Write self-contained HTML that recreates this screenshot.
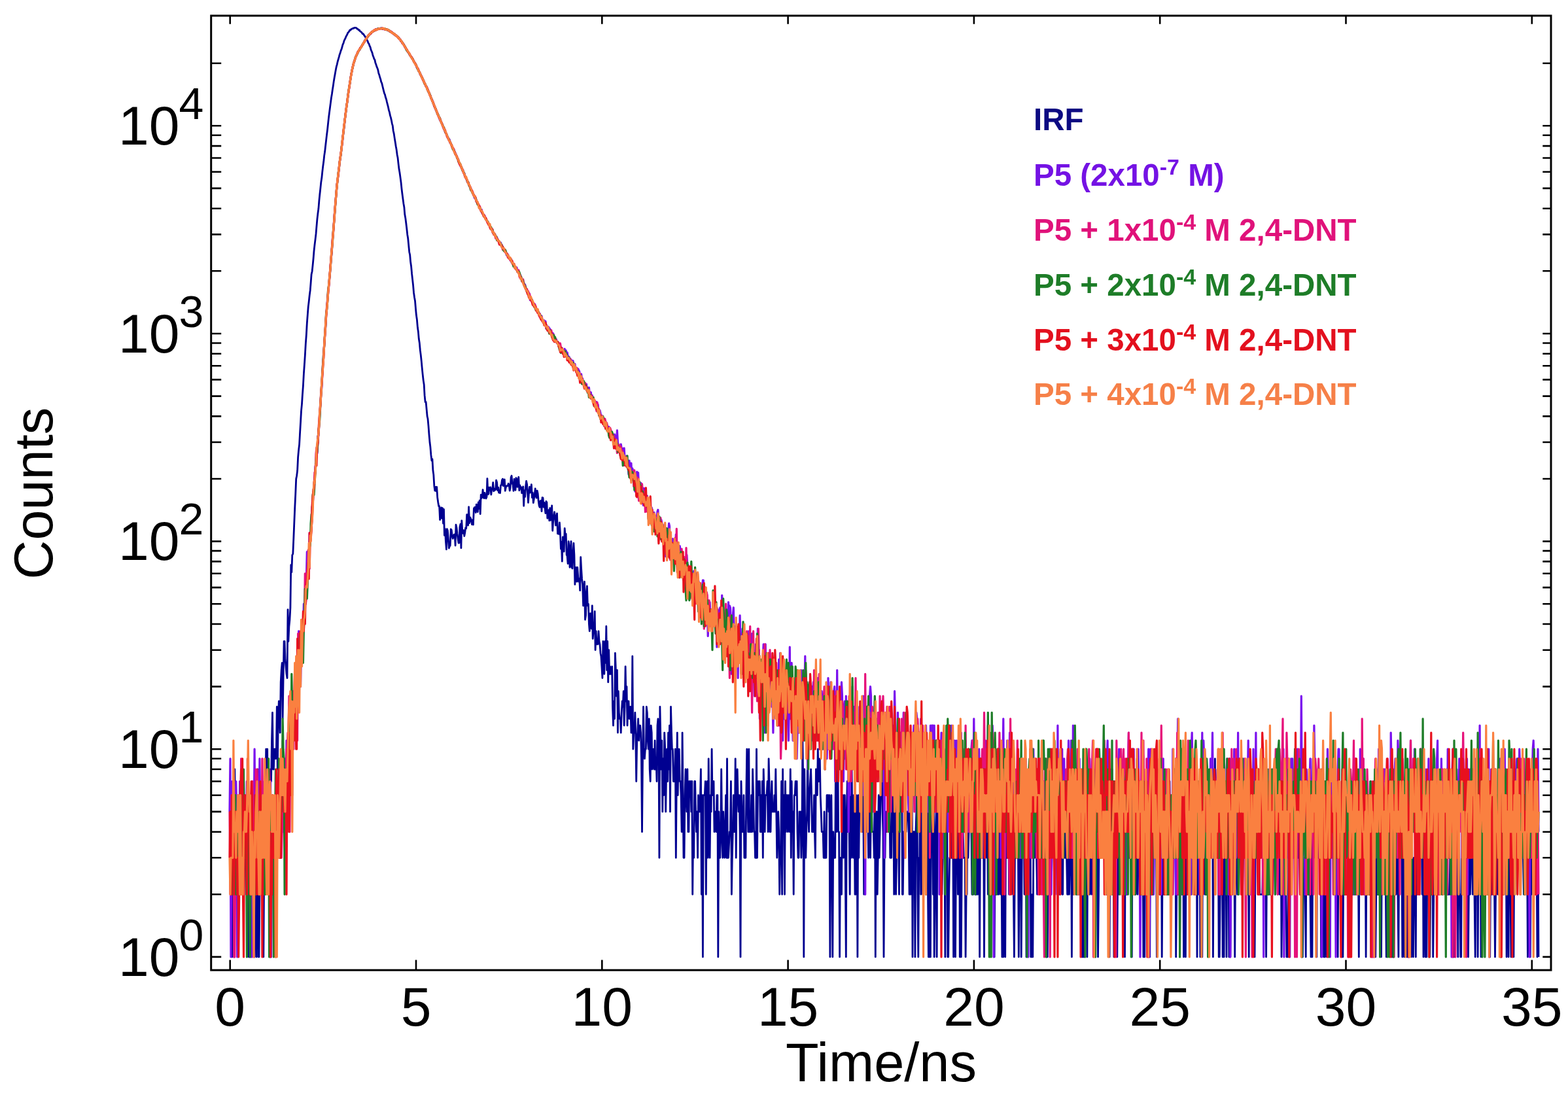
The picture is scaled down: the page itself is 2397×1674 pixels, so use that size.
<!DOCTYPE html>
<html><head><meta charset="utf-8"><title>Fluorescence decay</title>
<style>
html,body{margin:0;padding:0;background:#fff;}
svg{display:block;}
.tl{font-family:"Liberation Sans",Arial,sans-serif;font-size:84px;fill:#000;}
.at{font-family:"Liberation Sans",Arial,sans-serif;font-size:83px;fill:#000;}
.ts{font-family:"Liberation Sans",Arial,sans-serif;font-size:68px;fill:#000;}
.lg{font-family:"Liberation Sans",Arial,sans-serif;font-size:47.5px;font-weight:bold;}
.lgs{font-size:34px;}
.data polyline{fill:none;stroke-width:3.2;stroke-linejoin:round;}
</style></head>
<body>
<svg width="2397" height="1674" viewBox="0 0 2397 1674">
<rect width="2397" height="1674" fill="#fff"/>
<defs><clipPath id="cp"><rect x="322.7" y="24.0" width="2048.3" height="1459.1"/></clipPath></defs>
<g class="data" clip-path="url(#cp)">
<polyline points="351,1311.3 352,1311.3 353,1240.9 353.9,1240.9 354.9,1462.9 355.9,1367.3 356.9,1367.3 357.8,1367.3 358.8,1176 359.8,1271.7 360.8,1367.3 362.7,1367.3 363.7,1367.3 364.7,1367.3 365.7,1311.3 366.6,1367.3 367.6,1367.3 368.6,1311.3 369.6,1271.7 370.6,1367.3 371.5,1367.3 372.5,1367.3 373.5,1311.3 375.4,1271.7 376.4,1367.3 377.4,1367.3 378.4,1311.3 379.3,1367.3 380.3,1462.9 381.3,1311.3 382.3,1271.7 383.3,1367.3 384.2,1462.9 385.2,1367.3 386.2,1240.9 387.2,1215.7 388.1,1271.7 389.1,1462.9 390.1,1271.7 391.1,1367.3 392.1,1462.9 393,1194.5 394,1176 395,1462.9 396,1462.9 396.9,1367.3 397.9,1311.3 398.9,1240.9 399.9,1271.7 400.9,1271.7 401.8,1311.3 402.8,1462.9 403.8,1311.3 404.8,1311.3 405.7,1240.9 406.7,1145.2 407.7,1271.7 408.7,1145.2 409.7,1311.3 410.6,1194.5 411.6,1194.5 412.6,1215.7 413.6,1176 414.5,1194.5 415.5,1132.1 416.5,1089.3 417.5,1176 418.4,1176 419.4,1145.2 420.4,1145.2 421.4,1159.8 422.4,1145.2 423.3,1080.4 424.3,1176 425.3,1098.8 426.3,1072 427.2,1089.3 428.2,1120.1 429.2,1042.9 430.2,1024.5 431.2,1013.4 432.1,1098.8 433.1,1036.5 434.1,980.5 435.1,980.5 436,1008.2 437,1018.8 438,1030.3 439,1036.5 440,931.8 440.9,980.5 441.9,957.5 442.9,947.3 443.9,928.9 444.8,863.7 445.8,874.8 446.8,848.4 447.8,846.8 448.8,823.6 449.7,801.6 450.7,777.4 451.7,756.3 452.7,732.1 453.6,727.7 454.6,719.7 455.6,698.9 456.6,688 457.6,679.3 458.5,663 459.5,646.1 460.5,628.2 461.5,617.6 462.4,603.4 463.4,589.9 464.4,571.1 465.4,557.2 466.3,543.5 467.3,525.6 468.3,512.1 469.3,494.2 470.3,480.8 471.2,469.1 472.2,460.9 473.2,451.5 474.2,443.9 475.1,432.6 476.1,419.4 477.1,415 478.1,405.4 479.1,395 480,383.7 481,374.3 482,366.3 483,357.7 483.9,346.7 484.9,335.2 485.9,326.3 486.9,319 487.9,306.5 488.8,297.5 489.8,288.3 490.8,278.6 491.8,272.3 492.7,263.4 493.7,254.7 494.7,247.3 495.7,237.9 496.7,231.3 497.6,223 498.6,214.3 499.6,205.6 500.6,197.7 501.5,189.1 502.5,179.9 503.5,171.8 504.5,164.2 505.4,157.4 506.4,149.8 507.4,143.8 508.4,136.8 509.4,130.5 510.3,123.9 511.3,118 512.3,112.6 513.3,106.7 514.2,102.2 515.2,98.6 516.2,94 517.2,90.6 518.2,87.1 519.1,83.6 520.1,81 521.1,77.4 522.1,75.1 523,71.9 524,68.2 525,66.1 526,62.5 527,60.3 527.9,58.8 528.9,56.1 529.9,54.3 530.9,52.4 531.8,50 532.8,49.4 533.8,47.7 534.8,46 535.8,46.1 536.7,44.8 537.7,44.3 538.7,43.7 539.7,43.1 540.6,43.4 541.6,42.5 542.6,42.4 543.6,42.4 544.6,42.7 545.5,43.9 546.5,44 547.5,45 548.5,46.2 549.4,45.9 550.4,47.8 551.4,48.4 552.4,49.1 553.3,50.2 554.3,51.8 555.3,51.7 556.3,53.3 557.3,54.9 558.2,55.8 559.2,58.3 560.2,59.4 561.2,61.4 562.1,63 563.1,66.1 564.1,67.1 565.1,70.3 566.1,72.1 567,75.9 568,78.3 569,80.6 570,84.8 570.9,86.9 571.9,90 572.9,91.4 573.9,96.1 574.9,98.7 575.8,101.6 576.8,104 577.8,106.8 578.8,111.9 579.7,114.2 580.7,118 581.7,120.9 582.7,125.1 583.7,127.1 584.6,130.9 585.6,135.2 586.6,139.1 587.6,142.9 588.5,144.7 589.5,149.1 590.5,151.8 591.5,156.1 592.4,159.6 593.4,163.5 594.4,168.4 595.4,171.5 596.4,176.4 597.3,179.3 598.3,183.6 599.3,188.8 600.3,192.3 601.2,200 602.2,204.4 603.2,211.1 604.2,217.2 605.2,223.7 606.1,228.6 607.1,236.4 608.1,241.6 609.1,250.8 610,258.3 611,264 612,271.1 613,278.6 614,288.6 614.9,296 615.9,303.6 616.9,311.2 617.9,317 618.8,327.8 619.8,333.4 620.8,341.3 621.8,349.6 622.8,358.9 623.7,364.3 624.7,374.9 625.7,385.2 626.7,389.8 627.6,400.3 628.6,407.2 629.6,418.4 630.6,427.3 631.6,436.4 632.5,447.2 633.5,454.4 634.5,459.9 635.5,472.1 636.4,481.8 637.4,488.6 638.4,500.5 639.4,507.4 640.3,518.1 641.3,524.2 642.3,535.4 643.3,543.1 644.3,552.7 645.2,562.7 646.2,572.6 647.2,581.6 648.2,588 649.1,604.4 650.1,614.6 651.1,614.4 652.1,625.4 653.1,636.4 654,640.3 655,651.3 656,664.9 657,676.3 657.9,683.3 658.9,695.7 659.9,704 660.9,701.8 661.9,719.3 662.8,725.6 663.8,742.7 664.8,750.1 665.8,744.4 666.7,750.9 667.7,744.5 668.7,760.6 669.7,767.7 670.7,773.8 671.6,773.7 672.6,794.7 673.6,785.6 674.6,776 675.5,792.3 676.5,776.7 677.5,800.1 678.5,778.7 679.4,818.4 680.4,808.4 681.4,827.5 682.4,839.9 683.4,808.7 684.3,811.1 685.3,823.2 686.3,838 687.3,835.3 688.2,834 689.2,809 690.2,810.1 691.2,819.7 692.2,823.4 693.1,820.9 694.1,817.2 695.1,817.2 696.1,834 697,802.2 698,806.7 699,816 700,823.4 701,830 701.9,830 702.9,805.6 703.9,801.2 704.9,837.8 705.8,795.9 706.8,812.1 707.8,815.3 708.8,810.6 709.8,819.6 710.7,814.7 711.7,806.8 712.7,807.7 713.7,786.6 714.6,794.1 715.6,803 716.6,775 717.6,799.6 718.6,790.8 719.5,792.5 720.5,796.1 721.5,801.8 722.5,794.7 723.4,802.2 724.4,777.5 725.4,775.7 726.4,775.5 727.3,783.5 728.3,771.1 729.3,772.4 730.3,782.5 731.3,768 732.2,777.7 733.2,765.2 734.2,785.8 735.2,756.4 736.1,761.6 737.1,759.2 738.1,748.6 739.1,760.7 740.1,761.7 741,753.5 742,760.3 743,762 744,759.6 744.9,731.6 745.9,755.8 746.9,755 747.9,745.1 748.9,747.9 749.8,744.9 750.8,756.2 751.8,747 752.8,748 753.7,737.7 754.7,750.8 755.7,747.1 756.7,749.4 757.7,748.2 758.6,734.1 759.6,737.3 760.6,749.7 761.6,745 762.5,753.2 763.5,751.9 764.5,753.7 765.5,741.9 766.4,741.9 767.4,734.2 768.4,732.1 769.4,742.9 770.4,735.2 771.3,733 772.3,750.3 773.3,745 774.3,742.7 775.2,743.2 776.2,742.6 777.2,739.3 778.2,741.5 779.2,750.1 780.1,746 781.1,729.8 782.1,727.3 783.1,739.3 784,740.5 785,750.3 786,732.5 787,739.5 788,749.3 788.9,730.6 789.9,735.4 790.9,744.3 791.9,732.4 792.8,729.3 793.8,749.8 794.8,741.8 795.8,747.1 796.8,744.8 797.7,753.9 798.7,752.7 799.7,743.9 800.7,773.4 801.6,750 802.6,759.5 803.6,743.7 804.6,735.4 805.6,740.5 806.5,753.7 807.5,768.3 808.5,754 809.5,744.4 810.4,753 811.4,750 812.4,740.7 813.4,760.6 814.3,753.1 815.3,768.7 816.3,762.7 817.3,755 818.3,747 819.2,758.8 820.2,761.1 821.2,750.1 822.2,754.8 823.1,765.3 824.1,772.9 825.1,775.4 826.1,765.9 827.1,765.3 828,781.7 829,760.7 830,760.8 831,775.1 831.9,768.3 832.9,776.2 833.9,784.6 834.9,766.5 835.9,768.1 836.8,792.3 837.8,782 838.8,779.7 839.8,795.8 840.7,776.7 841.7,795.4 842.7,789.1 843.7,773 844.7,811.3 845.6,798.2 846.6,788.9 847.6,782.7 848.6,790.2 849.5,803.1 850.5,791.4 851.5,784.9 852.5,815.9 853.4,812.7 854.4,816.5 855.4,798.9 856.4,814.5 857.4,839.2 858.3,828.5 859.3,858.1 860.3,821 861.3,826.2 862.2,843.1 863.2,807.7 864.2,819.9 865.2,816.1 866.2,848.2 867.1,849.8 868.1,861.6 869.1,827.7 870.1,834.7 871,867.3 872,860.1 873,827.6 874,867.3 875,869.1 875.9,845.2 876.9,830.4 877.9,848.4 878.9,893.5 879.8,876.8 880.8,867.3 881.8,889.2 882.8,867.3 883.8,882.8 884.7,889.2 885.7,884.9 886.7,902.7 887.7,851.7 888.6,869.1 889.6,884.9 890.6,893.5 891.6,926 892.6,905.1 893.5,889.2 894.5,947.3 895.5,940.9 896.5,905.1 897.4,895.8 898.4,926 899.4,923.2 900.4,954 901.3,964.8 902.3,937.8 903.3,937.8 904.3,961.1 905.3,926 906.2,976.4 907.2,964.8 908.2,961.1 909.2,934.7 910.1,993.7 911.1,964.8 912.1,984.8 913.1,984.8 914.1,984.8 915,964.8 916,980.5 917,984.8 918,998.4 918.9,1003.2 919.9,1018.8 920.9,1036.5 921.9,980.5 922.9,1024.5 923.8,1030.3 924.8,980.5 925.8,1013.4 926.8,957.5 927.7,1024.5 928.7,980.5 929.7,1042.9 930.7,993.7 931.7,1030.3 932.6,1018.8 933.6,1030.3 934.6,1030.3 935.6,1018.8 936.5,1080.4 937.5,1109.1 938.5,1072 939.5,1098.8 940.4,998.4 941.4,1024.5 942.4,1064.2 943.4,1024.5 944.4,1120.1 945.3,1056.7 946.3,1089.3 947.3,1098.8 948.3,1098.8 949.2,1120.1 950.2,1089.3 951.2,1072 952.2,1080.4 953.2,1056.7 954.1,1109.1 955.1,1080.4 956.1,1018.8 957.1,1072 958,1049.6 959,1109.1 960,1072 961,1072 962,1098.8 962.9,1089.3 963.9,1080.4 964.9,1120.1 965.9,1120.1 966.8,1003.2 967.8,1145.2 968.8,1120.1 969.8,1120.1 970.8,1089.3 971.7,1120.1 972.7,1194.5 973.7,1132.1 974.7,1120.1 975.6,1098.8 976.6,1132.1 977.6,1109.1 978.6,1109.1 979.6,1120.1 980.5,1159.8 981.5,1271.7 982.5,1159.8 983.5,1080.4 984.4,1145.2 985.4,1159.8 986.4,1145.2 987.4,1145.2 988.3,1080.4 989.3,1089.3 990.3,1132.1 991.3,1145.2 992.3,1098.8 993.2,1176 994.2,1194.5 995.2,1109.1 996.2,1120.1 997.1,1176 998.1,1159.8 999.1,1145.2 1000.1,1176 1001.1,1132.1 1002,1176 1003,1159.8 1004,1194.5 1005,1109.1 1005.9,1098.8 1006.9,1132.1 1007.9,1311.3 1008.9,1080.4 1009.9,1132.1 1010.8,1176 1011.8,1132.1 1012.8,1240.9 1013.8,1159.8 1014.7,1215.7 1015.7,1120.1 1016.7,1145.2 1017.7,1240.9 1018.7,1176 1019.6,1145.2 1020.6,1194.5 1021.6,1120.1 1022.6,1176 1023.5,1109.1 1024.5,1240.9 1025.5,1080.4 1026.5,1120.1 1027.4,1145.2 1028.4,1145.2 1029.4,1194.5 1030.4,1194.5 1031.4,1194.5 1032.3,1145.2 1033.3,1311.3 1034.3,1194.5 1035.3,1120.1 1036.2,1215.7 1037.2,1159.8 1038.2,1145.2 1039.2,1194.5 1040.2,1194.5 1041.1,1215.7 1042.1,1271.7 1043.1,1120.1 1044.1,1215.7 1045,1311.3 1046,1311.3 1047,1215.7 1048,1176 1049,1215.7 1049.9,1240.9 1050.9,1176 1051.9,1271.7 1052.9,1271.7 1053.8,1194.5 1054.8,1215.7 1055.8,1194.5 1056.8,1240.9 1057.8,1194.5 1058.7,1367.3 1059.7,1271.7 1060.7,1311.3 1061.7,1194.5 1062.6,1194.5 1063.6,1240.9 1064.6,1271.7 1065.6,1240.9 1066.6,1311.3 1067.5,1215.7 1068.5,1240.9 1069.5,1240.9 1070.5,1215.7 1071.4,1176 1072.4,1367.3 1073.4,1215.7 1074.4,1462.9 1075.3,1215.7 1076.3,1215.7 1077.3,1215.7 1078.3,1194.5 1079.3,1367.3 1080.2,1240.9 1081.2,1194.5 1082.2,1311.3 1083.2,1159.8 1084.1,1240.9 1085.1,1311.3 1086.1,1215.7 1087.1,1240.9 1088.1,1145.2 1089,1215.7 1090,1215.7 1091,1194.5 1092,1271.7 1092.9,1240.9 1093.9,1240.9 1094.9,1271.7 1095.9,1215.7 1096.9,1215.7 1097.8,1462.9 1098.8,1240.9 1099.8,1311.3 1100.8,1311.3 1101.7,1271.7 1102.7,1176 1103.7,1271.7 1104.7,1311.3 1105.7,1240.9 1106.6,1271.7 1107.6,1311.3 1108.6,1271.7 1109.6,1215.7 1110.5,1311.3 1111.5,1159.8 1112.5,1311.3 1113.5,1311.3 1115.4,1271.7 1116.4,1271.7 1117.4,1194.5 1118.4,1367.3 1119.3,1311.3 1120.3,1271.7 1121.3,1215.7 1122.3,1271.7 1123.2,1271.7 1124.2,1159.8 1125.2,1311.3 1126.2,1194.5 1127.2,1176 1128.1,1215.7 1129.1,1240.9 1130.1,1215.7 1131.1,1271.7 1132,1462.9 1133,1194.5 1134,1240.9 1135,1271.7 1136,1271.7 1136.9,1215.7 1137.9,1311.3 1138.9,1311.3 1139.9,1311.3 1140.8,1215.7 1141.8,1145.2 1142.8,1215.7 1143.8,1271.7 1144.8,1145.2 1145.7,1271.7 1146.7,1271.7 1147.7,1271.7 1148.7,1215.7 1149.6,1271.7 1150.6,1176 1151.6,1215.7 1152.6,1271.7 1153.6,1271.7 1154.5,1311.3 1155.5,1311.3 1156.5,1145.2 1157.5,1311.3 1158.4,1215.7 1159.4,1194.5 1160.4,1215.7 1161.4,1194.5 1162.3,1271.7 1163.3,1215.7 1164.3,1271.7 1165.3,1194.5 1166.3,1311.3 1167.2,1176 1168.2,1215.7 1169.2,1271.7 1170.2,1215.7 1171.1,1215.7 1172.1,1215.7 1173.1,1194.5 1174.1,1271.7 1175.1,1159.8 1176,1194.5 1177,1271.7 1178,1271.7 1179,1215.7 1179.9,1194.5 1180.9,1240.9 1181.9,1240.9 1182.9,1240.9 1183.9,1215.7 1184.8,1240.9 1185.8,1176 1186.8,1240.9 1187.8,1311.3 1188.7,1271.7 1189.7,1240.9 1190.7,1271.7 1191.7,1367.3 1192.7,1311.3 1193.6,1311.3 1194.6,1194.5 1195.6,1367.3 1196.6,1176 1197.5,1271.7 1198.5,1215.7 1199.5,1367.3 1200.5,1194.5 1201.4,1271.7 1202.4,1215.7 1203.4,1215.7 1204.4,1271.7 1205.4,1215.7 1206.3,1240.9 1207.3,1271.7 1208.3,1176 1209.3,1311.3 1210.2,1194.5 1211.2,1271.7 1212.2,1240.9 1213.2,1367.3 1214.2,1215.7 1215.1,1215.7 1216.1,1194.5 1217.1,1215.7 1218.1,1194.5 1219,1271.7 1220,1311.3 1221,1311.3 1222,1240.9 1223,1271.7 1223.9,1240.9 1224.9,1311.3 1225.9,1271.7 1226.9,1132.1 1227.8,1194.5 1228.8,1462.9 1229.8,1176 1230.8,1271.7 1231.8,1311.3 1232.7,1271.7 1233.7,1240.9 1234.7,1145.2 1235.7,1240.9 1236.6,1271.7 1237.6,1215.7 1238.6,1194.5 1239.6,1176 1240.6,1215.7 1241.5,1271.7 1242.5,1271.7 1243.5,1271.7 1244.5,1215.7 1245.4,1271.7 1246.4,1311.3 1247.4,1176 1248.4,1194.5 1249.3,1215.7 1250.3,1145.2 1251.3,1194.5 1252.3,1194.5 1253.3,1159.8 1254.2,1215.7 1255.2,1240.9 1256.2,1271.7 1257.2,1271.7 1258.1,1271.7 1259.1,1311.3 1260.1,1240.9 1261.1,1311.3 1263,1311.3 1264,1215.7 1265,1215.7 1266,1215.7 1266.9,1240.9 1267.9,1215.7 1268.9,1462.9 1269.9,1271.7 1270.9,1215.7 1271.8,1311.3 1272.8,1462.9 1273.8,1271.7 1274.8,1311.3 1275.7,1311.3 1276.7,1311.3 1277.7,1132.1 1278.7,1271.7 1279.7,1240.9 1280.6,1120.1 1281.6,1271.7 1282.6,1271.7 1283.6,1462.9 1284.5,1311.3 1285.5,1311.3 1286.5,1367.3 1287.5,1215.7 1288.4,1215.7 1289.4,1311.3 1290.4,1215.7 1291.4,1215.7 1293.3,1462.9 1294.3,1240.9 1295.3,1194.5 1296.3,1271.7 1297.2,1240.9 1298.2,1271.7 1299.2,1367.3 1300.2,1215.7 1301.2,1311.3 1302.1,1176 1303.1,1271.7 1304.1,1311.3 1305.1,1215.7 1306,1240.9 1307,1367.3 1308,1367.3 1309,1215.7 1310,1240.9 1310.9,1462.9 1311.9,1215.7 1312.9,1311.3 1313.9,1215.7 1314.8,1240.9 1315.8,1240.9 1316.8,1194.5 1317.8,1240.9 1318.8,1271.7 1319.7,1215.7 1320.7,1367.3 1321.7,1240.9 1322.7,1132.1 1323.6,1194.5 1324.6,1271.7 1325.6,1240.9 1326.6,1240.9 1327.6,1311.3 1328.5,1159.8 1329.5,1240.9 1330.5,1311.3 1331.5,1240.9 1332.4,1240.9 1333.4,1271.7 1334.4,1271.7 1335.4,1271.7 1336.3,1311.3 1337.3,1176 1338.3,1462.9 1339.3,1240.9 1340.3,1240.9 1341.2,1367.3 1342.2,1311.3 1343.2,1215.7 1344.2,1311.3 1345.1,1271.7 1346.1,1215.7 1348.1,1176 1349.1,1240.9 1350,1271.7 1351,1462.9 1352,1311.3 1353,1311.3 1353.9,1240.9 1354.9,1271.7 1355.9,1271.7 1356.9,1215.7 1357.9,1159.8 1358.8,1240.9 1359.8,1215.7 1360.8,1311.3 1361.8,1311.3 1362.7,1311.3 1363.7,1194.5 1364.7,1271.7 1365.7,1215.7 1366.7,1367.3 1367.6,1215.7 1368.6,1240.9 1369.6,1367.3 1370.6,1311.3 1371.5,1271.7 1372.5,1271.7 1373.5,1271.7 1374.5,1367.3 1375.4,1194.5 1376.4,1215.7 1377.4,1240.9 1378.4,1120.1 1379.4,1367.3 1380.3,1367.3 1381.3,1271.7 1382.3,1271.7 1383.3,1271.7 1384.2,1240.9 1385.2,1271.7 1386.2,1240.9 1387.2,1240.9 1388.2,1240.9 1389.1,1271.7 1390.1,1367.3 1391.1,1176 1392.1,1367.3 1393,1215.7 1394,1159.8 1395,1462.9 1396,1271.7 1397,1271.7 1397.9,1271.7 1398.9,1462.9 1399.9,1271.7 1400.9,1240.9 1401.8,1176 1402.8,1367.3 1403.8,1462.9 1404.8,1311.3 1405.8,1311.3 1406.7,1176 1407.7,1367.3 1408.7,1271.7 1409.7,1215.7 1410.6,1367.3 1411.6,1271.7 1412.6,1271.7 1413.6,1311.3 1414.6,1311.3 1415.5,1271.7 1416.5,1311.3 1417.5,1240.9 1418.5,1367.3 1419.4,1462.9 1420.4,1194.5 1421.4,1462.9 1422.4,1462.9 1423.3,1215.7 1424.3,1271.7 1425.3,1240.9 1426.3,1367.3 1427.3,1194.5 1428.2,1462.9 1430.2,1271.7 1431.2,1240.9 1432.1,1462.9 1433.1,1215.7 1434.1,1215.7 1435.1,1240.9 1436.1,1240.9 1437,1159.8 1438,1240.9 1439,1311.3 1440,1367.3 1440.9,1311.3 1441.9,1194.5 1442.9,1159.8 1443.9,1271.7 1444.9,1462.9 1445.8,1240.9 1446.8,1194.5 1447.8,1240.9 1448.8,1462.9 1449.7,1462.9 1450.7,1367.3 1451.7,1311.3 1452.7,1311.3 1453.7,1176 1454.6,1311.3 1455.6,1194.5 1456.6,1215.7 1457.6,1462.9 1458.5,1271.7 1459.5,1240.9 1460.5,1462.9 1461.5,1311.3 1462.4,1240.9 1463.4,1240.9 1464.4,1367.3 1465.4,1311.3 1466.4,1176 1467.3,1462.9 1468.3,1271.7 1469.3,1462.9 1470.3,1311.3 1471.2,1311.3 1472.2,1271.7 1473.2,1311.3 1474.2,1311.3 1475.2,1311.3 1476.1,1462.9 1477.1,1367.3 1478.1,1367.3 1479.1,1215.7 1480,1311.3 1481,1271.7 1482,1240.9 1483,1271.7 1484,1240.9 1484.9,1271.7 1485.9,1367.3 1486.9,1215.7 1487.9,1367.3 1488.8,1194.5 1489.8,1240.9 1490.8,1367.3 1491.8,1367.3 1492.8,1367.3 1493.7,1271.7 1494.7,1367.3 1495.7,1240.9 1496.7,1240.9 1497.6,1462.9 1498.6,1240.9 1499.6,1215.7 1500.6,1311.3 1501.6,1194.5 1502.5,1240.9 1503.5,1240.9 1504.5,1462.9 1505.5,1271.7 1506.4,1271.7 1507.4,1271.7 1508.4,1311.3 1509.4,1240.9 1510.3,1367.3 1511.3,1240.9 1512.3,1215.7 1513.3,1462.9 1514.3,1271.7 1515.2,1311.3 1516.2,1176 1517.2,1240.9 1518.2,1311.3 1519.1,1271.7 1520.1,1462.9 1521.1,1311.3 1522.1,1367.3 1523.1,1240.9 1524,1271.7 1525,1367.3 1526,1240.9 1527,1367.3 1527.9,1271.7 1528.9,1271.7 1529.9,1367.3 1530.9,1311.3 1531.9,1462.9 1532.8,1271.7 1533.8,1462.9 1534.8,1271.7 1535.8,1367.3 1536.7,1462.9 1537.7,1240.9 1538.7,1311.3 1539.7,1311.3 1540.7,1240.9 1541.6,1240.9 1542.6,1367.3 1543.6,1271.7 1544.6,1311.3 1545.5,1311.3 1546.5,1271.7 1547.5,1311.3 1548.5,1367.3 1549.4,1367.3 1550.4,1462.9 1551.4,1311.3 1552.4,1215.7 1553.4,1311.3 1554.3,1311.3 1555.3,1311.3 1556.3,1271.7 1557.3,1462.9 1558.2,1311.3 1559.2,1311.3 1560.2,1311.3 1561.2,1462.9 1562.2,1311.3 1563.1,1311.3 1564.1,1311.3 1565.1,1240.9 1566.1,1367.3 1567,1240.9 1568,1215.7 1569,1462.9 1570,1311.3 1571,1240.9 1571.9,1240.9 1573.9,1240.9 1574.9,1194.5 1575.8,1462.9 1576.8,1367.3 1577.8,1462.9 1578.8,1462.9 1579.8,1311.3 1580.7,1271.7 1581.7,1311.3 1582.7,1215.7 1583.7,1240.9 1584.6,1311.3 1585.6,1367.3 1586.6,1271.7 1587.6,1271.7 1588.6,1271.7 1589.5,1240.9 1590.5,1215.7 1591.5,1311.3 1592.5,1240.9 1593.4,1271.7 1594.4,1240.9 1595.4,1271.7 1596.4,1194.5 1597.3,1240.9 1598.3,1240.9 1599.3,1462.9 1601.3,1462.9 1602.2,1311.3 1603.2,1215.7 1604.2,1271.7 1605.2,1240.9 1606.1,1311.3 1607.1,1240.9 1608.1,1271.7 1610.1,1271.7 1611,1311.3 1612,1367.3 1613,1311.3 1614,1271.7 1614.9,1311.3 1616.9,1240.9 1617.9,1215.7 1618.9,1367.3 1619.8,1311.3 1620.8,1367.3 1621.8,1311.3 1622.8,1311.3 1623.7,1367.3 1624.7,1367.3 1625.7,1176 1626.7,1271.7 1627.7,1311.3 1628.6,1311.3 1629.6,1271.7 1630.6,1311.3 1631.6,1367.3 1632.5,1367.3 1633.5,1311.3 1634.5,1367.3 1635.5,1311.3 1636.4,1271.7 1637.4,1240.9 1638.4,1462.9 1639.4,1240.9 1640.4,1367.3 1641.3,1311.3 1642.3,1215.7 1643.3,1240.9 1644.3,1311.3 1645.2,1215.7 1646.2,1271.7 1647.2,1367.3 1648.2,1311.3 1649.2,1367.3 1650.1,1311.3 1651.1,1311.3 1652.1,1240.9 1653.1,1271.7 1654,1462.9 1655,1176 1656,1462.9 1657,1240.9 1658,1462.9 1658.9,1367.3 1659.9,1311.3 1660.9,1311.3 1661.9,1462.9 1662.8,1271.7 1663.8,1271.7 1664.8,1311.3 1665.8,1367.3 1666.8,1271.7 1667.7,1271.7 1668.7,1367.3 1670.7,1271.7 1671.6,1271.7 1672.6,1311.3 1673.6,1367.3 1674.6,1462.9 1675.6,1240.9 1676.5,1215.7 1677.5,1194.5 1678.5,1462.9 1679.5,1367.3 1680.4,1240.9 1681.4,1271.7 1682.4,1311.3 1683.4,1240.9 1684.3,1215.7 1685.3,1271.7 1686.3,1271.7 1687.3,1194.5 1688.3,1240.9 1689.2,1194.5 1690.2,1240.9 1691.2,1311.3 1692.2,1367.3 1693.1,1311.3 1694.1,1194.5 1695.1,1311.3 1696.1,1462.9 1697.1,1215.7 1698,1194.5 1699,1367.3 1700,1271.7 1701,1271.7 1701.9,1194.5 1702.9,1462.9 1703.9,1240.9 1704.9,1311.3 1705.9,1311.3 1706.8,1271.7 1707.8,1462.9 1708.8,1311.3 1709.8,1367.3 1710.7,1311.3 1711.7,1271.7 1712.7,1271.7 1713.7,1271.7 1714.7,1311.3 1715.6,1240.9 1716.6,1311.3 1717.6,1271.7 1718.6,1271.7 1719.5,1462.9 1720.5,1215.7 1721.5,1367.3 1722.5,1367.3 1723.4,1215.7 1724.4,1311.3 1725.4,1240.9 1726.4,1311.3 1727.4,1271.7 1728.3,1311.3 1729.3,1311.3 1730.3,1462.9 1731.3,1215.7 1732.2,1311.3 1733.2,1311.3 1734.2,1271.7 1735.2,1194.5 1736.2,1367.3 1737.1,1311.3 1738.1,1215.7 1739.1,1367.3 1740.1,1311.3 1741,1311.3 1742,1271.7 1744,1240.9 1745,1367.3 1745.9,1367.3 1746.9,1240.9 1747.9,1462.9 1748.9,1367.3 1749.8,1462.9 1750.8,1240.9 1751.8,1271.7 1752.8,1215.7 1753.8,1215.7 1754.7,1215.7 1755.7,1240.9 1756.7,1240.9 1757.7,1462.9 1758.6,1271.7 1759.6,1194.5 1760.6,1367.3 1761.6,1367.3 1762.6,1271.7 1763.5,1271.7 1764.5,1311.3 1765.5,1311.3 1766.5,1311.3 1767.4,1271.7 1768.4,1462.9 1769.4,1311.3 1770.4,1311.3 1771.3,1311.3 1772.3,1367.3 1773.3,1367.3 1774.3,1271.7 1775.3,1240.9 1776.2,1462.9 1777.2,1311.3 1778.2,1367.3 1779.2,1271.7 1780.1,1311.3 1781.1,1271.7 1782.1,1240.9 1783.1,1271.7 1784.1,1367.3 1785,1367.3 1786,1311.3 1787,1367.3 1788,1194.5 1788.9,1311.3 1789.9,1367.3 1791.9,1240.9 1792.9,1367.3 1793.8,1215.7 1794.8,1240.9 1795.8,1311.3 1796.8,1215.7 1797.7,1462.9 1798.7,1367.3 1799.7,1367.3 1800.7,1367.3 1801.7,1194.5 1802.6,1271.7 1803.6,1462.9 1804.6,1271.7 1805.6,1311.3 1806.5,1311.3 1807.5,1271.7 1808.5,1240.9 1809.5,1462.9 1810.4,1311.3 1811.4,1240.9 1812.4,1462.9 1813.4,1240.9 1814.4,1240.9 1815.3,1367.3 1816.3,1271.7 1817.3,1215.7 1818.3,1240.9 1819.2,1271.7 1820.2,1271.7 1821.2,1367.3 1822.2,1311.3 1823.2,1240.9 1824.1,1271.7 1825.1,1311.3 1826.1,1367.3 1827.1,1367.3 1828,1311.3 1829,1194.5 1830,1462.9 1831,1194.5 1832,1240.9 1832.9,1367.3 1833.9,1194.5 1834.9,1462.9 1835.9,1271.7 1836.8,1367.3 1837.8,1462.9 1838.8,1240.9 1839.8,1311.3 1840.8,1215.7 1841.7,1367.3 1842.7,1271.7 1843.7,1367.3 1844.7,1367.3 1845.6,1367.3 1846.6,1367.3 1847.6,1367.3 1848.6,1271.7 1849.6,1194.5 1850.5,1271.7 1851.5,1271.7 1853.5,1194.5 1854.4,1462.9 1855.4,1271.7 1856.4,1240.9 1857.4,1159.8 1858.3,1311.3 1859.3,1240.9 1860.3,1271.7 1861.3,1194.5 1862.3,1271.7 1863.2,1462.9 1864.2,1462.9 1865.2,1367.3 1866.2,1367.3 1867.1,1215.7 1868.1,1271.7 1869.1,1462.9 1870.1,1215.7 1871.1,1462.9 1872,1215.7 1873,1311.3 1874,1311.3 1875,1462.9 1875.9,1271.7 1876.9,1367.3 1877.9,1271.7 1878.9,1462.9 1879.9,1271.7 1880.8,1462.9 1881.8,1311.3 1882.8,1240.9 1883.8,1311.3 1884.7,1311.3 1885.7,1311.3 1886.7,1271.7 1887.7,1462.9 1888.7,1311.3 1889.6,1271.7 1891.6,1367.3 1892.6,1311.3 1893.5,1367.3 1894.5,1311.3 1895.5,1271.7 1896.5,1311.3 1897.4,1215.7 1898.4,1367.3 1899.4,1367.3 1900.4,1311.3 1901.4,1271.7 1902.3,1176 1903.3,1271.7 1905.3,1240.9 1906.2,1240.9 1907.2,1240.9 1908.2,1215.7 1909.2,1462.9 1910.2,1194.5 1911.1,1311.3 1912.1,1271.7 1913.1,1271.7 1914.1,1367.3 1915,1367.3 1916,1240.9 1917,1367.3 1918,1462.9 1919,1311.3 1919.9,1240.9 1920.9,1311.3 1921.9,1271.7 1922.9,1271.7 1923.8,1311.3 1924.8,1311.3 1925.8,1367.3 1926.8,1367.3 1927.8,1367.3 1928.7,1367.3 1929.7,1367.3 1930.7,1311.3 1931.7,1159.8 1932.6,1367.3 1933.6,1271.7 1934.6,1271.7 1935.6,1462.9 1936.6,1311.3 1937.5,1367.3 1938.5,1367.3 1939.5,1311.3 1940.5,1311.3 1941.4,1367.3 1942.4,1311.3 1943.4,1367.3 1944.4,1240.9 1945.3,1311.3 1946.3,1240.9 1947.3,1240.9 1948.3,1311.3 1949.3,1367.3 1950.2,1240.9 1951.2,1311.3 1952.2,1311.3 1953.2,1367.3 1954.1,1311.3 1955.1,1311.3 1956.1,1367.3 1957.1,1367.3 1958.1,1240.9 1959,1462.9 1960,1367.3 1961,1271.7 1962,1215.7 1962.9,1311.3 1963.9,1271.7 1964.9,1271.7 1965.9,1367.3 1966.9,1462.9 1967.8,1462.9 1968.8,1462.9 1969.8,1311.3 1970.8,1311.3 1971.7,1271.7 1972.7,1240.9 1973.7,1240.9 1974.7,1271.7 1975.7,1271.7 1976.6,1271.7 1977.6,1271.7 1978.6,1271.7 1979.6,1367.3 1980.5,1367.3 1981.5,1367.3 1982.5,1271.7 1983.5,1240.9 1984.4,1311.3 1985.4,1240.9 1986.4,1311.3 1987.4,1367.3 1988.4,1271.7 1989.3,1311.3 1990.3,1462.9 1991.3,1462.9 1992.3,1367.3 1994.2,1311.3 1995.2,1367.3 1996.2,1462.9 1997.2,1240.9 1998.1,1240.9 1999.1,1367.3 2000.1,1367.3 2001.1,1240.9 2002,1367.3 2003,1367.3 2004,1462.9 2005,1271.7 2006,1462.9 2006.9,1271.7 2007.9,1271.7 2008.9,1159.8 2009.9,1240.9 2010.8,1240.9 2011.8,1194.5 2012.8,1462.9 2013.8,1240.9 2015.7,1311.3 2017.7,1311.3 2018.7,1271.7 2019.6,1462.9 2020.6,1367.3 2021.6,1311.3 2022.6,1240.9 2023.6,1462.9 2024.5,1311.3 2025.5,1462.9 2026.5,1311.3 2027.5,1367.3 2028.4,1462.9 2029.4,1367.3 2030.4,1240.9 2031.4,1176 2032.3,1367.3 2033.3,1240.9 2034.3,1240.9 2035.3,1311.3 2037.2,1240.9 2038.2,1271.7 2039.2,1367.3 2040.2,1311.3 2041.1,1367.3 2042.1,1311.3 2044.1,1271.7 2045.1,1462.9 2046,1311.3 2047,1367.3 2048,1240.9 2049,1311.3 2049.9,1367.3 2050.9,1462.9 2051.9,1311.3 2052.9,1462.9 2053.9,1311.3 2054.8,1311.3 2055.8,1367.3 2056.8,1215.7 2057.8,1240.9 2058.7,1367.3 2059.7,1367.3 2061.7,1215.7 2062.7,1367.3 2063.6,1311.3 2064.6,1367.3 2065.6,1271.7 2066.6,1215.7 2068.5,1367.3 2069.5,1271.7 2070.5,1311.3 2071.4,1367.3 2072.4,1240.9 2073.4,1240.9 2074.4,1367.3 2075.4,1311.3 2076.3,1311.3 2077.3,1462.9 2078.3,1240.9 2079.3,1240.9 2080.2,1240.9 2081.2,1240.9 2082.2,1176 2083.2,1176 2085.1,1367.3 2086.1,1271.7 2087.1,1271.7 2088.1,1462.9 2089,1311.3 2090,1240.9 2091,1367.3 2092,1311.3 2093,1271.7 2093.9,1367.3 2094.9,1271.7 2095.9,1462.9 2096.9,1367.3 2097.8,1271.7 2098.8,1271.7 2099.8,1215.7 2100.8,1271.7 2101.8,1311.3 2102.7,1462.9 2103.7,1367.3 2104.7,1271.7 2105.7,1367.3 2106.6,1271.7 2107.6,1271.7 2108.6,1367.3 2109.6,1271.7 2110.6,1367.3 2111.5,1462.9 2112.5,1271.7 2113.5,1367.3 2114.5,1311.3 2115.4,1271.7 2117.4,1367.3 2118.4,1367.3 2119.3,1462.9 2120.3,1311.3 2121.3,1271.7 2122.3,1311.3 2123.3,1271.7 2124.2,1311.3 2127.2,1462.9 2128.1,1367.3 2129.1,1462.9 2130.1,1462.9 2131.1,1311.3 2132.1,1367.3 2133,1367.3 2134,1367.3 2135,1176 2136,1271.7 2136.9,1367.3 2137.9,1462.9 2138.9,1240.9 2139.9,1311.3 2142.8,1271.7 2143.8,1462.9 2144.8,1240.9 2145.7,1367.3 2146.7,1462.9 2147.7,1311.3 2148.7,1311.3 2149.7,1194.5 2150.6,1462.9 2151.6,1311.3 2152.6,1462.9 2153.6,1240.9 2154.5,1367.3 2155.5,1367.3 2156.5,1367.3 2157.5,1462.9 2158.4,1271.7 2159.4,1367.3 2160.4,1462.9 2161.4,1311.3 2162.4,1311.3 2163.3,1367.3 2164.3,1462.9 2165.3,1240.9 2166.3,1215.7 2167.2,1271.7 2168.2,1271.7 2169.2,1311.3 2170.2,1271.7 2171.2,1311.3 2172.1,1311.3 2173.1,1240.9 2174.1,1367.3 2175.1,1240.9 2176,1462.9 2177,1271.7 2178,1367.3 2179,1462.9 2180,1240.9 2180.9,1462.9 2181.9,1311.3 2182.9,1367.3 2183.9,1271.7 2184.8,1311.3 2185.8,1462.9 2186.8,1367.3 2187.8,1311.3 2188.8,1367.3 2189.7,1215.7 2190.7,1462.9 2191.7,1367.3 2192.7,1240.9 2193.6,1271.7 2194.6,1311.3 2195.6,1240.9 2196.6,1176 2197.6,1271.7 2198.5,1271.7 2199.5,1367.3 2200.5,1367.3 2202.4,1311.3 2203.4,1271.7 2204.4,1215.7 2205.4,1367.3 2206.3,1367.3 2207.3,1240.9 2208.3,1271.7 2209.3,1367.3 2210.3,1240.9 2211.2,1311.3 2212.2,1271.7 2213.2,1367.3 2214.2,1367.3 2215.1,1367.3 2216.1,1367.3 2217.1,1271.7 2218.1,1240.9 2219.1,1240.9 2220,1311.3 2221,1462.9 2222,1176 2223,1462.9 2223.9,1271.7 2224.9,1240.9 2225.9,1367.3 2226.9,1367.3 2227.9,1271.7 2228.8,1462.9 2229.8,1240.9 2230.8,1367.3 2231.8,1367.3 2232.7,1462.9 2233.7,1462.9 2234.7,1194.5 2235.7,1311.3 2236.7,1367.3 2237.6,1240.9 2238.6,1367.3 2239.6,1367.3 2240.6,1367.3 2241.5,1194.5 2242.5,1367.3 2243.5,1311.3 2244.5,1462.9 2246.4,1240.9 2247.4,1367.3 2248.4,1311.3 2249.4,1311.3 2250.3,1311.3 2251.3,1367.3 2252.3,1215.7 2253.3,1311.3 2255.2,1462.9 2256.2,1271.7 2257.2,1311.3 2258.2,1271.7 2259.1,1462.9 2260.1,1311.3 2261.1,1215.7 2262.1,1271.7 2263,1240.9 2264,1462.9 2266,1311.3 2267,1367.3 2268.9,1240.9 2269.9,1215.7 2270.9,1240.9 2271.8,1367.3 2272.8,1311.3 2273.8,1271.7 2274.8,1311.3 2275.8,1311.3 2276.7,1194.5 2277.7,1462.9 2278.7,1311.3 2279.7,1240.9 2280.6,1367.3 2281.6,1311.3 2282.6,1311.3 2283.6,1240.9 2284.6,1367.3 2285.5,1462.9 2286.5,1367.3 2287.5,1240.9 2288.5,1271.7 2289.4,1367.3 2290.4,1215.7 2291.4,1215.7 2294.3,1462.9 2295.3,1311.3 2296.3,1311.3 2297.3,1215.7 2298.2,1194.5 2299.2,1367.3 2300.2,1215.7 2301.2,1311.3 2302.1,1240.9 2303.1,1462.9 2304.1,1311.3 2305.1,1311.3 2306.1,1462.9 2307,1159.8 2308,1215.7 2309,1367.3 2310,1462.9 2310.9,1311.3 2311.9,1311.3 2312.9,1311.3 2313.9,1462.9 2314.9,1271.7 2315.8,1176 2316.8,1271.7 2317.8,1271.7 2318.8,1271.7 2320.7,1271.7 2322.7,1176 2323.7,1240.9 2324.6,1367.3 2325.6,1215.7 2326.6,1215.7 2327.6,1271.7 2328.5,1311.3 2329.5,1367.3 2330.5,1367.3 2331.5,1367.3 2332.4,1240.9 2333.4,1215.7 2334.4,1271.7 2335.4,1462.9 2337.3,1367.3 2338.3,1367.3 2339.3,1462.9 2340.3,1311.3 2341.2,1367.3 2342.2,1311.3 2343.2,1311.3 2344.2,1215.7 2345.2,1311.3 2346.1,1311.3 2347.1,1311.3 2348.1,1240.9 2349.1,1311.3 2350,1462.9 2351,1271.7 2352,1462.9" stroke="#000090" style="stroke-width:2.8"/>
<polyline points="351,1240.9 352,1159.8 353,1462.9 353.9,1271.7 354.9,1194.5 355.9,1194.5 356.9,1271.7 357.8,1462.9 358.8,1240.9 359.8,1240.9 360.8,1194.5 361.8,1240.9 362.7,1462.9 363.7,1367.3 364.7,1271.7 365.7,1311.3 366.6,1194.5 367.6,1311.3 368.6,1240.9 369.6,1194.5 370.6,1240.9 371.5,1367.3 372.5,1194.5 373.5,1271.7 374.5,1271.7 375.4,1311.3 376.4,1271.7 377.4,1194.5 378.4,1271.7 379.3,1311.3 380.3,1215.7 381.3,1271.7 382.3,1462.9 383.3,1271.7 384.2,1367.3 385.2,1462.9 386.2,1240.9 387.2,1271.7 388.1,1271.7 389.1,1145.2 390.1,1271.7 391.1,1271.7 392.1,1240.9 393,1240.9 394,1240.9 395,1215.7 396,1271.7 396.9,1159.8 397.9,1271.7 398.9,1271.7 399.9,1240.9 400.9,1271.7 401.8,1367.3 402.8,1367.3 403.8,1194.5 404.8,1240.9 405.7,1271.7 406.7,1240.9 407.7,1271.7 408.7,1311.3 409.7,1240.9 410.6,1271.7 411.6,1215.7 412.6,1311.3 413.6,1194.5 414.5,1462.9 415.5,1271.7 416.5,1367.3 417.5,1367.3 418.4,1367.3 419.4,1311.3 420.4,1311.3 421.4,1271.7 422.4,1367.3 423.3,1311.3 424.3,1215.7 425.3,1215.7 426.3,1240.9 427.2,1271.7 428.2,1311.3 429.2,1159.8 430.2,1240.9 431.2,1194.5 432.1,1271.7 433.1,1215.7 434.1,1271.7 435.1,1159.8 436,1194.5 437,1215.7 438,1132.1 439,1132.1 440,1145.2 440.9,1145.2 441.9,1132.1 442.9,1089.3 443.9,1159.8 444.8,1176 445.8,1072 446.8,1215.7 447.8,1089.3 448.8,1120.1 449.7,1064.2 450.7,1080.4 451.7,1013.4 452.7,1030.3 453.6,1072 454.6,998.4 455.6,1064.2 456.6,964.8 457.6,1008.2 458.5,1003.2 459.5,1049.6 460.5,993.7 461.5,980.5 462.4,968.5 463.4,964.8 464.4,923.2 465.4,947.3 466.3,910.1 467.3,923.2 468.3,887 469.3,843.7 470.3,874.8 471.2,842.1 472.2,853.3 473.2,814.5 474.2,825 475.1,817.9 476.1,798.9 477.1,774.8 478.1,772.5 479.1,754.3 480,737.9 481,735.7 482,712.9 483,709.9 483.9,694.7 484.9,692.9 485.9,666.8 486.9,666.1 487.9,648.1 488.8,633.5 489.8,614.8 490.8,602.6 491.8,592.2 492.7,572.2 493.7,556.8 494.7,540.1 495.7,527.2 496.7,512.4 497.6,500.6 498.6,481.5 499.6,472.6 500.6,457.4 501.5,449.8 502.5,439.1 503.5,425.6 504.5,417.4 505.4,404.7 506.4,392.6 507.4,382.1 508.4,364.5 509.4,357.2 510.3,342.6 511.3,327.9 512.3,317.1 513.3,303.1 514.2,294.6 515.2,282 516.2,274.4 517.2,264.4 518.2,258.2 519.1,249 520.1,242.2 521.1,235.4 522.1,226.7 523,219.5 524,211.2 525,201.6 526,193.8 527,184.9 527.9,177 528.9,168.9 529.9,161.7 530.9,155.9 531.8,148 532.8,140.1 533.8,134.5 534.8,127.3 535.8,121.1 536.7,114.2 537.7,109.8 538.7,104.2 539.7,100.2 540.6,97.1 541.6,93.4 542.6,90.9 543.6,87.6 544.6,85.2 545.5,83.1 546.5,81.5 547.5,79.2 548.5,77.2 549.4,76.3 550.4,74.7 551.4,72.3 552.4,71.2 553.3,69.8 554.3,68.5 555.3,66.4 556.3,65.1 557.3,62.3 558.2,61.5 559.2,60.9 560.2,58.8 561.2,57.4 562.1,55.9 563.1,54.4 564.1,53 565.1,52.7 566.1,51.1 567,51 568,49.4 569,48.4 570,48.5 570.9,46.7 571.9,46 572.9,46.4 573.9,45.6 574.9,45.5 575.8,44.9 576.8,44.1 577.8,44.3 578.8,44.5 579.7,44 580.7,43.8 581.7,43.3 582.7,43 583.7,43.3 584.6,44.4 585.6,44.5 586.6,44.6 587.6,44.3 588.5,44.9 589.5,44.5 590.5,44.7 591.5,45.4 592.4,45.2 593.4,46.7 594.4,46.7 595.4,47.2 596.4,47.8 597.3,48.1 598.3,48.5 599.3,50.2 600.3,50.4 601.2,51.9 602.2,52 603.2,52.3 604.2,53.6 605.2,54.7 606.1,55 607.1,55.5 608.1,56.5 609.1,58 610,59.1 611,59.6 612,61.5 613,62.4 614,63.8 614.9,66.2 615.9,66.1 616.9,67.9 617.9,69.6 618.8,72 619.8,72.8 620.8,75 621.8,75.8 622.8,77.6 623.7,79.4 624.7,80.6 625.7,82.9 626.7,84.2 627.6,85.7 628.6,86.8 629.6,88.1 630.6,89.8 631.6,92 632.5,93.2 633.5,95 634.5,97.5 635.5,98.8 636.4,100.6 637.4,103.9 638.4,104.6 639.4,106.1 640.3,109.4 641.3,110 642.3,113.2 643.3,113.7 644.3,117.2 645.2,119.1 646.2,120.3 647.2,122.6 648.2,125.2 649.1,127 650.1,129.1 651.1,131.6 652.1,132.1 653.1,135.8 654,138.3 655,139.7 656,141.8 657,144.4 657.9,146.6 658.9,149.3 659.9,151.6 660.9,153.4 661.9,157.1 662.8,159.4 663.8,162.3 664.8,163.4 665.8,167.5 666.7,168.6 667.7,171.9 668.7,172.8 669.7,175.7 670.7,178.6 671.6,180.9 672.6,183.9 673.6,185.3 674.6,187.3 675.5,188.4 676.5,191.9 677.5,194.8 678.5,197.3 679.4,198.8 680.4,201.4 681.4,203.3 682.4,204.8 683.4,207.7 684.3,209.2 685.3,211.2 686.3,212.3 687.3,213.8 688.2,218.4 689.2,219.8 690.2,222 691.2,224 692.2,226.9 693.1,227.6 694.1,229.2 695.1,233.2 696.1,233.9 697,235.9 698,238.9 699,241.2 700,242.9 701,244.8 701.9,249.5 702.9,250.4 703.9,253.9 704.9,255.3 705.8,256.6 706.8,258.8 707.8,260 708.8,264.7 709.8,264.8 710.7,268.9 711.7,270.4 712.7,273.5 713.7,274.2 714.6,278.7 715.6,278.2 716.6,282.4 717.6,284.1 718.6,285.3 719.5,286.9 720.5,290.3 721.5,291.7 722.5,294.7 723.4,295.9 724.4,299.3 725.4,302.5 726.4,303.7 727.3,303 728.3,308.4 729.3,308.4 730.3,312.3 731.3,312.5 732.2,315.1 733.2,316 734.2,317.5 735.2,320.4 736.1,320.4 737.1,325.8 738.1,326.9 739.1,328.5 740.1,329 741,330.1 742,332.9 743,335.5 744,336.6 744.9,339.2 745.9,339.1 746.9,342 747.9,344.7 748.9,346.2 749.8,348.5 750.8,348.4 751.8,351.3 752.8,354.2 753.7,356.6 754.7,356.8 755.7,358.9 756.7,358 757.7,362.4 758.6,361.9 759.6,362.9 760.6,366.7 761.6,368.3 762.5,368.9 763.5,370.8 764.5,371.3 765.5,371.1 766.4,374.9 767.4,378.7 768.4,377.1 769.4,380.2 770.4,381.4 771.3,381.5 772.3,384.7 773.3,385.5 774.3,389.8 775.2,388 776.2,389.1 777.2,392.5 778.2,394.3 779.2,395.4 780.1,398.1 781.1,397.2 782.1,401.3 783.1,400 784,402 785,404.1 786,407.5 787,407.9 788,408.4 788.9,411.4 789.9,409 790.9,415.6 791.9,415.4 792.8,414.5 793.8,417.7 794.8,420.8 795.8,420.8 796.8,424.9 797.7,425.8 798.7,428.9 799.7,429.1 800.7,432.8 801.6,435 802.6,435.1 803.6,440.5 804.6,443.6 805.6,444.4 806.5,445.9 807.5,449.7 808.5,447.7 809.5,449.5 810.4,458.9 811.4,456.2 812.4,460.1 813.4,458.3 814.3,462.5 815.3,465.3 816.3,464.7 817.3,464.8 818.3,467.2 819.2,471.7 820.2,474 821.2,475.1 822.2,478.3 823.1,478.1 824.1,481 825.1,479.3 826.1,482.5 827.1,482.9 828,483 829,487.9 830,491.5 831,491.1 831.9,489.9 832.9,492.6 833.9,491.3 834.9,498.4 835.9,498.1 836.8,501.1 837.8,499.5 838.8,500.3 839.8,502.1 840.7,503 841.7,510.4 842.7,508.9 843.7,508.8 844.7,511.7 845.6,509.6 846.6,514.3 847.6,518.8 848.6,518.2 849.5,520.6 850.5,518.9 851.5,524.8 852.5,524.4 853.4,524.3 854.4,527.8 855.4,526.8 856.4,531.7 857.4,531.8 858.3,532.3 859.3,532.1 860.3,538.6 861.3,537 862.2,540.8 863.2,533.4 864.2,539.7 865.2,535.7 866.2,545.3 867.1,538.8 868.1,544.4 869.1,549.2 870.1,545.5 871,551.4 872,551.7 873,550.2 874,556.2 875,555 875.9,551.5 876.9,555.8 877.9,558.4 878.9,556.5 879.8,563.7 880.8,566.5 881.8,568 882.8,568.2 883.8,564 884.7,566.1 885.7,567.9 886.7,575.3 887.7,572.2 888.6,572 889.6,579.4 890.6,578.7 891.6,585.9 892.6,586.1 893.5,588.6 894.5,590 895.5,590.3 896.5,587.2 897.4,595.9 898.4,597.6 899.4,595.8 900.4,592.5 901.3,602.2 902.3,600.2 903.3,599.8 904.3,607.1 905.3,604.5 906.2,611.4 907.2,612.6 908.2,613.3 909.2,614.5 910.1,616.4 911.1,617.8 912.1,614.5 913.1,623.5 914.1,618.3 915,627.3 916,634.8 917,627.2 918,632.1 918.9,638.4 919.9,636.2 920.9,635.6 921.9,644.9 922.9,639.1 923.8,645.4 924.8,645.1 925.8,644.7 926.8,648.1 927.7,648.9 928.7,652.4 929.7,652.8 930.7,652.5 931.7,659 932.6,667.3 933.6,666.7 934.6,664.4 935.6,670.1 936.5,665.2 937.5,668.9 938.5,678.3 939.5,664 940.4,668.7 941.4,676.8 942.4,676.4 943.4,657.8 944.4,675.5 945.3,681.8 946.3,690.8 947.3,682.6 948.3,690 949.2,679 950.2,685.6 951.2,685.3 952.2,691.3 953.2,691.2 954.1,685 955.1,701.1 956.1,705.9 957.1,700.2 958,697.2 959,711.4 960,708.1 961,725.1 962,704.1 962.9,713.5 963.9,721.9 964.9,708 965.9,725.4 966.8,716.1 967.8,720.6 968.8,731.6 969.8,731.7 970.8,751.1 971.7,739 972.7,728.7 973.7,721.3 974.7,743.5 975.6,722.5 976.6,743.3 977.6,743.2 978.6,746 979.6,738.3 980.5,746.8 981.5,752.1 982.5,756.3 983.5,772.6 984.4,746.3 985.4,747.8 986.4,769.7 987.4,765.8 988.3,762.6 989.3,758 990.3,775.1 991.3,773.9 992.3,775 993.2,775.3 994.2,771.7 995.2,785.9 996.2,776.1 997.1,779.7 998.1,788.5 999.1,791.5 1000.1,783.7 1001.1,806.7 1002,805 1003,791.6 1004,789.9 1005,781.9 1005.9,779.4 1006.9,805.2 1007.9,800.2 1008.9,796.3 1009.9,802.6 1010.8,794.6 1011.8,799.7 1012.8,823.4 1013.8,815.2 1014.7,807.4 1015.7,802.1 1016.7,808.7 1017.7,850.6 1018.7,807.7 1019.6,839.3 1020.6,828.5 1021.6,816 1022.6,800.1 1023.5,804.4 1024.5,841.6 1025.5,826.3 1026.5,829 1027.4,825 1028.4,823.7 1029.4,845.1 1030.4,836.2 1031.4,845.2 1032.3,856.6 1033.3,817 1034.3,858.4 1035.3,839.1 1036.2,861.9 1037.2,874.8 1038.2,836.1 1039.2,834.7 1040.2,842.1 1041.1,880.8 1042.1,865.5 1043.1,869.1 1044.1,850 1045,871 1046,860.1 1047,893.5 1048,874.8 1049,889.2 1049.9,848.4 1050.9,865.5 1051.9,863.7 1052.9,902.7 1053.8,900.4 1054.8,912.6 1055.8,867.3 1056.8,887 1057.8,900.4 1058.7,902.7 1059.7,917.8 1060.7,872.9 1061.7,915.2 1062.6,880.8 1063.6,893.5 1064.6,876.8 1065.6,884.9 1066.6,884.9 1067.5,887 1068.5,891.3 1069.5,917.8 1070.5,902.7 1071.4,912.6 1072.4,915.2 1073.4,902.7 1074.4,887 1075.3,887 1076.3,910.1 1077.3,910.1 1078.3,931.8 1079.3,917.8 1080.2,917.8 1081.2,926 1082.2,972.4 1083.2,950.6 1084.1,947.3 1085.1,920.5 1086.1,940.9 1087.1,937.8 1088.1,940.9 1089,947.3 1090,957.5 1091,923.2 1092,905.1 1092.9,940.9 1093.9,950.6 1094.9,928.9 1095.9,989.2 1096.9,961.1 1097.8,947.3 1098.8,937.8 1099.8,931.8 1100.8,928.9 1101.7,937.8 1102.7,961.1 1103.7,910.1 1104.7,940.9 1105.7,928.9 1106.6,947.3 1107.6,980.5 1108.6,950.6 1109.6,972.4 1110.5,980.5 1111.5,980.5 1112.5,968.5 1113.5,920.5 1114.4,957.5 1115.4,926 1116.4,928.9 1117.4,950.6 1118.4,1030.3 1119.3,957.5 1120.3,940.9 1121.3,928.9 1122.3,976.4 1123.2,984.8 1124.2,957.5 1125.2,961.1 1126.2,968.5 1127.2,980.5 1128.1,1036.5 1129.1,964.8 1130.1,989.2 1131.1,940.9 1132,989.2 1133,993.7 1134,1013.4 1135,961.1 1136,964.8 1136.9,1018.8 1137.9,998.4 1138.9,1008.2 1139.9,989.2 1140.8,984.8 1141.8,984.8 1142.8,1013.4 1143.8,1036.5 1144.8,964.8 1145.7,1013.4 1146.7,1042.9 1147.7,1042.9 1148.7,989.2 1149.6,968.5 1150.6,1036.5 1151.6,993.7 1152.6,1036.5 1153.6,1064.2 1154.5,1049.6 1155.5,984.8 1156.5,1030.3 1157.5,1042.9 1158.4,961.1 1159.4,1056.7 1160.4,993.7 1161.4,1098.8 1162.3,1089.3 1163.3,1024.5 1164.3,1024.5 1165.3,1013.4 1166.3,1003.2 1167.2,984.8 1168.2,1049.6 1169.2,1120.1 1170.2,984.8 1171.1,1049.6 1172.1,1049.6 1173.1,1030.3 1174.1,1042.9 1175.1,1008.2 1176,998.4 1177,998.4 1178,1056.7 1179,1024.5 1179.9,1080.4 1180.9,1064.2 1181.9,1120.1 1182.9,1064.2 1183.9,1036.5 1184.8,1049.6 1185.8,1024.5 1186.8,1036.5 1187.8,1036.5 1188.7,1064.2 1189.7,1109.1 1190.7,1008.2 1191.7,1089.3 1192.7,998.4 1193.6,1089.3 1194.6,1120.1 1195.6,1042.9 1196.6,1132.1 1197.5,1036.5 1198.5,1064.2 1199.5,1098.8 1200.5,1024.5 1201.4,1042.9 1202.4,1072 1203.4,1064.2 1204.4,1098.8 1205.4,1132.1 1206.3,1089.3 1207.3,989.2 1208.3,1098.8 1209.3,1098.8 1210.2,1013.4 1211.2,1089.3 1212.2,1132.1 1213.2,1080.4 1214.2,1109.1 1215.1,1056.7 1216.1,1109.1 1217.1,1049.6 1218.1,1159.8 1219,1120.1 1220,1042.9 1221,1120.1 1222,1080.4 1223,1089.3 1223.9,1089.3 1224.9,1024.5 1225.9,1049.6 1226.9,1042.9 1227.8,1056.7 1228.8,1109.1 1229.8,1064.2 1230.8,1003.2 1231.8,1098.8 1232.7,1072 1233.7,1089.3 1234.7,1176 1235.7,1080.4 1236.6,1056.7 1237.6,1042.9 1238.6,1080.4 1239.6,1098.8 1240.6,1132.1 1241.5,1049.6 1242.5,1056.7 1243.5,1042.9 1244.5,1049.6 1245.4,1089.3 1246.4,1120.1 1247.4,1064.2 1248.4,1072 1249.3,1042.9 1250.3,1036.5 1251.3,1098.8 1252.3,1098.8 1253.3,1145.2 1254.2,1072 1255.2,1056.7 1256.2,1056.7 1257.2,1080.4 1258.1,1145.2 1259.1,1089.3 1260.1,1132.1 1261.1,1109.1 1262.1,1080.4 1263,1109.1 1264,1159.8 1265,1120.1 1266,1036.5 1266.9,1145.2 1267.9,1109.1 1268.9,1120.1 1269.9,1042.9 1270.9,1080.4 1271.8,1064.2 1272.8,1089.3 1273.8,1072 1274.8,1056.7 1275.7,1049.6 1276.7,1194.5 1277.7,1080.4 1278.7,1132.1 1279.7,1024.5 1280.6,1145.2 1281.6,1072 1282.6,1109.1 1283.6,1098.8 1284.5,1120.1 1285.5,1080.4 1286.5,1042.9 1287.5,1064.2 1288.4,1132.1 1289.4,1194.5 1290.4,1080.4 1291.4,1072 1292.4,1159.8 1293.3,1064.2 1294.3,1176 1295.3,1072 1296.3,1098.8 1297.2,1271.7 1298.2,1159.8 1299.2,1215.7 1300.2,1089.3 1301.2,1098.8 1302.1,1089.3 1303.1,1049.6 1304.1,1159.8 1305.1,1080.4 1306,1120.1 1307,1215.7 1308,1089.3 1309,1145.2 1310,1098.8 1310.9,1120.1 1311.9,1132.1 1312.9,1194.5 1313.9,1080.4 1314.8,1089.3 1315.8,1109.1 1316.8,1109.1 1317.8,1109.1 1318.8,1215.7 1319.7,1064.2 1320.7,1132.1 1321.7,1120.1 1322.7,1367.3 1323.6,1120.1 1324.6,1080.4 1325.6,1176 1326.6,1194.5 1327.6,1145.2 1328.5,1089.3 1329.5,1064.2 1330.5,1049.6 1331.5,1064.2 1332.4,1145.2 1333.4,1240.9 1334.4,1240.9 1335.4,1098.8 1336.3,1145.2 1337.3,1072 1338.3,1098.8 1339.3,1145.2 1340.3,1176 1341.2,1098.8 1342.2,1109.1 1343.2,1109.1 1344.2,1132.1 1345.1,1194.5 1346.1,1120.1 1347.1,1159.8 1348.1,1145.2 1349.1,1132.1 1350,1109.1 1351,1159.8 1352,1311.3 1353,1120.1 1353.9,1194.5 1354.9,1109.1 1355.9,1215.7 1356.9,1176 1357.9,1120.1 1358.8,1098.8 1359.8,1215.7 1360.8,1194.5 1361.8,1159.8 1362.7,1132.1 1363.7,1215.7 1364.7,1109.1 1365.7,1194.5 1366.7,1145.2 1367.6,1056.7 1368.6,1109.1 1369.6,1194.5 1370.6,1176 1371.5,1194.5 1372.5,1089.3 1373.5,1194.5 1374.5,1145.2 1375.4,1194.5 1376.4,1194.5 1377.4,1215.7 1378.4,1159.8 1379.4,1145.2 1380.3,1132.1 1381.3,1089.3 1382.3,1176 1383.3,1311.3 1384.2,1176 1385.2,1098.8 1386.2,1132.1 1387.2,1109.1 1388.2,1215.7 1389.1,1240.9 1390.1,1120.1 1391.1,1159.8 1392.1,1145.2 1393,1159.8 1394,1194.5 1395,1132.1 1396,1132.1 1397,1109.1 1397.9,1215.7 1398.9,1159.8 1399.9,1109.1 1400.9,1089.3 1401.8,1098.8 1402.8,1120.1 1403.8,1145.2 1404.8,1271.7 1405.8,1215.7 1406.7,1194.5 1407.7,1098.8 1408.7,1194.5 1409.7,1215.7 1410.6,1176 1411.6,1176 1412.6,1176 1413.6,1311.3 1414.6,1215.7 1415.5,1109.1 1416.5,1159.8 1417.5,1176 1418.5,1240.9 1419.4,1215.7 1420.4,1145.2 1421.4,1271.7 1422.4,1109.1 1423.3,1176 1424.3,1109.1 1425.3,1109.1 1426.3,1109.1 1427.3,1145.2 1428.2,1109.1 1429.2,1215.7 1430.2,1240.9 1431.2,1132.1 1432.1,1132.1 1433.1,1159.8 1434.1,1159.8 1435.1,1145.2 1436.1,1367.3 1437,1176 1438,1159.8 1439,1120.1 1440,1215.7 1440.9,1311.3 1441.9,1311.3 1442.9,1215.7 1443.9,1215.7 1444.9,1159.8 1445.8,1145.2 1446.8,1159.8 1447.8,1176 1448.8,1271.7 1449.7,1176 1450.7,1159.8 1451.7,1240.9 1452.7,1194.5 1453.7,1194.5 1454.6,1109.1 1455.6,1132.1 1456.6,1176 1457.6,1145.2 1458.5,1176 1459.5,1132.1 1460.5,1215.7 1461.5,1215.7 1462.4,1132.1 1463.4,1145.2 1464.4,1271.7 1465.4,1194.5 1466.4,1176 1467.3,1311.3 1468.3,1311.3 1469.3,1120.1 1470.3,1271.7 1471.2,1145.2 1472.2,1194.5 1473.2,1240.9 1474.2,1271.7 1475.2,1215.7 1476.1,1132.1 1477.1,1194.5 1478.1,1240.9 1479.1,1194.5 1480,1271.7 1481,1194.5 1482,1159.8 1483,1215.7 1484,1240.9 1484.9,1145.2 1485.9,1132.1 1486.9,1145.2 1487.9,1194.5 1488.8,1098.8 1489.8,1194.5 1490.8,1145.2 1491.8,1145.2 1492.8,1271.7 1493.7,1176 1494.7,1240.9 1495.7,1215.7 1496.7,1145.2 1497.6,1240.9 1498.6,1215.7 1499.6,1176 1500.6,1176 1501.6,1311.3 1502.5,1271.7 1503.5,1240.9 1504.5,1176 1505.5,1240.9 1506.4,1132.1 1507.4,1176 1508.4,1176 1509.4,1240.9 1510.3,1109.1 1511.3,1145.2 1512.3,1194.5 1513.3,1215.7 1514.3,1194.5 1515.2,1215.7 1516.2,1145.2 1517.2,1109.1 1518.2,1145.2 1519.1,1462.9 1520.1,1271.7 1521.1,1215.7 1522.1,1194.5 1523.1,1194.5 1524,1194.5 1525,1215.7 1526,1215.7 1527,1176 1527.9,1159.8 1528.9,1159.8 1529.9,1311.3 1530.9,1159.8 1531.9,1194.5 1532.8,1176 1533.8,1098.8 1534.8,1240.9 1535.8,1240.9 1536.7,1311.3 1537.7,1194.5 1538.7,1271.7 1539.7,1132.1 1540.7,1194.5 1541.6,1215.7 1542.6,1176 1543.6,1120.1 1544.6,1311.3 1545.5,1271.7 1546.5,1176 1547.5,1311.3 1548.5,1311.3 1549.4,1176 1550.4,1176 1551.4,1215.7 1552.4,1194.5 1553.4,1240.9 1554.3,1176 1555.3,1194.5 1556.3,1240.9 1557.3,1215.7 1558.2,1176 1559.2,1311.3 1560.2,1240.9 1561.2,1311.3 1562.2,1240.9 1563.1,1194.5 1564.1,1176 1565.1,1311.3 1566.1,1176 1567,1215.7 1568,1159.8 1569,1240.9 1570,1271.7 1571,1215.7 1571.9,1462.9 1572.9,1194.5 1573.9,1176 1574.9,1159.8 1575.8,1311.3 1576.8,1215.7 1577.8,1271.7 1578.8,1159.8 1579.8,1145.2 1580.7,1215.7 1581.7,1176 1582.7,1215.7 1583.7,1194.5 1584.6,1240.9 1585.6,1271.7 1586.6,1194.5 1587.6,1215.7 1588.6,1271.7 1589.5,1271.7 1590.5,1159.8 1591.5,1271.7 1592.5,1176 1593.4,1271.7 1594.4,1311.3 1595.4,1271.7 1596.4,1271.7 1597.3,1367.3 1598.3,1311.3 1599.3,1271.7 1600.3,1240.9 1601.3,1271.7 1602.2,1240.9 1603.2,1271.7 1604.2,1145.2 1605.2,1240.9 1606.1,1215.7 1607.1,1367.3 1608.1,1215.7 1609.1,1176 1610.1,1240.9 1611,1215.7 1612,1271.7 1613,1145.2 1614,1194.5 1614.9,1240.9 1615.9,1367.3 1616.9,1109.1 1617.9,1271.7 1618.9,1271.7 1619.8,1194.5 1620.8,1311.3 1621.8,1159.8 1622.8,1176 1623.7,1145.2 1624.7,1271.7 1625.7,1215.7 1626.7,1159.8 1627.7,1240.9 1628.6,1194.5 1629.6,1240.9 1630.6,1271.7 1631.6,1311.3 1632.5,1194.5 1633.5,1132.1 1634.5,1215.7 1635.5,1271.7 1636.4,1271.7 1637.4,1132.1 1638.4,1240.9 1639.4,1311.3 1640.4,1109.1 1641.3,1311.3 1642.3,1240.9 1643.3,1145.2 1644.3,1194.5 1645.2,1311.3 1646.2,1176 1647.2,1367.3 1648.2,1176 1649.2,1271.7 1650.1,1159.8 1651.1,1271.7 1652.1,1311.3 1653.1,1215.7 1654,1311.3 1655,1311.3 1656,1240.9 1657,1194.5 1658,1240.9 1658.9,1215.7 1659.9,1240.9 1660.9,1311.3 1661.9,1240.9 1662.8,1215.7 1663.8,1311.3 1664.8,1311.3 1665.8,1159.8 1666.8,1194.5 1667.7,1194.5 1668.7,1311.3 1669.7,1194.5 1670.7,1240.9 1671.6,1215.7 1672.6,1271.7 1673.6,1271.7 1674.6,1215.7 1675.6,1240.9 1676.5,1311.3 1677.5,1215.7 1678.5,1176 1679.5,1271.7 1680.4,1271.7 1681.4,1311.3 1682.4,1240.9 1683.4,1240.9 1684.3,1240.9 1685.3,1176 1686.3,1159.8 1687.3,1271.7 1688.3,1240.9 1689.2,1194.5 1690.2,1240.9 1691.2,1367.3 1692.2,1159.8 1693.1,1132.1 1694.1,1215.7 1695.1,1159.8 1696.1,1271.7 1697.1,1176 1698,1215.7 1699,1215.7 1700,1176 1701,1215.7 1701.9,1215.7 1702.9,1240.9 1703.9,1311.3 1704.9,1367.3 1705.9,1311.3 1706.8,1215.7 1707.8,1159.8 1708.8,1176 1709.8,1271.7 1710.7,1145.2 1711.7,1194.5 1712.7,1159.8 1713.7,1311.3 1714.7,1240.9 1715.6,1215.7 1716.6,1240.9 1717.6,1271.7 1718.6,1215.7 1719.5,1271.7 1720.5,1215.7 1721.5,1215.7 1722.5,1367.3 1723.4,1240.9 1724.4,1176 1725.4,1120.1 1726.4,1240.9 1727.4,1194.5 1728.3,1176 1729.3,1367.3 1730.3,1271.7 1731.3,1145.2 1732.2,1271.7 1733.2,1145.2 1734.2,1367.3 1736.2,1240.9 1737.1,1215.7 1738.1,1240.9 1739.1,1176 1740.1,1145.2 1741,1215.7 1742,1271.7 1743,1462.9 1744,1311.3 1745,1176 1745.9,1240.9 1746.9,1145.2 1747.9,1159.8 1748.9,1271.7 1749.8,1271.7 1750.8,1271.7 1751.8,1194.5 1752.8,1240.9 1753.8,1240.9 1754.7,1194.5 1755.7,1145.2 1756.7,1462.9 1757.7,1367.3 1758.6,1145.2 1759.6,1176 1760.6,1240.9 1761.6,1367.3 1762.6,1176 1763.5,1367.3 1764.5,1271.7 1765.5,1176 1766.5,1159.8 1767.4,1311.3 1768.4,1271.7 1769.4,1176 1770.4,1215.7 1771.3,1311.3 1772.3,1215.7 1774.3,1176 1775.3,1367.3 1776.2,1215.7 1777.2,1240.9 1778.2,1159.8 1779.2,1311.3 1780.1,1271.7 1781.1,1271.7 1782.1,1176 1783.1,1311.3 1784.1,1194.5 1785,1240.9 1786,1194.5 1787,1271.7 1788,1215.7 1788.9,1311.3 1789.9,1311.3 1790.9,1240.9 1791.9,1311.3 1792.9,1145.2 1793.8,1271.7 1794.8,1271.7 1795.8,1311.3 1796.8,1311.3 1797.7,1367.3 1798.7,1215.7 1799.7,1194.5 1800.7,1098.8 1801.7,1311.3 1802.6,1271.7 1803.6,1367.3 1804.6,1240.9 1805.6,1145.2 1806.5,1367.3 1807.5,1240.9 1808.5,1176 1809.5,1145.2 1810.4,1311.3 1811.4,1240.9 1812.4,1240.9 1813.4,1215.7 1814.4,1194.5 1815.3,1271.7 1816.3,1311.3 1817.3,1271.7 1818.3,1176 1819.2,1240.9 1820.2,1367.3 1821.2,1145.2 1822.2,1120.1 1823.2,1215.7 1824.1,1176 1825.1,1215.7 1826.1,1215.7 1827.1,1215.7 1828,1240.9 1829,1311.3 1830,1194.5 1831,1311.3 1832,1240.9 1832.9,1271.7 1833.9,1367.3 1834.9,1367.3 1835.9,1215.7 1836.8,1215.7 1837.8,1120.1 1838.8,1271.7 1839.8,1132.1 1840.8,1159.8 1841.7,1145.2 1842.7,1271.7 1843.7,1311.3 1844.7,1271.7 1845.6,1215.7 1846.6,1194.5 1847.6,1194.5 1848.6,1194.5 1849.6,1240.9 1850.5,1159.8 1851.5,1271.7 1853.5,1120.1 1854.4,1215.7 1855.4,1311.3 1856.4,1240.9 1857.4,1311.3 1858.3,1271.7 1859.3,1271.7 1860.3,1194.5 1861.3,1176 1862.3,1176 1863.2,1176 1864.2,1240.9 1865.2,1215.7 1866.2,1240.9 1867.1,1271.7 1868.1,1194.5 1869.1,1176 1870.1,1194.5 1871.1,1311.3 1872,1194.5 1873,1240.9 1874,1311.3 1875,1176 1875.9,1159.8 1876.9,1311.3 1877.9,1367.3 1878.9,1159.8 1879.9,1159.8 1880.8,1462.9 1881.8,1311.3 1882.8,1367.3 1883.8,1176 1884.7,1240.9 1885.7,1240.9 1886.7,1145.2 1887.7,1271.7 1888.7,1194.5 1889.6,1311.3 1890.6,1194.5 1891.6,1240.9 1892.6,1120.1 1893.5,1271.7 1894.5,1159.8 1895.5,1271.7 1896.5,1240.9 1897.4,1215.7 1898.4,1271.7 1899.4,1271.7 1900.4,1311.3 1901.4,1159.8 1902.3,1215.7 1903.3,1311.3 1904.3,1215.7 1905.3,1311.3 1906.2,1215.7 1907.2,1194.5 1908.2,1132.1 1909.2,1311.3 1910.2,1215.7 1911.1,1311.3 1912.1,1367.3 1913.1,1176 1914.1,1271.7 1915,1311.3 1916,1145.2 1917,1367.3 1918,1240.9 1919,1215.7 1919.9,1120.1 1920.9,1311.3 1921.9,1271.7 1922.9,1271.7 1923.8,1311.3 1924.8,1194.5 1925.8,1271.7 1927.8,1215.7 1928.7,1176 1929.7,1215.7 1930.7,1176 1931.7,1462.9 1932.6,1240.9 1933.6,1311.3 1934.6,1271.7 1935.6,1159.8 1936.6,1271.7 1937.5,1311.3 1938.5,1367.3 1939.5,1176 1940.5,1176 1941.4,1271.7 1942.4,1271.7 1943.4,1215.7 1944.4,1240.9 1945.3,1176 1946.3,1194.5 1947.3,1240.9 1948.3,1215.7 1949.3,1311.3 1950.2,1271.7 1951.2,1240.9 1952.2,1215.7 1953.2,1240.9 1954.1,1194.5 1955.1,1271.7 1956.1,1271.7 1957.1,1240.9 1958.1,1311.3 1959,1215.7 1960,1176 1961,1240.9 1962,1145.2 1962.9,1462.9 1963.9,1194.5 1964.9,1215.7 1965.9,1215.7 1966.9,1215.7 1967.8,1271.7 1968.8,1311.3 1969.8,1159.8 1970.8,1215.7 1971.7,1462.9 1972.7,1215.7 1973.7,1159.8 1974.7,1215.7 1975.7,1159.8 1976.6,1311.3 1977.6,1271.7 1978.6,1240.9 1979.6,1145.2 1980.5,1215.7 1981.5,1311.3 1982.5,1194.5 1983.5,1145.2 1984.4,1215.7 1985.4,1176 1986.4,1215.7 1987.4,1240.9 1988.4,1215.7 1989.3,1064.2 1990.3,1215.7 1991.3,1271.7 1992.3,1240.9 1993.2,1194.5 1994.2,1240.9 1995.2,1367.3 1996.2,1194.5 1997.2,1176 1998.1,1194.5 1999.1,1240.9 2000.1,1271.7 2001.1,1271.7 2002,1194.5 2003,1159.8 2004,1240.9 2005,1194.5 2006,1240.9 2006.9,1159.8 2007.9,1240.9 2008.9,1109.1 2009.9,1176 2010.8,1215.7 2011.8,1215.7 2012.8,1240.9 2013.8,1240.9 2014.8,1176 2015.7,1240.9 2016.7,1176 2017.7,1240.9 2018.7,1215.7 2019.6,1240.9 2020.6,1462.9 2021.6,1240.9 2022.6,1215.7 2023.6,1215.7 2024.5,1215.7 2025.5,1240.9 2026.5,1194.5 2027.5,1240.9 2028.4,1311.3 2029.4,1145.2 2030.4,1194.5 2031.4,1311.3 2032.3,1271.7 2033.3,1462.9 2034.3,1159.8 2035.3,1176 2036.3,1311.3 2037.2,1271.7 2038.2,1311.3 2039.2,1159.8 2040.2,1271.7 2041.1,1240.9 2042.1,1462.9 2043.1,1194.5 2044.1,1311.3 2045.1,1176 2046,1145.2 2047,1145.2 2048,1271.7 2049,1240.9 2049.9,1311.3 2050.9,1271.7 2051.9,1194.5 2052.9,1311.3 2053.9,1271.7 2054.8,1311.3 2055.8,1159.8 2056.8,1367.3 2057.8,1271.7 2058.7,1271.7 2059.7,1240.9 2060.7,1271.7 2061.7,1194.5 2062.7,1271.7 2063.6,1215.7 2064.6,1367.3 2065.6,1215.7 2066.6,1271.7 2067.5,1240.9 2068.5,1215.7 2069.5,1367.3 2070.5,1240.9 2071.4,1271.7 2072.4,1159.8 2073.4,1271.7 2074.4,1194.5 2075.4,1240.9 2076.3,1194.5 2077.3,1215.7 2078.3,1367.3 2079.3,1145.2 2080.2,1176 2081.2,1311.3 2082.2,1215.7 2083.2,1311.3 2084.2,1159.8 2085.1,1271.7 2086.1,1311.3 2087.1,1194.5 2088.1,1271.7 2089,1271.7 2090,1240.9 2091,1271.7 2092,1240.9 2093,1240.9 2093.9,1271.7 2094.9,1194.5 2095.9,1194.5 2096.9,1215.7 2097.8,1215.7 2098.8,1462.9 2099.8,1311.3 2100.8,1194.5 2101.8,1240.9 2102.7,1271.7 2103.7,1176 2104.7,1176 2105.7,1311.3 2106.6,1311.3 2107.6,1145.2 2108.6,1194.5 2109.6,1176 2110.6,1194.5 2111.5,1311.3 2112.5,1271.7 2113.5,1240.9 2114.5,1215.7 2115.4,1176 2116.4,1176 2117.4,1194.5 2118.4,1176 2119.3,1240.9 2120.3,1194.5 2121.3,1271.7 2122.3,1194.5 2123.3,1215.7 2124.2,1271.7 2125.2,1367.3 2126.2,1120.1 2127.2,1176 2128.1,1311.3 2129.1,1271.7 2130.1,1240.9 2131.1,1194.5 2132.1,1176 2133,1159.8 2134,1215.7 2135,1271.7 2136,1240.9 2136.9,1132.1 2137.9,1159.8 2138.9,1311.3 2139.9,1240.9 2140.9,1159.8 2141.8,1194.5 2142.8,1271.7 2143.8,1159.8 2144.8,1194.5 2145.7,1194.5 2146.7,1194.5 2147.7,1240.9 2148.7,1311.3 2149.7,1176 2150.6,1271.7 2151.6,1311.3 2152.6,1215.7 2153.6,1462.9 2154.5,1311.3 2155.5,1194.5 2156.5,1132.1 2157.5,1271.7 2158.4,1194.5 2159.4,1271.7 2160.4,1240.9 2161.4,1271.7 2162.4,1145.2 2163.3,1194.5 2164.3,1240.9 2165.3,1271.7 2166.3,1240.9 2167.2,1271.7 2168.2,1240.9 2169.2,1367.3 2170.2,1194.5 2171.2,1215.7 2172.1,1145.2 2173.1,1159.8 2174.1,1311.3 2175.1,1311.3 2177,1271.7 2178,1271.7 2179,1271.7 2180,1176 2180.9,1271.7 2181.9,1271.7 2182.9,1271.7 2183.9,1159.8 2184.8,1311.3 2185.8,1215.7 2186.8,1311.3 2187.8,1240.9 2188.8,1176 2189.7,1194.5 2190.7,1271.7 2191.7,1271.7 2192.7,1215.7 2193.6,1240.9 2194.6,1194.5 2195.6,1194.5 2196.6,1159.8 2197.6,1132.1 2198.5,1271.7 2199.5,1215.7 2200.5,1194.5 2201.5,1240.9 2202.4,1271.7 2203.4,1159.8 2204.4,1240.9 2205.4,1176 2206.3,1215.7 2207.3,1194.5 2208.3,1240.9 2209.3,1240.9 2210.3,1240.9 2211.2,1176 2212.2,1311.3 2213.2,1145.2 2214.2,1271.7 2215.1,1194.5 2216.1,1240.9 2217.1,1240.9 2218.1,1215.7 2219.1,1462.9 2220,1176 2221,1145.2 2222,1311.3 2223,1215.7 2223.9,1271.7 2224.9,1271.7 2225.9,1176 2226.9,1176 2227.9,1271.7 2228.8,1240.9 2229.8,1215.7 2230.8,1159.8 2231.8,1240.9 2232.7,1176 2233.7,1159.8 2234.7,1311.3 2235.7,1311.3 2236.7,1159.8 2237.6,1271.7 2238.6,1215.7 2239.6,1271.7 2240.6,1215.7 2241.5,1159.8 2242.5,1159.8 2243.5,1367.3 2244.5,1176 2245.4,1215.7 2246.4,1311.3 2247.4,1176 2248.4,1271.7 2249.4,1311.3 2250.3,1215.7 2251.3,1271.7 2252.3,1194.5 2253.3,1176 2254.2,1367.3 2255.2,1176 2256.2,1159.8 2257.2,1215.7 2258.2,1194.5 2259.1,1194.5 2260.1,1194.5 2261.1,1215.7 2262.1,1109.1 2263,1367.3 2264,1271.7 2265,1271.7 2266,1271.7 2267,1367.3 2267.9,1240.9 2268.9,1311.3 2269.9,1271.7 2270.9,1215.7 2271.8,1215.7 2272.8,1176 2273.8,1215.7 2274.8,1240.9 2275.8,1145.2 2276.7,1462.9 2277.7,1215.7 2278.7,1311.3 2279.7,1176 2280.6,1240.9 2281.6,1176 2282.6,1271.7 2283.6,1271.7 2284.6,1271.7 2285.5,1176 2286.5,1215.7 2287.5,1240.9 2288.5,1311.3 2289.4,1215.7 2290.4,1240.9 2291.4,1240.9 2292.4,1215.7 2293.3,1159.8 2294.3,1240.9 2295.3,1194.5 2296.3,1311.3 2297.3,1271.7 2298.2,1240.9 2299.2,1311.3 2300.2,1145.2 2301.2,1240.9 2302.1,1176 2303.1,1240.9 2304.1,1271.7 2305.1,1215.7 2306.1,1271.7 2307,1240.9 2308,1311.3 2309,1194.5 2310,1240.9 2310.9,1194.5 2311.9,1271.7 2312.9,1240.9 2313.9,1215.7 2314.9,1194.5 2315.8,1215.7 2316.8,1271.7 2317.8,1176 2318.8,1159.8 2319.7,1159.8 2320.7,1215.7 2321.7,1215.7 2322.7,1145.2 2323.7,1176 2324.6,1194.5 2325.6,1311.3 2326.6,1176 2327.6,1240.9 2328.5,1311.3 2329.5,1240.9 2330.5,1194.5 2331.5,1271.7 2332.4,1215.7 2333.4,1176 2334.4,1194.5 2335.4,1215.7 2336.4,1271.7 2337.3,1311.3 2338.3,1462.9 2339.3,1194.5 2340.3,1311.3 2341.2,1311.3 2342.2,1194.5 2343.2,1145.2 2344.2,1132.1 2345.2,1176 2346.1,1215.7 2347.1,1176 2348.1,1311.3 2349.1,1176 2350,1240.9 2351,1145.2 2352,1271.7" stroke="#7A10EE"/>
<polyline points="351,1240.9 352,1367.3 353,1311.3 353.9,1215.7 354.9,1240.9 355.9,1271.7 356.9,1194.5 357.8,1462.9 358.8,1462.9 359.8,1311.3 360.8,1311.3 361.8,1271.7 362.7,1367.3 363.7,1271.7 364.7,1215.7 365.7,1311.3 366.6,1240.9 367.6,1367.3 368.6,1159.8 369.6,1311.3 370.6,1367.3 371.5,1271.7 372.5,1271.7 373.5,1311.3 374.5,1215.7 375.4,1271.7 376.4,1240.9 377.4,1367.3 378.4,1215.7 379.3,1311.3 380.3,1215.7 381.3,1240.9 382.3,1311.3 383.3,1240.9 385.2,1194.5 386.2,1194.5 387.2,1271.7 388.1,1462.9 389.1,1240.9 390.1,1311.3 391.1,1176 392.1,1194.5 393,1176 394,1215.7 395,1311.3 396,1215.7 396.9,1215.7 397.9,1240.9 398.9,1367.3 399.9,1311.3 400.9,1159.8 401.8,1271.7 402.8,1311.3 403.8,1240.9 404.8,1271.7 405.7,1271.7 406.7,1271.7 407.7,1311.3 408.7,1215.7 409.7,1311.3 410.6,1240.9 411.6,1176 412.6,1215.7 413.6,1311.3 414.5,1311.3 415.5,1367.3 416.5,1311.3 417.5,1311.3 418.4,1271.7 419.4,1271.7 420.4,1311.3 421.4,1311.3 422.4,1311.3 423.3,1311.3 424.3,1311.3 425.3,1271.7 426.3,1240.9 427.2,1311.3 428.2,1240.9 429.2,1240.9 430.2,1311.3 431.2,1271.7 432.1,1132.1 433.1,1240.9 434.1,1176 435.1,1240.9 436,1194.5 437,1215.7 438,1145.2 439,1145.2 440,1120.1 440.9,1120.1 441.9,1064.2 442.9,1271.7 443.9,1098.8 444.8,1159.8 445.8,1109.1 446.8,1120.1 447.8,1056.7 448.8,1145.2 449.7,1064.2 450.7,1024.5 451.7,1064.2 452.7,1080.4 453.6,1042.9 454.6,1132.1 455.6,968.5 456.6,1030.3 457.6,1008.2 458.5,980.5 459.5,993.7 460.5,972.4 461.5,968.5 462.4,947.3 463.4,964.8 464.4,937.8 465.4,947.3 466.3,876.8 467.3,923.2 468.3,915.2 469.3,872.9 470.3,865.5 471.2,840.6 472.2,850 473.2,869.1 474.2,821.1 475.1,826.6 476.1,806.2 477.1,796.6 478.1,770.3 479.1,755.6 480,749.3 481,722.1 482,723.4 483,693.9 483.9,684.3 484.9,686.7 485.9,679 486.9,662.4 487.9,648.5 488.8,630.8 489.8,619 490.8,604.5 491.8,588.5 492.7,576.2 493.7,554.7 494.7,547.3 495.7,526.2 496.7,511.9 497.6,496.8 498.6,483.4 499.6,468.7 500.6,459.8 501.5,446.6 502.5,438.2 503.5,428.5 504.5,414.6 505.4,403.8 506.4,391.8 507.4,377.4 508.4,366.9 509.4,354.2 510.3,343.1 511.3,328.6 512.3,317.3 513.3,304.7 514.2,293 515.2,282.7 516.2,273.7 517.2,267 518.2,257.5 519.1,248.7 520.1,241.3 521.1,234.4 522.1,226.6 523,217.8 524,209.6 525,201.5 526,193.7 527,184.7 527.9,175.8 528.9,169.9 529.9,160.5 530.9,155.3 531.8,147 532.8,141 533.8,134.2 534.8,126.9 535.8,121.5 536.7,115 537.7,109.6 538.7,105.1 539.7,99.9 540.6,96.5 541.6,94.2 542.6,90.7 543.6,87.8 544.6,85.8 545.5,83.1 546.5,79.8 547.5,79.1 548.5,77.4 549.4,76.4 550.4,74.2 551.4,72.9 552.4,71.3 553.3,70 554.3,67.6 555.3,66.4 556.3,64.4 557.3,64.3 558.2,60.9 559.2,60.5 560.2,58.3 561.2,57.2 562.1,56.5 563.1,53.9 564.1,53.3 565.1,52.8 566.1,51.5 567,51.4 568,49.5 569,49.2 570,47.5 570.9,47.3 571.9,46.6 572.9,46 573.9,45.8 574.9,44.7 575.8,45.4 576.8,44.8 577.8,44.6 578.8,43.3 579.7,43.9 580.7,44.1 581.7,43.7 582.7,43.3 583.7,43.3 584.6,43 585.6,44.2 586.6,44.3 587.6,44.2 588.5,44.1 589.5,45 590.5,44.7 591.5,45.7 592.4,46 593.4,46.6 594.4,46.4 595.4,47.7 596.4,48.2 597.3,49.1 598.3,49.3 599.3,50.4 600.3,50.2 601.2,51.3 602.2,51.5 603.2,51.6 604.2,53.3 605.2,53.9 606.1,55.3 607.1,56 608.1,56.7 609.1,58.3 610,57.6 611,60.1 612,60.5 613,62.4 614,63.2 614.9,65.6 615.9,66.9 616.9,68 617.9,69.3 618.8,71.4 619.8,72.9 620.8,74.2 621.8,75.8 622.8,78.2 623.7,79.1 624.7,80.7 625.7,81.7 626.7,84.5 627.6,85 628.6,87.2 629.6,89.1 630.6,90.2 631.6,91.9 632.5,93.3 633.5,95.7 634.5,96.3 635.5,99.3 636.4,100.7 637.4,102.6 638.4,104.2 639.4,106 640.3,109 641.3,110.7 642.3,112.9 643.3,115.3 644.3,116.9 645.2,119.3 646.2,121.3 647.2,123.7 648.2,124.5 649.1,127.5 650.1,129.1 651.1,132.1 652.1,132.9 653.1,136.6 654,136.6 655,140.1 656,141.8 657,144.6 657.9,146.4 658.9,150.5 659.9,151.8 660.9,154 661.9,156 662.8,159.3 663.8,160.7 664.8,163.6 665.8,166.3 666.7,168 667.7,171.3 668.7,172.8 669.7,176.6 670.7,178.1 671.6,179.1 672.6,180.9 673.6,184.6 674.6,187.3 675.5,188.2 676.5,191.8 677.5,193.3 678.5,195 679.4,197.8 680.4,201 681.4,203.4 682.4,204.2 683.4,209 684.3,210 685.3,211.8 686.3,214.4 687.3,216 688.2,218.4 689.2,219.4 690.2,221.5 691.2,224.6 692.2,225.7 693.1,228.4 694.1,231 695.1,231.9 696.1,235 697,237 698,238.9 699,240.7 700,243.2 701,246.7 701.9,248.5 702.9,250.3 703.9,251.8 704.9,254.4 705.8,257 706.8,258.9 707.8,261 708.8,264 709.8,266 710.7,270.2 711.7,271.8 712.7,272.5 713.7,275 714.6,277.3 715.6,278.1 716.6,282.2 717.6,284 718.6,285.9 719.5,287.7 720.5,291.5 721.5,292.7 722.5,294.2 723.4,297.7 724.4,299.3 725.4,299.7 726.4,302.5 727.3,304.8 728.3,308.2 729.3,307.9 730.3,309.7 731.3,313.6 732.2,313.6 733.2,316.4 734.2,320.2 735.2,320.2 736.1,321.2 737.1,325 738.1,327.3 739.1,327.5 740.1,329.4 741,331.1 742,334.2 743,335.3 744,337.3 744.9,340 745.9,340.9 746.9,342.4 747.9,343.1 748.9,346 749.8,348.1 750.8,350.5 751.8,350 752.8,350.5 753.7,353.8 754.7,356.3 755.7,358.8 756.7,359.8 757.7,364.3 758.6,363.2 759.6,364.2 760.6,365.7 761.6,368.5 762.5,369.9 763.5,373.6 764.5,372.1 765.5,374.3 766.4,374.8 767.4,374.6 768.4,381.4 769.4,382.1 770.4,380.3 771.3,383.3 772.3,385.8 773.3,385.1 774.3,387.4 775.2,388.3 776.2,393.1 777.2,390.6 778.2,394.5 779.2,396 780.1,397.8 781.1,395.7 782.1,397.8 783.1,402.4 784,402.6 785,405 786,405 787,408 788,410 788.9,409.1 789.9,413.1 790.9,413.7 791.9,413.5 792.8,413 793.8,422 794.8,424.7 795.8,422.4 796.8,427 797.7,426.5 798.7,428.4 799.7,427.1 800.7,434.2 801.6,436.4 802.6,436.6 803.6,441.1 804.6,444.2 805.6,441.9 806.5,445.9 807.5,445.2 808.5,452.2 809.5,449.6 810.4,455.5 811.4,456 812.4,460.4 813.4,460.7 814.3,461.9 815.3,465.7 816.3,467.4 817.3,465.2 818.3,470.4 819.2,469.1 820.2,473.6 821.2,475.1 822.2,475.6 823.1,476.8 824.1,480.3 825.1,484.7 826.1,485.8 827.1,483.4 828,485.8 829,491.3 830,489.5 831,494.1 831.9,493.8 832.9,494.4 833.9,496.1 834.9,502.6 835.9,498.6 836.8,500.9 837.8,500.9 838.8,507.1 839.8,504.4 840.7,506.9 841.7,506.1 842.7,504.8 843.7,509.1 844.7,512.8 845.6,513.5 846.6,511.8 847.6,519 848.6,516.2 849.5,519.2 850.5,521.2 851.5,523.1 852.5,525.3 853.4,523.5 854.4,525.8 855.4,530.5 856.4,524.8 857.4,531.3 858.3,535.8 859.3,538.4 860.3,536 861.3,538.3 862.2,536.4 863.2,537.1 864.2,540.3 865.2,542.3 866.2,543.2 867.1,545.1 868.1,546.7 869.1,546.3 870.1,553.1 871,551 872,548.5 873,554.3 874,554.1 875,558.1 875.9,554.6 876.9,560.3 877.9,558.3 878.9,561.1 879.8,564.9 880.8,565.8 881.8,562.3 882.8,566.7 883.8,569.1 884.7,574.7 885.7,573.9 886.7,571.3 887.7,580.6 888.6,581 889.6,581.4 890.6,581.7 891.6,583.2 892.6,583.7 893.5,590.4 894.5,585.4 895.5,590.3 896.5,594.8 897.4,597.6 898.4,597.7 899.4,595.5 900.4,596.4 901.3,602.1 902.3,606.8 903.3,603.3 904.3,606.2 905.3,607.2 906.2,607.1 907.2,612.9 908.2,616 909.2,612.1 910.1,616 911.1,620.1 912.1,628.7 913.1,615.3 914.1,627.4 915,625.3 916,635.6 917,633.5 918,637.2 918.9,637.3 919.9,638.6 920.9,636.6 921.9,644.2 922.9,639.7 923.8,651.9 924.8,640.3 925.8,644.5 926.8,646.3 927.7,646.7 928.7,656.2 929.7,658.2 930.7,660.3 931.7,662.8 932.6,654.1 933.6,656.8 934.6,661.9 935.6,662.6 936.5,664 937.5,668.1 938.5,666.3 939.5,680 940.4,681.3 941.4,671.6 942.4,678.6 943.4,692.7 944.4,682.8 945.3,679.4 946.3,686.6 947.3,680.9 948.3,697 949.2,683.2 950.2,697.4 951.2,688.8 952.2,697.1 953.2,701.3 954.1,711.7 955.1,706.7 956.1,711.2 957.1,711.2 958,698.5 959,713.3 960,711.1 961,715 962,716.9 962.9,715.4 963.9,720.8 964.9,721.8 965.9,728.5 966.8,730.1 967.8,720.7 968.8,743.8 969.8,718.8 970.8,736.5 971.7,741.3 972.7,732.3 973.7,742.4 974.7,730 975.6,751.6 976.6,765.6 977.6,742.6 978.6,751.9 979.6,758.7 980.5,751.5 981.5,739.9 982.5,752.3 983.5,753.3 984.4,751.1 985.4,751.3 986.4,782.6 987.4,764.1 988.3,767.3 989.3,782.4 990.3,777.9 991.3,780.7 992.3,781.1 993.2,771.8 994.2,767.4 995.2,795.3 996.2,794.7 997.1,789.5 998.1,792.6 999.1,802.5 1000.1,798.8 1001.1,800.1 1002,790.7 1003,791.8 1004,808.1 1005,801 1005.9,795.2 1006.9,795.3 1007.9,816.8 1008.9,802.7 1009.9,791.7 1010.8,824.6 1011.8,810.6 1012.8,818.9 1013.8,822.7 1014.7,827.9 1015.7,825.5 1016.7,820.6 1017.7,813.5 1018.7,814.7 1019.6,811.3 1020.6,831.4 1021.6,828.8 1022.6,814.9 1023.5,817.3 1024.5,855.8 1025.5,844.9 1026.5,837.5 1027.4,833.3 1028.4,851.5 1029.4,836.2 1030.4,842.1 1031.4,850 1032.3,822.2 1033.3,853.3 1034.3,808.3 1035.3,865.5 1036.2,871 1037.2,851.7 1038.2,869.1 1039.2,843.7 1040.2,851.7 1041.1,871 1042.1,839.1 1043.1,867.3 1044.1,853.3 1045,867.3 1046,851.7 1047,858.4 1048,876.8 1049,837.6 1049.9,878.8 1050.9,882.8 1051.9,871 1052.9,887 1053.8,878.8 1054.8,871 1055.8,884.9 1056.8,898.1 1057.8,915.2 1058.7,915.2 1059.7,900.4 1060.7,898.1 1061.7,917.8 1062.6,923.2 1063.6,920.5 1064.6,905.1 1065.6,884.9 1066.6,893.5 1067.5,923.2 1068.5,928.9 1069.5,907.6 1070.5,912.6 1071.4,928.9 1072.4,947.3 1073.4,926 1074.4,926 1075.3,920.5 1076.3,961.1 1077.3,898.1 1078.3,898.1 1079.3,912.6 1080.2,905.1 1081.2,910.1 1082.2,950.6 1083.2,917.8 1084.1,917.8 1085.1,947.3 1086.1,957.5 1087.1,937.8 1088.1,947.3 1089,931.8 1090,954 1091,934.7 1092,950.6 1092.9,947.3 1093.9,937.8 1094.9,950.6 1095.9,928.9 1096.9,934.7 1097.8,980.5 1098.8,954 1099.8,937.8 1100.8,957.5 1101.7,940.9 1102.7,947.3 1103.7,928.9 1104.7,964.8 1105.7,984.8 1106.6,964.8 1107.6,957.5 1108.6,1003.2 1109.6,923.2 1110.5,954 1111.5,1003.2 1112.5,957.5 1113.5,989.2 1114.4,976.4 1115.4,1036.5 1116.4,940.9 1117.4,1003.2 1118.4,954 1119.3,961.1 1120.3,980.5 1121.3,957.5 1122.3,984.8 1123.2,989.2 1124.2,980.5 1125.2,1008.2 1126.2,1013.4 1127.2,1008.2 1128.1,1003.2 1129.1,976.4 1130.1,989.2 1131.1,1013.4 1132,980.5 1133,1003.2 1134,1024.5 1135,1030.3 1136,1003.2 1136.9,1042.9 1137.9,989.2 1138.9,968.5 1139.9,989.2 1140.8,998.4 1141.8,964.8 1142.8,1024.5 1143.8,1042.9 1144.8,972.4 1145.7,998.4 1146.7,957.5 1147.7,1036.5 1148.7,1018.8 1149.6,1089.3 1150.6,1003.2 1151.6,964.8 1152.6,1024.5 1153.6,1018.8 1154.5,1042.9 1155.5,1013.4 1156.5,1030.3 1157.5,1072 1158.4,1056.7 1159.4,961.1 1160.4,1008.2 1161.4,1049.6 1162.3,1080.4 1163.3,1013.4 1164.3,1030.3 1165.3,1056.7 1166.3,1072 1167.2,1024.5 1168.2,1018.8 1169.2,984.8 1170.2,1030.3 1171.1,1024.5 1172.1,1056.7 1173.1,1049.6 1174.1,1030.3 1175.1,1049.6 1176,1018.8 1177,993.7 1178,1018.8 1179,1049.6 1179.9,1049.6 1180.9,1036.5 1181.9,1042.9 1182.9,1080.4 1183.9,1030.3 1184.8,1036.5 1185.8,1064.2 1186.8,1013.4 1187.8,1056.7 1188.7,1109.1 1189.7,1080.4 1190.7,1036.5 1191.7,1042.9 1192.7,1072 1193.6,1159.8 1194.6,1120.1 1195.6,1098.8 1196.6,1013.4 1197.5,1024.5 1198.5,1072 1199.5,1056.7 1200.5,1064.2 1201.4,1089.3 1202.4,1056.7 1203.4,1036.5 1204.4,1056.7 1205.4,1072 1206.3,1042.9 1207.3,1024.5 1208.3,1080.4 1209.3,1064.2 1210.2,1080.4 1211.2,1036.5 1212.2,1120.1 1213.2,1098.8 1214.2,1064.2 1215.1,1056.7 1216.1,1109.1 1217.1,1049.6 1218.1,1056.7 1219,1042.9 1220,1049.6 1221,1089.3 1222,1089.3 1223,1080.4 1223.9,1089.3 1224.9,1080.4 1225.9,1098.8 1226.9,1098.8 1227.8,1089.3 1228.8,1049.6 1229.8,1064.2 1230.8,1049.6 1231.8,1024.5 1232.7,1042.9 1233.7,1109.1 1234.7,1064.2 1235.7,1072 1236.6,1109.1 1237.6,1120.1 1238.6,1042.9 1239.6,1056.7 1240.6,1109.1 1241.5,1098.8 1242.5,1120.1 1243.5,1109.1 1244.5,1024.5 1245.4,1120.1 1246.4,1049.6 1247.4,1089.3 1248.4,1132.1 1249.3,1109.1 1250.3,1056.7 1251.3,1080.4 1252.3,1030.3 1253.3,1042.9 1254.2,1089.3 1255.2,1064.2 1256.2,1120.1 1257.2,1080.4 1258.1,1132.1 1259.1,1072 1260.1,1049.6 1261.1,1109.1 1262.1,1109.1 1263,1109.1 1264,1089.3 1265,1064.2 1266,1109.1 1266.9,1145.2 1267.9,1049.6 1268.9,1120.1 1269.9,1159.8 1270.9,1089.3 1271.8,1145.2 1272.8,1089.3 1273.8,1145.2 1274.8,1089.3 1275.7,1064.2 1276.7,1064.2 1277.7,1132.1 1278.7,1056.7 1279.7,1080.4 1280.6,1098.8 1281.6,1159.8 1282.6,1176 1283.6,1176 1284.5,1089.3 1285.5,1132.1 1286.5,1120.1 1287.5,1072 1288.4,1080.4 1289.4,1145.2 1290.4,1109.1 1291.4,1109.1 1292.4,1109.1 1293.3,1176 1294.3,1098.8 1295.3,1089.3 1296.3,1109.1 1297.2,1132.1 1298.2,1098.8 1299.2,1132.1 1300.2,1194.5 1301.2,1194.5 1302.1,1080.4 1303.1,1109.1 1304.1,1132.1 1305.1,1089.3 1306,1159.8 1307,1120.1 1308,1036.5 1309,1159.8 1310,1159.8 1310.9,1145.2 1311.9,1120.1 1312.9,1132.1 1313.9,1194.5 1314.8,1176 1315.8,1120.1 1316.8,1080.4 1317.8,1159.8 1318.8,1109.1 1319.7,1109.1 1320.7,1176 1321.7,1194.5 1322.7,1030.3 1323.6,1145.2 1324.6,1176 1325.6,1080.4 1326.6,1194.5 1327.6,1109.1 1328.5,1159.8 1329.5,1089.3 1330.5,1132.1 1331.5,1109.1 1332.4,1194.5 1333.4,1080.4 1334.4,1159.8 1335.4,1120.1 1336.3,1240.9 1337.3,1109.1 1338.3,1145.2 1339.3,1109.1 1340.3,1194.5 1341.2,1176 1342.2,1089.3 1343.2,1145.2 1344.2,1145.2 1345.1,1064.2 1346.1,1109.1 1347.1,1145.2 1348.1,1194.5 1349.1,1080.4 1350,1064.2 1351,1109.1 1352,1089.3 1353,1120.1 1353.9,1132.1 1354.9,1132.1 1355.9,1080.4 1356.9,1271.7 1357.9,1132.1 1358.8,1120.1 1359.8,1080.4 1360.8,1098.8 1361.8,1240.9 1362.7,1194.5 1363.7,1120.1 1364.7,1215.7 1365.7,1159.8 1366.7,1120.1 1367.6,1120.1 1368.6,1145.2 1369.6,1176 1370.6,1176 1371.5,1176 1372.5,1159.8 1373.5,1215.7 1374.5,1120.1 1375.4,1132.1 1376.4,1120.1 1377.4,1194.5 1378.4,1098.8 1379.4,1145.2 1380.3,1132.1 1381.3,1132.1 1382.3,1089.3 1383.3,1109.1 1384.2,1271.7 1385.2,1132.1 1386.2,1145.2 1387.2,1159.8 1388.2,1120.1 1389.1,1132.1 1390.1,1145.2 1391.1,1120.1 1392.1,1159.8 1393,1215.7 1394,1159.8 1395,1159.8 1396,1176 1397,1176 1397.9,1240.9 1398.9,1109.1 1399.9,1109.1 1400.9,1215.7 1401.8,1145.2 1402.8,1098.8 1403.8,1120.1 1404.8,1176 1405.8,1120.1 1406.7,1215.7 1407.7,1240.9 1408.7,1120.1 1409.7,1159.8 1410.6,1109.1 1411.6,1159.8 1412.6,1145.2 1413.6,1240.9 1414.6,1176 1415.5,1176 1416.5,1194.5 1417.5,1159.8 1418.5,1176 1419.4,1145.2 1420.4,1145.2 1421.4,1311.3 1422.4,1194.5 1423.3,1215.7 1424.3,1176 1425.3,1132.1 1426.3,1194.5 1427.3,1215.7 1428.2,1132.1 1429.2,1240.9 1430.2,1240.9 1431.2,1145.2 1432.1,1240.9 1433.1,1176 1434.1,1145.2 1435.1,1159.8 1436.1,1159.8 1437,1215.7 1438,1215.7 1439,1132.1 1440,1145.2 1440.9,1159.8 1441.9,1120.1 1442.9,1176 1443.9,1240.9 1444.9,1215.7 1445.8,1176 1446.8,1240.9 1447.8,1240.9 1448.8,1194.5 1449.7,1159.8 1450.7,1159.8 1451.7,1271.7 1452.7,1176 1453.7,1215.7 1454.6,1271.7 1455.6,1120.1 1456.6,1194.5 1457.6,1215.7 1458.5,1215.7 1459.5,1215.7 1460.5,1240.9 1461.5,1240.9 1462.4,1194.5 1463.4,1271.7 1464.4,1240.9 1465.4,1215.7 1466.4,1132.1 1467.3,1159.8 1468.3,1194.5 1469.3,1132.1 1470.3,1194.5 1471.2,1311.3 1472.2,1145.2 1473.2,1215.7 1474.2,1176 1475.2,1271.7 1476.1,1109.1 1477.1,1240.9 1478.1,1271.7 1479.1,1240.9 1480,1215.7 1481,1194.5 1482,1271.7 1483,1176 1484,1176 1484.9,1215.7 1485.9,1145.2 1486.9,1132.1 1487.9,1240.9 1488.8,1271.7 1489.8,1194.5 1490.8,1271.7 1491.8,1145.2 1492.8,1176 1493.7,1194.5 1494.7,1176 1495.7,1215.7 1496.7,1271.7 1497.6,1271.7 1498.6,1240.9 1499.6,1194.5 1500.6,1176 1501.6,1145.2 1502.5,1194.5 1503.5,1215.7 1504.5,1089.3 1505.5,1176 1506.4,1215.7 1507.4,1145.2 1508.4,1215.7 1509.4,1215.7 1510.3,1159.8 1511.3,1159.8 1512.3,1215.7 1513.3,1240.9 1514.3,1240.9 1515.2,1240.9 1516.2,1215.7 1517.2,1120.1 1518.2,1145.2 1519.1,1271.7 1520.1,1132.1 1521.1,1240.9 1522.1,1271.7 1523.1,1240.9 1524,1240.9 1525,1159.8 1526,1176 1527,1194.5 1527.9,1120.1 1528.9,1176 1529.9,1159.8 1530.9,1215.7 1531.9,1215.7 1532.8,1271.7 1533.8,1271.7 1534.8,1145.2 1535.8,1367.3 1536.7,1159.8 1537.7,1240.9 1538.7,1215.7 1539.7,1176 1540.7,1176 1541.6,1215.7 1542.6,1311.3 1543.6,1367.3 1544.6,1098.8 1545.5,1240.9 1546.5,1159.8 1547.5,1311.3 1548.5,1271.7 1549.4,1215.7 1550.4,1215.7 1551.4,1215.7 1552.4,1194.5 1553.4,1176 1554.3,1215.7 1555.3,1132.1 1556.3,1215.7 1557.3,1240.9 1558.2,1194.5 1559.2,1215.7 1560.2,1271.7 1561.2,1194.5 1562.2,1159.8 1563.1,1215.7 1564.1,1194.5 1565.1,1271.7 1566.1,1240.9 1567,1240.9 1568,1215.7 1569,1367.3 1570,1367.3 1571,1194.5 1571.9,1194.5 1572.9,1194.5 1573.9,1271.7 1574.9,1271.7 1575.8,1194.5 1576.8,1311.3 1577.8,1311.3 1578.8,1240.9 1579.8,1215.7 1580.7,1176 1581.7,1159.8 1582.7,1271.7 1583.7,1240.9 1584.6,1311.3 1585.6,1176 1586.6,1271.7 1587.6,1367.3 1588.6,1271.7 1589.5,1271.7 1590.5,1240.9 1591.5,1215.7 1592.5,1367.3 1593.4,1176 1594.4,1271.7 1595.4,1367.3 1596.4,1462.9 1597.3,1176 1598.3,1215.7 1599.3,1159.8 1600.3,1215.7 1601.3,1271.7 1602.2,1176 1603.2,1159.8 1604.2,1194.5 1605.2,1462.9 1606.1,1240.9 1607.1,1271.7 1608.1,1159.8 1609.1,1145.2 1610.1,1311.3 1611,1240.9 1612,1240.9 1613,1240.9 1614,1240.9 1614.9,1145.2 1615.9,1240.9 1616.9,1194.5 1617.9,1215.7 1618.9,1159.8 1619.8,1194.5 1620.8,1159.8 1621.8,1311.3 1622.8,1176 1623.7,1194.5 1624.7,1240.9 1625.7,1240.9 1626.7,1271.7 1627.7,1194.5 1628.6,1215.7 1629.6,1176 1630.6,1271.7 1631.6,1159.8 1632.5,1145.2 1633.5,1271.7 1634.5,1311.3 1635.5,1215.7 1636.4,1176 1637.4,1215.7 1638.4,1311.3 1639.4,1215.7 1640.4,1311.3 1641.3,1215.7 1642.3,1271.7 1643.3,1159.8 1644.3,1194.5 1645.2,1194.5 1646.2,1311.3 1647.2,1145.2 1648.2,1176 1649.2,1311.3 1650.1,1311.3 1651.1,1176 1652.1,1311.3 1653.1,1240.9 1654,1271.7 1655,1176 1656,1194.5 1657,1271.7 1658,1194.5 1658.9,1215.7 1659.9,1194.5 1660.9,1176 1661.9,1271.7 1662.8,1215.7 1663.8,1176 1664.8,1145.2 1665.8,1215.7 1666.8,1194.5 1667.7,1240.9 1668.7,1215.7 1669.7,1159.8 1670.7,1132.1 1671.6,1462.9 1672.6,1271.7 1673.6,1240.9 1674.6,1176 1675.6,1145.2 1676.5,1271.7 1677.5,1271.7 1678.5,1311.3 1679.5,1215.7 1680.4,1271.7 1681.4,1176 1682.4,1194.5 1683.4,1311.3 1684.3,1176 1685.3,1271.7 1686.3,1271.7 1687.3,1215.7 1688.3,1132.1 1689.2,1215.7 1690.2,1215.7 1691.2,1215.7 1692.2,1176 1693.1,1271.7 1694.1,1240.9 1695.1,1240.9 1696.1,1271.7 1697.1,1240.9 1698,1194.5 1699,1271.7 1700,1215.7 1701,1194.5 1701.9,1271.7 1702.9,1271.7 1703.9,1194.5 1704.9,1215.7 1705.9,1462.9 1706.8,1132.1 1707.8,1194.5 1708.8,1215.7 1709.8,1194.5 1710.7,1271.7 1711.7,1311.3 1712.7,1159.8 1713.7,1145.2 1714.7,1240.9 1715.6,1194.5 1716.6,1176 1717.6,1145.2 1718.6,1367.3 1719.5,1215.7 1720.5,1159.8 1721.5,1215.7 1722.5,1240.9 1723.4,1159.8 1724.4,1215.7 1725.4,1120.1 1726.4,1215.7 1727.4,1159.8 1728.3,1240.9 1729.3,1194.5 1730.3,1194.5 1731.3,1271.7 1732.2,1215.7 1733.2,1215.7 1734.2,1311.3 1735.2,1176 1736.2,1271.7 1737.1,1176 1738.1,1271.7 1739.1,1240.9 1740.1,1240.9 1741,1194.5 1742,1240.9 1743,1194.5 1744,1271.7 1745,1120.1 1745.9,1311.3 1746.9,1159.8 1747.9,1132.1 1748.9,1240.9 1749.8,1215.7 1750.8,1194.5 1751.8,1367.3 1752.8,1159.8 1753.8,1311.3 1754.7,1271.7 1755.7,1462.9 1756.7,1176 1757.7,1311.3 1758.6,1240.9 1759.6,1271.7 1760.6,1145.2 1761.6,1311.3 1762.6,1240.9 1763.5,1240.9 1764.5,1311.3 1765.5,1311.3 1766.5,1271.7 1767.4,1271.7 1768.4,1271.7 1769.4,1215.7 1770.4,1311.3 1771.3,1271.7 1772.3,1194.5 1773.3,1240.9 1774.3,1215.7 1775.3,1109.1 1776.2,1215.7 1777.2,1215.7 1778.2,1194.5 1779.2,1240.9 1780.1,1194.5 1781.1,1367.3 1782.1,1176 1783.1,1311.3 1784.1,1311.3 1785,1176 1786,1240.9 1787,1367.3 1788,1311.3 1788.9,1215.7 1789.9,1271.7 1790.9,1240.9 1791.9,1215.7 1792.9,1367.3 1793.8,1215.7 1794.8,1240.9 1795.8,1176 1796.8,1271.7 1797.7,1159.8 1798.7,1215.7 1799.7,1120.1 1800.7,1367.3 1801.7,1159.8 1802.6,1271.7 1803.6,1240.9 1804.6,1311.3 1805.6,1240.9 1806.5,1311.3 1807.5,1159.8 1808.5,1367.3 1809.5,1271.7 1810.4,1311.3 1811.4,1194.5 1812.4,1194.5 1813.4,1311.3 1814.4,1215.7 1815.3,1240.9 1816.3,1132.1 1817.3,1271.7 1818.3,1240.9 1819.2,1194.5 1820.2,1215.7 1821.2,1145.2 1822.2,1240.9 1823.2,1240.9 1824.1,1271.7 1825.1,1240.9 1826.1,1194.5 1827.1,1194.5 1828,1240.9 1829,1215.7 1830,1311.3 1831,1311.3 1832,1215.7 1832.9,1240.9 1833.9,1311.3 1834.9,1215.7 1835.9,1215.7 1836.8,1145.2 1837.8,1311.3 1838.8,1271.7 1839.8,1240.9 1840.8,1240.9 1841.7,1176 1842.7,1194.5 1843.7,1271.7 1844.7,1194.5 1845.6,1240.9 1846.6,1240.9 1847.6,1194.5 1848.6,1311.3 1849.6,1271.7 1850.5,1215.7 1851.5,1240.9 1852.5,1240.9 1853.5,1240.9 1854.4,1240.9 1855.4,1215.7 1856.4,1271.7 1857.4,1194.5 1858.3,1311.3 1859.3,1194.5 1860.3,1311.3 1861.3,1176 1862.3,1240.9 1863.2,1367.3 1864.2,1311.3 1865.2,1367.3 1866.2,1240.9 1867.1,1240.9 1868.1,1215.7 1869.1,1120.1 1870.1,1311.3 1871.1,1194.5 1872,1194.5 1873,1240.9 1874,1240.9 1875,1215.7 1875.9,1176 1876.9,1194.5 1877.9,1240.9 1878.9,1271.7 1879.9,1194.5 1880.8,1240.9 1881.8,1311.3 1882.8,1145.2 1883.8,1311.3 1884.7,1240.9 1885.7,1159.8 1886.7,1194.5 1887.7,1311.3 1888.7,1311.3 1889.6,1145.2 1890.6,1240.9 1891.6,1215.7 1892.6,1240.9 1893.5,1240.9 1894.5,1159.8 1895.5,1311.3 1896.5,1240.9 1897.4,1271.7 1898.4,1240.9 1899.4,1215.7 1900.4,1215.7 1901.4,1176 1902.3,1215.7 1903.3,1159.8 1904.3,1462.9 1905.3,1311.3 1906.2,1240.9 1907.2,1176 1908.2,1176 1909.2,1271.7 1910.2,1311.3 1911.1,1311.3 1912.1,1240.9 1913.1,1240.9 1914.1,1462.9 1915,1176 1916,1215.7 1917,1215.7 1918,1271.7 1919,1240.9 1919.9,1311.3 1920.9,1271.7 1921.9,1215.7 1922.9,1240.9 1923.8,1176 1924.8,1240.9 1925.8,1240.9 1926.8,1271.7 1927.8,1176 1928.7,1240.9 1929.7,1271.7 1930.7,1367.3 1931.7,1240.9 1932.6,1176 1933.6,1176 1934.6,1215.7 1935.6,1176 1936.6,1176 1937.5,1240.9 1938.5,1311.3 1939.5,1240.9 1940.5,1311.3 1941.4,1240.9 1942.4,1194.5 1943.4,1367.3 1944.4,1271.7 1945.3,1367.3 1946.3,1215.7 1947.3,1240.9 1948.3,1271.7 1949.3,1194.5 1950.2,1145.2 1951.2,1215.7 1952.2,1271.7 1953.2,1367.3 1954.1,1215.7 1955.1,1176 1956.1,1145.2 1957.1,1176 1958.1,1311.3 1959,1271.7 1960,1159.8 1961,1098.8 1962,1367.3 1962.9,1215.7 1963.9,1311.3 1964.9,1271.7 1965.9,1240.9 1966.9,1120.1 1967.8,1159.8 1968.8,1271.7 1969.8,1176 1970.8,1367.3 1971.7,1240.9 1972.7,1215.7 1973.7,1240.9 1974.7,1367.3 1975.7,1240.9 1976.6,1311.3 1977.6,1176 1978.6,1215.7 1979.6,1462.9 1980.5,1311.3 1981.5,1215.7 1982.5,1462.9 1983.5,1194.5 1984.4,1271.7 1985.4,1145.2 1986.4,1194.5 1987.4,1271.7 1988.4,1215.7 1989.3,1271.7 1990.3,1240.9 1991.3,1194.5 1992.3,1215.7 1993.2,1215.7 1994.2,1159.8 1995.2,1240.9 1996.2,1194.5 1997.2,1367.3 1998.1,1194.5 1999.1,1367.3 2000.1,1194.5 2001.1,1215.7 2002,1176 2003,1367.3 2004,1271.7 2005,1271.7 2006,1215.7 2006.9,1240.9 2007.9,1367.3 2008.9,1215.7 2009.9,1240.9 2010.8,1159.8 2011.8,1176 2012.8,1240.9 2013.8,1367.3 2014.8,1194.5 2015.7,1159.8 2016.7,1215.7 2017.7,1311.3 2018.7,1240.9 2019.6,1240.9 2020.6,1194.5 2021.6,1367.3 2022.6,1271.7 2023.6,1215.7 2024.5,1194.5 2025.5,1271.7 2026.5,1367.3 2027.5,1271.7 2028.4,1159.8 2029.4,1240.9 2030.4,1271.7 2031.4,1215.7 2032.3,1311.3 2033.3,1215.7 2034.3,1215.7 2035.3,1240.9 2036.3,1240.9 2037.2,1215.7 2038.2,1367.3 2039.2,1311.3 2040.2,1159.8 2041.1,1311.3 2042.1,1240.9 2043.1,1194.5 2044.1,1215.7 2045.1,1311.3 2046,1367.3 2047,1311.3 2048,1194.5 2049,1311.3 2049.9,1240.9 2050.9,1271.7 2051.9,1176 2052.9,1311.3 2053.9,1271.7 2054.8,1215.7 2055.8,1311.3 2056.8,1271.7 2057.8,1311.3 2058.7,1367.3 2059.7,1240.9 2060.7,1462.9 2061.7,1367.3 2062.7,1194.5 2063.6,1271.7 2064.6,1176 2065.6,1194.5 2066.6,1271.7 2067.5,1215.7 2068.5,1194.5 2069.5,1132.1 2070.5,1311.3 2071.4,1159.8 2072.4,1159.8 2073.4,1367.3 2074.4,1215.7 2075.4,1311.3 2076.3,1215.7 2077.3,1311.3 2078.3,1311.3 2079.3,1215.7 2080.2,1271.7 2081.2,1367.3 2082.2,1098.8 2083.2,1240.9 2084.2,1159.8 2085.1,1240.9 2086.1,1367.3 2087.1,1311.3 2088.1,1271.7 2089,1311.3 2090,1176 2091,1215.7 2092,1271.7 2093,1311.3 2093.9,1311.3 2094.9,1311.3 2095.9,1194.5 2096.9,1240.9 2097.8,1462.9 2098.8,1215.7 2099.8,1240.9 2100.8,1462.9 2101.8,1194.5 2102.7,1159.8 2103.7,1176 2104.7,1240.9 2105.7,1240.9 2106.6,1271.7 2107.6,1194.5 2108.6,1194.5 2109.6,1215.7 2110.6,1271.7 2111.5,1367.3 2112.5,1271.7 2113.5,1194.5 2114.5,1176 2115.4,1215.7 2116.4,1311.3 2117.4,1215.7 2118.4,1367.3 2119.3,1311.3 2120.3,1367.3 2121.3,1159.8 2122.3,1194.5 2123.3,1311.3 2124.2,1271.7 2125.2,1215.7 2126.2,1215.7 2127.2,1145.2 2128.1,1271.7 2129.1,1367.3 2130.1,1176 2131.1,1462.9 2132.1,1271.7 2133,1215.7 2134,1240.9 2135,1271.7 2136,1311.3 2136.9,1240.9 2137.9,1271.7 2138.9,1240.9 2139.9,1367.3 2140.9,1176 2141.8,1194.5 2142.8,1215.7 2143.8,1159.8 2144.8,1240.9 2145.7,1311.3 2146.7,1240.9 2147.7,1215.7 2148.7,1215.7 2149.7,1367.3 2150.6,1215.7 2151.6,1271.7 2152.6,1271.7 2153.6,1240.9 2154.5,1311.3 2155.5,1240.9 2156.5,1132.1 2157.5,1271.7 2158.4,1240.9 2159.4,1240.9 2160.4,1159.8 2161.4,1159.8 2162.4,1271.7 2163.3,1176 2164.3,1215.7 2165.3,1240.9 2166.3,1271.7 2167.2,1194.5 2168.2,1176 2169.2,1271.7 2170.2,1240.9 2171.2,1215.7 2172.1,1145.2 2173.1,1194.5 2174.1,1194.5 2175.1,1194.5 2176,1159.8 2177,1311.3 2178,1215.7 2179,1311.3 2180,1194.5 2180.9,1311.3 2181.9,1311.3 2182.9,1215.7 2183.9,1194.5 2184.8,1271.7 2185.8,1215.7 2186.8,1215.7 2187.8,1176 2188.8,1271.7 2189.7,1194.5 2190.7,1240.9 2191.7,1311.3 2192.7,1240.9 2193.6,1240.9 2194.6,1176 2195.6,1311.3 2196.6,1240.9 2197.6,1240.9 2198.5,1176 2199.5,1367.3 2200.5,1367.3 2201.5,1271.7 2202.4,1194.5 2203.4,1176 2204.4,1176 2205.4,1240.9 2206.3,1194.5 2207.3,1240.9 2208.3,1176 2209.3,1271.7 2210.3,1240.9 2211.2,1240.9 2212.2,1367.3 2213.2,1271.7 2214.2,1215.7 2215.1,1271.7 2216.1,1240.9 2217.1,1215.7 2218.1,1311.3 2219.1,1367.3 2220,1176 2221,1462.9 2222,1271.7 2223,1271.7 2223.9,1176 2224.9,1462.9 2225.9,1271.7 2226.9,1215.7 2227.9,1194.5 2228.8,1215.7 2229.8,1271.7 2230.8,1215.7 2231.8,1240.9 2232.7,1194.5 2233.7,1271.7 2234.7,1240.9 2235.7,1194.5 2236.7,1120.1 2237.6,1194.5 2238.6,1215.7 2239.6,1215.7 2240.6,1215.7 2241.5,1462.9 2242.5,1176 2243.5,1194.5 2244.5,1311.3 2245.4,1194.5 2246.4,1240.9 2247.4,1271.7 2248.4,1271.7 2249.4,1194.5 2250.3,1240.9 2251.3,1176 2252.3,1194.5 2253.3,1271.7 2254.2,1215.7 2256.2,1240.9 2257.2,1311.3 2258.2,1159.8 2259.1,1194.5 2260.1,1311.3 2261.1,1240.9 2262.1,1311.3 2263,1145.2 2264,1215.7 2265,1215.7 2266,1159.8 2267,1240.9 2267.9,1240.9 2268.9,1215.7 2269.9,1271.7 2270.9,1311.3 2272.8,1215.7 2273.8,1271.7 2274.8,1240.9 2275.8,1271.7 2276.7,1215.7 2277.7,1271.7 2278.7,1311.3 2279.7,1240.9 2280.6,1176 2281.6,1176 2282.6,1240.9 2283.6,1215.7 2284.6,1240.9 2285.5,1240.9 2286.5,1176 2287.5,1240.9 2288.5,1240.9 2289.4,1271.7 2290.4,1240.9 2291.4,1240.9 2292.4,1367.3 2293.3,1215.7 2294.3,1215.7 2295.3,1271.7 2296.3,1311.3 2297.3,1176 2298.2,1311.3 2299.2,1240.9 2300.2,1176 2301.2,1240.9 2302.1,1194.5 2303.1,1194.5 2304.1,1311.3 2305.1,1240.9 2306.1,1176 2307,1194.5 2308,1240.9 2309,1176 2310,1194.5 2310.9,1194.5 2311.9,1271.7 2312.9,1271.7 2313.9,1311.3 2314.9,1215.7 2315.8,1215.7 2316.8,1215.7 2317.8,1271.7 2318.8,1240.9 2319.7,1194.5 2320.7,1240.9 2321.7,1176 2322.7,1240.9 2323.7,1240.9 2324.6,1159.8 2325.6,1215.7 2326.6,1176 2327.6,1194.5 2328.5,1240.9 2329.5,1159.8 2330.5,1240.9 2331.5,1194.5 2332.4,1271.7 2333.4,1159.8 2334.4,1311.3 2335.4,1311.3 2336.4,1215.7 2337.3,1271.7 2338.3,1311.3 2339.3,1240.9 2340.3,1311.3 2341.2,1176 2342.2,1176 2343.2,1311.3 2344.2,1240.9 2345.2,1367.3 2346.1,1240.9 2347.1,1194.5 2348.1,1367.3 2349.1,1367.3 2350,1176 2351,1240.9 2352,1367.3" stroke="#E6127A"/>
<polyline points="351,1311.3 352,1311.3 353,1240.9 353.9,1271.7 354.9,1367.3 355.9,1240.9 356.9,1215.7 357.8,1311.3 358.8,1215.7 359.8,1215.7 360.8,1367.3 361.8,1271.7 362.7,1271.7 363.7,1240.9 364.7,1311.3 365.7,1240.9 366.6,1240.9 367.6,1240.9 368.6,1311.3 369.6,1271.7 370.6,1194.5 371.5,1367.3 372.5,1176 373.5,1311.3 374.5,1271.7 375.4,1271.7 376.4,1240.9 377.4,1462.9 378.4,1271.7 379.3,1215.7 380.3,1311.3 381.3,1367.3 382.3,1462.9 383.3,1311.3 384.2,1215.7 385.2,1271.7 386.2,1271.7 387.2,1271.7 388.1,1367.3 389.1,1367.3 390.1,1311.3 391.1,1367.3 392.1,1311.3 393,1215.7 394,1271.7 395,1311.3 396,1240.9 396.9,1240.9 397.9,1240.9 398.9,1240.9 399.9,1240.9 400.9,1271.7 401.8,1271.7 402.8,1367.3 403.8,1240.9 404.8,1240.9 405.7,1367.3 406.7,1215.7 407.7,1194.5 408.7,1194.5 409.7,1311.3 410.6,1159.8 411.6,1462.9 412.6,1462.9 413.6,1311.3 414.5,1240.9 415.5,1271.7 416.5,1240.9 417.5,1271.7 418.4,1462.9 419.4,1311.3 420.4,1271.7 421.4,1176 422.4,1215.7 423.3,1271.7 424.3,1194.5 425.3,1215.7 426.3,1159.8 427.2,1194.5 428.2,1311.3 429.2,1159.8 430.2,1240.9 431.2,1215.7 432.1,1098.8 433.1,1145.2 434.1,1159.8 435.1,1367.3 436,1176 437,1194.5 438,1240.9 439,1271.7 440,1215.7 440.9,1145.2 441.9,1194.5 442.9,1089.3 443.9,1089.3 444.8,1176 445.8,1030.3 446.8,1089.3 447.8,1080.4 448.8,1132.1 449.7,1109.1 450.7,1120.1 451.7,1049.6 452.7,1120.1 453.6,1072 454.6,1042.9 455.6,1030.3 456.6,1036.5 457.6,989.2 458.5,968.5 459.5,1018.8 460.5,1003.2 461.5,954 462.4,1003.2 463.4,1013.4 464.4,961.1 465.4,944 466.3,900.4 467.3,915.2 468.3,905.1 469.3,915.2 470.3,891.3 471.2,865.5 472.2,850 473.2,837.6 474.2,833.1 475.1,800 476.1,786.5 477.1,783.2 478.1,756.8 479.1,751.9 480,756.6 481,739 482,722.1 483,706.5 483.9,692.8 484.9,691.1 485.9,674.5 486.9,658.3 487.9,650.1 488.8,640 489.8,619.9 490.8,601.9 491.8,586.2 492.7,570.4 493.7,555.1 494.7,540.1 495.7,528.7 496.7,509.2 497.6,499.4 498.6,478.6 499.6,473.3 500.6,461.5 501.5,444.4 502.5,436.6 503.5,426.6 504.5,416 505.4,405.6 506.4,392.2 507.4,380.1 508.4,369.9 509.4,353.5 510.3,343.8 511.3,331 512.3,317.7 513.3,305.2 514.2,293.1 515.2,282.9 516.2,274.2 517.2,263.7 518.2,258.1 519.1,248.7 520.1,241.5 521.1,236.4 522.1,226 523,218.4 524,209.7 525,202.1 526,192.9 527,184.9 527.9,177 528.9,169.2 529.9,161.4 530.9,154.8 531.8,147 532.8,139.5 533.8,132.7 534.8,127.8 535.8,120.6 536.7,115.1 537.7,109.7 538.7,105.1 539.7,100.9 540.6,96.3 541.6,94.4 542.6,90.4 543.6,86.8 544.6,85.7 545.5,83.6 546.5,81.5 547.5,79.5 548.5,77.1 549.4,76.3 550.4,75 551.4,72.7 552.4,72 553.3,69.6 554.3,68.3 555.3,66.6 556.3,64.6 557.3,63.4 558.2,61.6 559.2,60.2 560.2,59.3 561.2,56.9 562.1,55.8 563.1,55.1 564.1,53.9 565.1,52.1 566.1,51.3 567,50.1 568,49.8 569,49 570,47.9 570.9,47.5 571.9,46.6 572.9,46.8 573.9,45.8 574.9,45.3 575.8,44.8 576.8,44.7 577.8,43.6 578.8,43.7 579.7,43.7 580.7,43.9 581.7,43.6 582.7,43.1 583.7,43.6 584.6,44 585.6,43.9 586.6,43.6 587.6,44.3 588.5,43.7 589.5,45.4 590.5,44.7 591.5,45.8 592.4,45.9 593.4,46.3 594.4,45.9 595.4,47.8 596.4,47.8 597.3,48.5 598.3,49.2 599.3,50 600.3,50.4 601.2,50.9 602.2,51.6 603.2,53.1 604.2,53.3 605.2,54 606.1,55 607.1,55.7 608.1,56.7 609.1,57.2 610,59.2 611,59.9 612,60.8 613,62.8 614,63.6 614.9,64.5 615.9,66.5 616.9,67.6 617.9,69.5 618.8,70.5 619.8,72.3 620.8,75.4 621.8,77.3 622.8,78.2 623.7,79.4 624.7,80.9 625.7,82.3 626.7,84.2 627.6,85.7 628.6,86.9 629.6,89 630.6,89.5 631.6,91.7 632.5,93.8 633.5,95.5 634.5,96.7 635.5,98.4 636.4,100 637.4,103 638.4,105.6 639.4,107.5 640.3,109.1 641.3,110.1 642.3,112.9 643.3,114.8 644.3,117 645.2,118.9 646.2,120.1 647.2,122.8 648.2,125.7 649.1,128.3 650.1,128.5 651.1,131.5 652.1,133.1 653.1,136.4 654,137.8 655,140.6 656,141.9 657,144 657.9,146.4 658.9,149.3 659.9,151.6 660.9,154.4 661.9,156.8 662.8,158.9 663.8,161.5 664.8,164 665.8,165.8 666.7,168.8 667.7,170.7 668.7,174.3 669.7,174.7 670.7,178.1 671.6,179.2 672.6,181.3 673.6,184.6 674.6,186.8 675.5,189.3 676.5,191 677.5,193.3 678.5,194.8 679.4,197.7 680.4,200.8 681.4,203 682.4,204.9 683.4,207.2 684.3,209.4 685.3,211.9 686.3,213.3 687.3,215.7 688.2,217.3 689.2,219.2 690.2,222.1 691.2,224.5 692.2,228.1 693.1,229.3 694.1,230 695.1,233.2 696.1,235.3 697,237 698,238.9 699,242 700,243.3 701,247.6 701.9,248.4 702.9,249.4 703.9,251.3 704.9,255.1 705.8,256.3 706.8,260.4 707.8,261.6 708.8,263 709.8,265.6 710.7,268.7 711.7,270.5 712.7,272.8 713.7,274.5 714.6,278.2 715.6,278.3 716.6,281.9 717.6,284.6 718.6,286.5 719.5,290.3 720.5,290.4 721.5,293.6 722.5,295.4 723.4,296.2 724.4,298.9 725.4,300 726.4,302.4 727.3,302.9 728.3,307.1 729.3,310.1 730.3,312.9 731.3,313.5 732.2,315.6 733.2,317.9 734.2,318.4 735.2,321.6 736.1,323.7 737.1,324.1 738.1,327.2 739.1,328.2 740.1,331.2 741,332 742,333.4 743,335.6 744,337 744.9,337.9 745.9,339.4 746.9,341.6 747.9,343.9 748.9,346.5 749.8,346.2 750.8,347.4 751.8,350.9 752.8,351 753.7,355.8 754.7,356.1 755.7,357.6 756.7,358.7 757.7,361.5 758.6,361.3 759.6,367.4 760.6,365.9 761.6,368.1 762.5,368.3 763.5,369.2 764.5,372.8 765.5,372.3 766.4,374.4 767.4,376.7 768.4,377 769.4,381.7 770.4,383.7 771.3,383.4 772.3,381.9 773.3,384.2 774.3,387.9 775.2,389.8 776.2,391.5 777.2,391.5 778.2,394.4 779.2,394.1 780.1,395.1 781.1,397 782.1,399 783.1,402.1 784,404.1 785,407.4 786,406.2 787,409.2 788,409.2 788.9,410.8 789.9,412.3 790.9,415.1 791.9,415.2 792.8,415.9 793.8,415.7 794.8,419 795.8,422.8 796.8,423.4 797.7,429.7 798.7,427.6 799.7,431.2 800.7,432.7 801.6,437.5 802.6,436.8 803.6,439.3 804.6,444 805.6,446.4 806.5,446.4 807.5,449.9 808.5,452.3 809.5,455.6 810.4,455.4 811.4,457.5 812.4,457 813.4,458.6 814.3,463.6 815.3,466.8 816.3,467.3 817.3,469.8 818.3,471.8 819.2,474.1 820.2,474.4 821.2,472.9 822.2,474.1 823.1,477.1 824.1,479.7 825.1,483.1 826.1,482 827.1,484.1 828,486 829,489.2 830,490.3 831,493.9 831.9,495.1 832.9,495.6 833.9,497.7 834.9,496.8 835.9,503.1 836.8,501.8 837.8,502.5 838.8,506.1 839.8,510.2 840.7,505 841.7,509.2 842.7,509.6 843.7,512 844.7,517.6 845.6,516.9 846.6,512.4 847.6,519.9 848.6,515.2 849.5,520.8 850.5,522.3 851.5,522.8 852.5,522.4 853.4,526.4 854.4,530.7 855.4,534.9 856.4,532 857.4,539.5 858.3,535.8 859.3,533.2 860.3,534.6 861.3,539.6 862.2,536.4 863.2,543 864.2,537.4 865.2,545 866.2,541.3 867.1,546 868.1,545.9 869.1,550.5 870.1,547.3 871,550.3 872,554.1 873,555.7 874,557 875,554.2 875.9,554.7 876.9,556.5 877.9,563.1 878.9,562.9 879.8,562.1 880.8,565.5 881.8,567.2 882.8,568.1 883.8,568.3 884.7,572.3 885.7,578.2 886.7,573.3 887.7,580.3 888.6,580.3 889.6,587.1 890.6,584.8 891.6,582.1 892.6,582.8 893.5,588.3 894.5,592.5 895.5,589.1 896.5,596.4 897.4,592.2 898.4,600.5 899.4,597.1 900.4,607.5 901.3,605.4 902.3,603.3 903.3,608.9 904.3,609.2 905.3,608.1 906.2,611.7 907.2,607.6 908.2,621 909.2,619.4 910.1,619.7 911.1,621.7 912.1,626 913.1,625 914.1,629.8 915,626.2 916,635.6 917,636.8 918,640.9 918.9,641 919.9,643.7 920.9,645 921.9,636.6 922.9,645.2 923.8,650.2 924.8,646.6 925.8,655.2 926.8,653 927.7,657.9 928.7,657.9 929.7,656.3 930.7,666.1 931.7,669.2 932.6,664.2 933.6,663.5 934.6,667 935.6,660.2 936.5,662.7 937.5,676.3 938.5,680.3 939.5,671.3 940.4,683.9 941.4,678.3 942.4,678.2 943.4,678 944.4,690.9 945.3,688.2 946.3,691.1 947.3,684.9 948.3,696.1 949.2,700 950.2,692.4 951.2,696.1 952.2,711.8 953.2,699.1 954.1,697.2 955.1,700.7 956.1,704.3 957.1,700 958,713 959,696.9 960,717.2 961,720 962,729.8 962.9,716 963.9,718.7 964.9,726.6 965.9,732.6 966.8,721.7 967.8,734.3 968.8,730.9 969.8,749.2 970.8,731.9 971.7,730.3 972.7,746.5 973.7,741.3 974.7,737.4 975.6,751 976.6,750.9 977.6,736.3 978.6,745.2 979.6,742.6 980.5,757.8 981.5,751.1 982.5,751.5 983.5,765.2 984.4,765.6 985.4,756.9 986.4,767.8 987.4,771.9 988.3,773.7 989.3,771 990.3,774.4 991.3,794.2 992.3,775.8 993.2,776.1 994.2,789.9 995.2,784.1 996.2,802.9 997.1,792.7 998.1,788.4 999.1,810.2 1000.1,812.7 1001.1,798.5 1002,792.9 1003,795 1004,799.1 1005,820 1005.9,806.7 1006.9,820.5 1007.9,789.7 1008.9,810.5 1009.9,817.5 1010.8,825 1011.8,815.4 1012.8,804.3 1013.8,819.3 1014.7,820.6 1015.7,804.4 1016.7,840.8 1017.7,831.2 1018.7,816 1019.6,807.8 1020.6,814.9 1021.6,825 1022.6,834.5 1023.5,837.4 1024.5,827.7 1025.5,846.6 1026.5,830.5 1027.4,831.9 1028.4,846.8 1029.4,843.7 1030.4,872.9 1031.4,837.6 1032.3,837.6 1033.3,846.8 1034.3,848.4 1035.3,860.1 1036.2,843.7 1037.2,861.9 1038.2,876.8 1039.2,882.8 1040.2,846.8 1041.1,843.7 1042.1,869.1 1043.1,858.4 1044.1,871 1045,887 1046,855 1047,874.8 1048,900.4 1049,917.8 1049.9,863.7 1050.9,860.1 1051.9,893.5 1052.9,905.1 1053.8,917.8 1054.8,912.6 1055.8,889.2 1056.8,858.4 1057.8,887 1058.7,895.8 1059.7,878.8 1060.7,876.8 1061.7,889.2 1062.6,867.3 1063.6,912.6 1064.6,895.8 1065.6,898.1 1066.6,902.7 1067.5,934.7 1068.5,898.1 1069.5,937.8 1070.5,895.8 1071.4,907.6 1072.4,954 1073.4,923.2 1074.4,893.5 1075.3,917.8 1076.3,957.5 1077.3,902.7 1078.3,944 1079.3,931.8 1080.2,928.9 1081.2,917.8 1082.2,940.9 1083.2,954 1084.1,934.7 1085.1,931.8 1086.1,947.3 1087.1,947.3 1088.1,961.1 1089,993.7 1090,902.7 1091,944 1092,944 1092.9,950.6 1093.9,968.5 1094.9,920.5 1095.9,964.8 1096.9,947.3 1097.8,947.3 1098.8,968.5 1099.8,972.4 1100.8,950.6 1101.7,980.5 1102.7,968.5 1103.7,980.5 1104.7,1024.5 1105.7,915.2 1106.6,947.3 1107.6,950.6 1108.6,972.4 1109.6,993.7 1110.5,931.8 1111.5,937.8 1112.5,972.4 1113.5,961.1 1114.4,961.1 1115.4,984.8 1116.4,1024.5 1117.4,964.8 1118.4,940.9 1119.3,998.4 1120.3,1003.2 1121.3,998.4 1122.3,989.2 1123.2,980.5 1124.2,993.7 1125.2,968.5 1126.2,961.1 1127.2,1008.2 1128.1,980.5 1129.1,1013.4 1130.1,968.5 1131.1,1003.2 1132,998.4 1133,1030.3 1134,984.8 1135,1008.2 1136,950.6 1136.9,1036.5 1137.9,1024.5 1138.9,993.7 1139.9,993.7 1140.8,1003.2 1141.8,1018.8 1142.8,1008.2 1143.8,998.4 1144.8,1013.4 1145.7,1056.7 1146.7,1024.5 1147.7,984.8 1148.7,993.7 1149.6,1003.2 1150.6,1036.5 1151.6,1003.2 1152.6,1030.3 1153.6,998.4 1154.5,1024.5 1155.5,1008.2 1156.5,1036.5 1157.5,968.5 1158.4,1008.2 1159.4,1024.5 1160.4,1024.5 1161.4,1003.2 1162.3,1036.5 1163.3,1042.9 1164.3,1008.2 1165.3,1049.6 1166.3,1132.1 1167.2,1042.9 1168.2,1064.2 1169.2,1003.2 1170.2,1036.5 1171.1,1120.1 1172.1,998.4 1173.1,1013.4 1174.1,1109.1 1175.1,1064.2 1176,1008.2 1177,1036.5 1178,1008.2 1179,1018.8 1179.9,1072 1180.9,1036.5 1181.9,1064.2 1182.9,1080.4 1183.9,1042.9 1184.8,1049.6 1185.8,1030.3 1186.8,1080.4 1187.8,1024.5 1188.7,1056.7 1189.7,1089.3 1190.7,1042.9 1191.7,1024.5 1192.7,1036.5 1193.6,1072 1194.6,1098.8 1195.6,1036.5 1196.6,1024.5 1197.5,1089.3 1198.5,1089.3 1199.5,1072 1200.5,1080.4 1201.4,1030.3 1202.4,1008.2 1203.4,1072 1204.4,1018.8 1205.4,1013.4 1206.3,1056.7 1207.3,1089.3 1208.3,1024.5 1209.3,1018.8 1210.2,1056.7 1211.2,1018.8 1212.2,1089.3 1213.2,1089.3 1214.2,1056.7 1215.1,1080.4 1216.1,1018.8 1217.1,1030.3 1218.1,1080.4 1219,1024.5 1220,1036.5 1221,1064.2 1222,1064.2 1223,1042.9 1223.9,1089.3 1224.9,1080.4 1225.9,1056.7 1226.9,1109.1 1227.8,1024.5 1228.8,1036.5 1229.8,1132.1 1230.8,1080.4 1231.8,1013.4 1232.7,1064.2 1233.7,1042.9 1234.7,1049.6 1235.7,1176 1236.6,1072 1237.6,1042.9 1238.6,1064.2 1239.6,1145.2 1240.6,1098.8 1241.5,1109.1 1242.5,1109.1 1243.5,1109.1 1244.5,1056.7 1245.4,1132.1 1246.4,1132.1 1247.4,1120.1 1248.4,1109.1 1249.3,1109.1 1250.3,1098.8 1251.3,1042.9 1252.3,1080.4 1253.3,1120.1 1254.2,1072 1255.2,1080.4 1256.2,1120.1 1257.2,1145.2 1258.1,1089.3 1259.1,1109.1 1260.1,1064.2 1261.1,1176 1262.1,1080.4 1263,1080.4 1264,1089.3 1265,1049.6 1266,1089.3 1266.9,1089.3 1267.9,1109.1 1268.9,1080.4 1269.9,1049.6 1270.9,1159.8 1271.8,1120.1 1272.8,1132.1 1273.8,1098.8 1274.8,1120.1 1275.7,1120.1 1276.7,1109.1 1277.7,1132.1 1278.7,1072 1279.7,1176 1280.6,1176 1281.6,1159.8 1282.6,1176 1283.6,1098.8 1284.5,1109.1 1285.5,1159.8 1286.5,1132.1 1287.5,1098.8 1288.4,1176 1289.4,1145.2 1290.4,1120.1 1291.4,1132.1 1292.4,1132.1 1293.3,1072 1294.3,1109.1 1295.3,1072 1296.3,1145.2 1297.2,1120.1 1298.2,1120.1 1299.2,1109.1 1300.2,1109.1 1301.2,1109.1 1302.1,1120.1 1303.1,1036.5 1304.1,1120.1 1305.1,1132.1 1306,1176 1307,1132.1 1308,1194.5 1309,1132.1 1310,1132.1 1310.9,1132.1 1311.9,1145.2 1312.9,1194.5 1313.9,1159.8 1314.8,1145.2 1315.8,1132.1 1316.8,1240.9 1317.8,1176 1318.8,1176 1319.7,1145.2 1320.7,1145.2 1321.7,1098.8 1322.7,1194.5 1323.6,1145.2 1324.6,1145.2 1325.6,1080.4 1326.6,1109.1 1327.6,1064.2 1328.5,1176 1329.5,1098.8 1330.5,1098.8 1331.5,1132.1 1332.4,1271.7 1333.4,1159.8 1334.4,1159.8 1335.4,1145.2 1336.3,1120.1 1337.3,1064.2 1338.3,1089.3 1339.3,1120.1 1340.3,1132.1 1341.2,1109.1 1342.2,1145.2 1343.2,1145.2 1344.2,1132.1 1345.1,1109.1 1346.1,1120.1 1347.1,1194.5 1348.1,1159.8 1349.1,1132.1 1350,1159.8 1351,1159.8 1352,1159.8 1353,1159.8 1353.9,1120.1 1354.9,1145.2 1355.9,1176 1356.9,1109.1 1357.9,1159.8 1358.8,1271.7 1359.8,1132.1 1360.8,1109.1 1361.8,1120.1 1362.7,1159.8 1363.7,1145.2 1364.7,1145.2 1365.7,1215.7 1366.7,1176 1367.6,1145.2 1368.6,1120.1 1369.6,1215.7 1370.6,1145.2 1371.5,1159.8 1372.5,1098.8 1373.5,1120.1 1374.5,1109.1 1375.4,1271.7 1376.4,1145.2 1377.4,1145.2 1378.4,1159.8 1379.4,1215.7 1380.3,1176 1381.3,1215.7 1382.3,1159.8 1383.3,1132.1 1384.2,1194.5 1385.2,1089.3 1386.2,1159.8 1387.2,1176 1388.2,1132.1 1389.1,1159.8 1390.1,1176 1391.1,1176 1392.1,1159.8 1393,1132.1 1394,1159.8 1395,1194.5 1396,1176 1397,1215.7 1397.9,1215.7 1398.9,1176 1399.9,1176 1400.9,1194.5 1401.8,1132.1 1402.8,1271.7 1403.8,1240.9 1404.8,1176 1405.8,1215.7 1406.7,1215.7 1407.7,1159.8 1408.7,1215.7 1409.7,1159.8 1410.6,1215.7 1411.6,1145.2 1412.6,1240.9 1413.6,1176 1414.6,1240.9 1415.5,1367.3 1416.5,1145.2 1417.5,1145.2 1418.5,1159.8 1419.4,1159.8 1420.4,1215.7 1421.4,1271.7 1422.4,1240.9 1423.3,1194.5 1424.3,1132.1 1425.3,1240.9 1426.3,1194.5 1427.3,1132.1 1428.2,1159.8 1429.2,1194.5 1430.2,1159.8 1431.2,1132.1 1432.1,1176 1433.1,1240.9 1434.1,1194.5 1435.1,1176 1436.1,1194.5 1437,1194.5 1438,1194.5 1439,1194.5 1440,1159.8 1440.9,1194.5 1441.9,1132.1 1442.9,1176 1443.9,1271.7 1444.9,1367.3 1445.8,1240.9 1446.8,1109.1 1447.8,1240.9 1448.8,1098.8 1449.7,1145.2 1450.7,1240.9 1451.7,1109.1 1452.7,1159.8 1453.7,1215.7 1454.6,1240.9 1455.6,1194.5 1456.6,1240.9 1457.6,1159.8 1458.5,1271.7 1459.5,1145.2 1460.5,1311.3 1461.5,1176 1462.4,1194.5 1463.4,1176 1464.4,1159.8 1465.4,1240.9 1466.4,1194.5 1467.3,1145.2 1468.3,1145.2 1469.3,1271.7 1470.3,1159.8 1471.2,1132.1 1472.2,1271.7 1473.2,1215.7 1474.2,1215.7 1475.2,1120.1 1476.1,1159.8 1477.1,1240.9 1478.1,1194.5 1479.1,1176 1480,1159.8 1481,1145.2 1482,1215.7 1483,1194.5 1484,1145.2 1484.9,1271.7 1485.9,1194.5 1486.9,1367.3 1487.9,1311.3 1488.8,1194.5 1489.8,1120.1 1490.8,1367.3 1491.8,1145.2 1492.8,1240.9 1493.7,1215.7 1494.7,1194.5 1495.7,1194.5 1496.7,1176 1497.6,1311.3 1498.6,1159.8 1499.6,1194.5 1500.6,1194.5 1501.6,1215.7 1502.5,1215.7 1503.5,1176 1504.5,1176 1505.5,1311.3 1506.4,1194.5 1507.4,1176 1508.4,1271.7 1509.4,1240.9 1510.3,1089.3 1511.3,1215.7 1512.3,1462.9 1513.3,1120.1 1514.3,1176 1515.2,1462.9 1516.2,1089.3 1517.2,1176 1518.2,1271.7 1519.1,1240.9 1520.1,1159.8 1521.1,1120.1 1522.1,1176 1523.1,1367.3 1524,1240.9 1525,1145.2 1526,1176 1527,1145.2 1527.9,1271.7 1528.9,1215.7 1529.9,1159.8 1530.9,1145.2 1531.9,1194.5 1532.8,1159.8 1533.8,1215.7 1534.8,1194.5 1535.8,1145.2 1536.7,1271.7 1537.7,1271.7 1538.7,1215.7 1539.7,1159.8 1540.7,1240.9 1541.6,1240.9 1542.6,1194.5 1543.6,1215.7 1544.6,1240.9 1545.5,1215.7 1546.5,1176 1547.5,1215.7 1548.5,1271.7 1549.4,1311.3 1550.4,1215.7 1551.4,1311.3 1552.4,1271.7 1553.4,1271.7 1554.3,1194.5 1555.3,1271.7 1556.3,1271.7 1557.3,1311.3 1558.2,1271.7 1559.2,1159.8 1560.2,1194.5 1561.2,1132.1 1562.2,1311.3 1563.1,1311.3 1564.1,1311.3 1565.1,1271.7 1566.1,1240.9 1568,1271.7 1569,1311.3 1570,1462.9 1571,1215.7 1571.9,1215.7 1572.9,1176 1573.9,1159.8 1574.9,1240.9 1575.8,1215.7 1576.8,1240.9 1577.8,1240.9 1578.8,1145.2 1579.8,1311.3 1580.7,1240.9 1581.7,1240.9 1582.7,1271.7 1583.7,1176 1584.6,1215.7 1585.6,1194.5 1586.6,1311.3 1587.6,1132.1 1588.6,1240.9 1589.5,1194.5 1590.5,1311.3 1591.5,1311.3 1592.5,1240.9 1593.4,1159.8 1594.4,1132.1 1595.4,1132.1 1596.4,1176 1597.3,1176 1598.3,1159.8 1599.3,1462.9 1600.3,1194.5 1601.3,1271.7 1602.2,1145.2 1603.2,1159.8 1604.2,1311.3 1605.2,1145.2 1606.1,1194.5 1607.1,1240.9 1608.1,1271.7 1609.1,1271.7 1610.1,1194.5 1611,1240.9 1612,1132.1 1614,1194.5 1614.9,1176 1615.9,1240.9 1616.9,1215.7 1617.9,1240.9 1618.9,1194.5 1619.8,1194.5 1620.8,1240.9 1621.8,1194.5 1622.8,1215.7 1623.7,1240.9 1624.7,1194.5 1625.7,1311.3 1626.7,1194.5 1627.7,1271.7 1628.6,1194.5 1629.6,1194.5 1630.6,1215.7 1631.6,1240.9 1632.5,1311.3 1633.5,1145.2 1634.5,1271.7 1635.5,1271.7 1636.4,1215.7 1637.4,1240.9 1638.4,1215.7 1639.4,1132.1 1640.4,1271.7 1641.3,1215.7 1642.3,1194.5 1643.3,1109.1 1644.3,1176 1645.2,1367.3 1646.2,1176 1647.2,1271.7 1648.2,1215.7 1649.2,1311.3 1650.1,1240.9 1651.1,1215.7 1652.1,1240.9 1653.1,1311.3 1654,1367.3 1655,1271.7 1656,1145.2 1657,1271.7 1658,1367.3 1658.9,1462.9 1659.9,1145.2 1660.9,1145.2 1661.9,1176 1662.8,1271.7 1663.8,1271.7 1664.8,1176 1665.8,1194.5 1666.8,1194.5 1667.7,1240.9 1668.7,1240.9 1669.7,1271.7 1670.7,1240.9 1671.6,1176 1672.6,1367.3 1673.6,1271.7 1674.6,1462.9 1675.6,1271.7 1676.5,1215.7 1677.5,1145.2 1678.5,1271.7 1679.5,1215.7 1680.4,1145.2 1681.4,1176 1682.4,1311.3 1683.4,1240.9 1684.3,1215.7 1685.3,1271.7 1686.3,1176 1687.3,1109.1 1688.3,1240.9 1689.2,1271.7 1690.2,1159.8 1691.2,1176 1692.2,1271.7 1693.1,1367.3 1694.1,1176 1695.1,1215.7 1696.1,1215.7 1697.1,1240.9 1698,1215.7 1699,1271.7 1700,1132.1 1701,1367.3 1701.9,1367.3 1702.9,1194.5 1703.9,1311.3 1704.9,1311.3 1705.9,1271.7 1706.8,1240.9 1707.8,1311.3 1708.8,1215.7 1709.8,1271.7 1710.7,1240.9 1711.7,1367.3 1712.7,1176 1713.7,1240.9 1714.7,1240.9 1715.6,1271.7 1716.6,1311.3 1717.6,1194.5 1718.6,1240.9 1719.5,1367.3 1720.5,1194.5 1722.5,1176 1723.4,1194.5 1724.4,1367.3 1725.4,1159.8 1726.4,1176 1727.4,1240.9 1728.3,1240.9 1729.3,1462.9 1730.3,1271.7 1731.3,1367.3 1732.2,1194.5 1733.2,1271.7 1734.2,1176 1735.2,1367.3 1736.2,1271.7 1737.1,1271.7 1738.1,1159.8 1739.1,1215.7 1740.1,1240.9 1741,1194.5 1742,1271.7 1743,1215.7 1744,1367.3 1745,1194.5 1745.9,1194.5 1746.9,1240.9 1747.9,1194.5 1748.9,1240.9 1749.8,1271.7 1750.8,1271.7 1751.8,1240.9 1752.8,1271.7 1753.8,1215.7 1754.7,1367.3 1755.7,1271.7 1756.7,1367.3 1757.7,1367.3 1758.6,1311.3 1759.6,1240.9 1760.6,1215.7 1761.6,1367.3 1762.6,1194.5 1764.5,1240.9 1765.5,1215.7 1766.5,1159.8 1767.4,1176 1768.4,1271.7 1769.4,1176 1770.4,1215.7 1771.3,1215.7 1772.3,1311.3 1773.3,1159.8 1774.3,1159.8 1775.3,1240.9 1776.2,1240.9 1777.2,1271.7 1778.2,1271.7 1779.2,1240.9 1780.1,1176 1781.1,1311.3 1782.1,1367.3 1783.1,1367.3 1784.1,1271.7 1785,1215.7 1786,1367.3 1787,1215.7 1788,1240.9 1788.9,1271.7 1789.9,1240.9 1790.9,1215.7 1791.9,1271.7 1792.9,1215.7 1793.8,1311.3 1794.8,1176 1795.8,1176 1796.8,1194.5 1797.7,1311.3 1798.7,1311.3 1799.7,1311.3 1800.7,1311.3 1801.7,1194.5 1802.6,1194.5 1803.6,1462.9 1804.6,1132.1 1805.6,1215.7 1806.5,1145.2 1807.5,1367.3 1808.5,1271.7 1809.5,1176 1810.4,1240.9 1811.4,1271.7 1812.4,1271.7 1813.4,1271.7 1814.4,1311.3 1815.3,1176 1816.3,1311.3 1817.3,1271.7 1818.3,1194.5 1819.2,1132.1 1820.2,1194.5 1821.2,1159.8 1822.2,1194.5 1823.2,1240.9 1824.1,1271.7 1825.1,1240.9 1826.1,1194.5 1827.1,1145.2 1828,1132.1 1829,1176 1830,1311.3 1831,1194.5 1832,1240.9 1832.9,1194.5 1833.9,1271.7 1834.9,1240.9 1835.9,1215.7 1836.8,1132.1 1837.8,1215.7 1838.8,1194.5 1839.8,1159.8 1840.8,1271.7 1841.7,1271.7 1842.7,1240.9 1843.7,1367.3 1844.7,1159.8 1845.6,1176 1846.6,1462.9 1847.6,1215.7 1848.6,1176 1849.6,1215.7 1850.5,1215.7 1851.5,1215.7 1852.5,1311.3 1853.5,1271.7 1854.4,1240.9 1855.4,1215.7 1856.4,1176 1857.4,1311.3 1858.3,1194.5 1859.3,1215.7 1860.3,1215.7 1861.3,1240.9 1862.3,1311.3 1863.2,1194.5 1864.2,1311.3 1865.2,1271.7 1866.2,1271.7 1867.1,1271.7 1868.1,1311.3 1869.1,1215.7 1870.1,1145.2 1871.1,1145.2 1872,1240.9 1873,1194.5 1874,1194.5 1875,1367.3 1875.9,1159.8 1876.9,1311.3 1877.9,1240.9 1878.9,1215.7 1879.9,1215.7 1880.8,1271.7 1881.8,1367.3 1882.8,1240.9 1883.8,1311.3 1884.7,1194.5 1885.7,1194.5 1886.7,1194.5 1887.7,1240.9 1888.7,1240.9 1889.6,1176 1890.6,1215.7 1891.6,1194.5 1892.6,1271.7 1893.5,1367.3 1894.5,1215.7 1895.5,1271.7 1896.5,1240.9 1897.4,1194.5 1898.4,1240.9 1899.4,1159.8 1900.4,1240.9 1901.4,1271.7 1902.3,1240.9 1903.3,1271.7 1904.3,1215.7 1905.3,1215.7 1906.2,1367.3 1907.2,1215.7 1908.2,1215.7 1909.2,1194.5 1910.2,1271.7 1911.1,1215.7 1912.1,1240.9 1913.1,1215.7 1914.1,1240.9 1915,1194.5 1916,1311.3 1917,1215.7 1918,1240.9 1919,1194.5 1919.9,1311.3 1920.9,1240.9 1921.9,1194.5 1922.9,1311.3 1923.8,1176 1924.8,1194.5 1925.8,1240.9 1926.8,1215.7 1927.8,1271.7 1928.7,1215.7 1929.7,1240.9 1930.7,1159.8 1931.7,1194.5 1932.6,1215.7 1933.6,1176 1934.6,1194.5 1935.6,1240.9 1936.6,1367.3 1937.5,1176 1938.5,1367.3 1939.5,1367.3 1940.5,1271.7 1941.4,1271.7 1942.4,1271.7 1943.4,1271.7 1944.4,1176 1945.3,1215.7 1946.3,1194.5 1947.3,1215.7 1948.3,1176 1949.3,1367.3 1950.2,1240.9 1951.2,1159.8 1952.2,1145.2 1953.2,1215.7 1954.1,1145.2 1955.1,1132.1 1956.1,1271.7 1957.1,1194.5 1958.1,1215.7 1959,1194.5 1960,1240.9 1961,1240.9 1962,1240.9 1962.9,1194.5 1963.9,1311.3 1964.9,1367.3 1965.9,1311.3 1966.9,1271.7 1967.8,1215.7 1968.8,1271.7 1969.8,1176 1970.8,1367.3 1971.7,1240.9 1972.7,1311.3 1973.7,1240.9 1974.7,1240.9 1975.7,1215.7 1976.6,1271.7 1977.6,1194.5 1978.6,1240.9 1979.6,1145.2 1980.5,1311.3 1981.5,1176 1982.5,1271.7 1983.5,1215.7 1984.4,1176 1985.4,1240.9 1986.4,1159.8 1987.4,1240.9 1988.4,1311.3 1989.3,1240.9 1990.3,1462.9 1991.3,1311.3 1992.3,1271.7 1993.2,1176 1994.2,1271.7 1995.2,1311.3 1996.2,1311.3 1997.2,1271.7 1998.1,1215.7 1999.1,1240.9 2000.1,1367.3 2001.1,1215.7 2002,1271.7 2003,1271.7 2004,1194.5 2005,1240.9 2006,1271.7 2006.9,1194.5 2007.9,1240.9 2008.9,1271.7 2009.9,1194.5 2010.8,1215.7 2011.8,1311.3 2012.8,1215.7 2013.8,1240.9 2014.8,1271.7 2015.7,1176 2016.7,1240.9 2017.7,1240.9 2018.7,1215.7 2019.6,1271.7 2020.6,1176 2021.6,1176 2022.6,1194.5 2023.6,1240.9 2024.5,1240.9 2025.5,1194.5 2026.5,1311.3 2027.5,1271.7 2028.4,1159.8 2029.4,1240.9 2030.4,1176 2031.4,1462.9 2032.3,1176 2033.3,1240.9 2034.3,1240.9 2035.3,1271.7 2036.3,1240.9 2037.2,1271.7 2038.2,1132.1 2039.2,1311.3 2040.2,1367.3 2041.1,1311.3 2042.1,1311.3 2043.1,1311.3 2044.1,1271.7 2045.1,1311.3 2046,1271.7 2047,1159.8 2048,1271.7 2049,1240.9 2049.9,1271.7 2050.9,1311.3 2051.9,1176 2052.9,1120.1 2053.9,1240.9 2054.8,1367.3 2055.8,1240.9 2056.8,1311.3 2057.8,1145.2 2058.7,1311.3 2059.7,1271.7 2060.7,1271.7 2061.7,1240.9 2062.7,1176 2063.6,1194.5 2064.6,1194.5 2065.6,1194.5 2066.6,1240.9 2067.5,1367.3 2068.5,1311.3 2070.5,1215.7 2071.4,1367.3 2072.4,1194.5 2073.4,1194.5 2074.4,1311.3 2075.4,1311.3 2076.3,1176 2077.3,1367.3 2078.3,1240.9 2079.3,1240.9 2080.2,1215.7 2081.2,1311.3 2082.2,1271.7 2083.2,1240.9 2084.2,1215.7 2085.1,1240.9 2086.1,1176 2087.1,1271.7 2088.1,1194.5 2089,1215.7 2090,1271.7 2091,1271.7 2092,1215.7 2093,1367.3 2093.9,1271.7 2094.9,1194.5 2095.9,1215.7 2096.9,1311.3 2097.8,1271.7 2098.8,1271.7 2099.8,1215.7 2100.8,1240.9 2101.8,1176 2102.7,1311.3 2103.7,1215.7 2104.7,1215.7 2105.7,1215.7 2106.6,1367.3 2107.6,1215.7 2108.6,1215.7 2109.6,1462.9 2110.6,1271.7 2111.5,1176 2112.5,1271.7 2113.5,1271.7 2114.5,1271.7 2115.4,1311.3 2116.4,1240.9 2117.4,1367.3 2118.4,1240.9 2119.3,1194.5 2120.3,1215.7 2121.3,1462.9 2122.3,1311.3 2123.3,1194.5 2124.2,1462.9 2125.2,1176 2126.2,1215.7 2127.2,1176 2128.1,1194.5 2129.1,1176 2130.1,1462.9 2131.1,1240.9 2132.1,1194.5 2133,1311.3 2134,1271.7 2135,1240.9 2136,1194.5 2136.9,1159.8 2137.9,1145.2 2138.9,1176 2139.9,1215.7 2140.9,1120.1 2141.8,1215.7 2142.8,1311.3 2143.8,1311.3 2144.8,1311.3 2145.7,1215.7 2146.7,1311.3 2147.7,1194.5 2148.7,1145.2 2149.7,1271.7 2150.6,1215.7 2151.6,1159.8 2152.6,1311.3 2153.6,1176 2154.5,1240.9 2155.5,1176 2156.5,1176 2157.5,1367.3 2158.4,1271.7 2159.4,1271.7 2160.4,1240.9 2161.4,1176 2162.4,1240.9 2163.3,1145.2 2164.3,1215.7 2165.3,1215.7 2166.3,1311.3 2167.2,1159.8 2168.2,1240.9 2169.2,1311.3 2170.2,1271.7 2171.2,1145.2 2172.1,1240.9 2173.1,1271.7 2174.1,1311.3 2175.1,1098.8 2176,1271.7 2177,1215.7 2178,1367.3 2179,1215.7 2180,1240.9 2180.9,1194.5 2181.9,1311.3 2182.9,1367.3 2183.9,1194.5 2184.8,1462.9 2185.8,1367.3 2186.8,1271.7 2187.8,1176 2188.8,1367.3 2189.7,1311.3 2190.7,1176 2191.7,1145.2 2192.7,1159.8 2193.6,1311.3 2194.6,1240.9 2195.6,1215.7 2196.6,1215.7 2197.6,1271.7 2198.5,1240.9 2199.5,1271.7 2200.5,1215.7 2201.5,1176 2202.4,1215.7 2203.4,1194.5 2204.4,1367.3 2205.4,1240.9 2206.3,1271.7 2207.3,1311.3 2208.3,1271.7 2209.3,1271.7 2210.3,1462.9 2211.2,1194.5 2212.2,1194.5 2213.2,1215.7 2214.2,1176 2215.1,1215.7 2216.1,1194.5 2217.1,1240.9 2218.1,1367.3 2219.1,1176 2220,1240.9 2221,1240.9 2222,1367.3 2223,1132.1 2223.9,1311.3 2224.9,1215.7 2225.9,1145.2 2226.9,1271.7 2227.9,1240.9 2228.8,1271.7 2229.8,1271.7 2230.8,1194.5 2231.8,1240.9 2232.7,1176 2233.7,1194.5 2234.7,1240.9 2235.7,1194.5 2236.7,1240.9 2237.6,1311.3 2238.6,1194.5 2239.6,1311.3 2240.6,1271.7 2241.5,1311.3 2242.5,1215.7 2243.5,1271.7 2244.5,1215.7 2245.4,1194.5 2246.4,1240.9 2247.4,1240.9 2248.4,1240.9 2249.4,1132.1 2250.3,1240.9 2251.3,1194.5 2252.3,1240.9 2253.3,1271.7 2254.2,1367.3 2255.2,1240.9 2256.2,1271.7 2257.2,1194.5 2258.2,1311.3 2259.1,1120.1 2260.1,1271.7 2261.1,1367.3 2262.1,1240.9 2263,1159.8 2264,1367.3 2265,1194.5 2266,1462.9 2267,1311.3 2267.9,1240.9 2268.9,1367.3 2269.9,1462.9 2270.9,1311.3 2271.8,1194.5 2272.8,1194.5 2273.8,1176 2274.8,1367.3 2275.8,1311.3 2276.7,1194.5 2277.7,1194.5 2278.7,1271.7 2279.7,1194.5 2280.6,1215.7 2281.6,1215.7 2282.6,1132.1 2283.6,1311.3 2284.6,1194.5 2285.5,1271.7 2286.5,1311.3 2287.5,1271.7 2288.5,1215.7 2289.4,1311.3 2290.4,1132.1 2291.4,1215.7 2292.4,1194.5 2293.3,1240.9 2294.3,1462.9 2295.3,1176 2296.3,1367.3 2297.3,1367.3 2298.2,1176 2299.2,1194.5 2300.2,1240.9 2301.2,1311.3 2302.1,1176 2303.1,1271.7 2304.1,1367.3 2305.1,1271.7 2306.1,1271.7 2307,1132.1 2308,1159.8 2309,1215.7 2310,1215.7 2310.9,1145.2 2311.9,1367.3 2312.9,1311.3 2313.9,1215.7 2314.9,1215.7 2315.8,1367.3 2316.8,1240.9 2317.8,1215.7 2318.8,1271.7 2319.7,1194.5 2320.7,1159.8 2321.7,1311.3 2322.7,1271.7 2323.7,1240.9 2324.6,1271.7 2325.6,1271.7 2326.6,1311.3 2327.6,1240.9 2328.5,1215.7 2329.5,1215.7 2330.5,1367.3 2331.5,1367.3 2332.4,1215.7 2333.4,1145.2 2334.4,1311.3 2335.4,1240.9 2336.4,1271.7 2337.3,1240.9 2338.3,1311.3 2339.3,1271.7 2340.3,1240.9 2341.2,1215.7 2342.2,1271.7 2343.2,1194.5 2344.2,1240.9 2345.2,1145.2 2346.1,1271.7 2347.1,1311.3 2348.1,1215.7 2349.1,1311.3 2350,1240.9 2351,1271.7 2352,1240.9" stroke="#1E7D28"/>
<polyline points="351,1311.3 352,1240.9 353,1311.3 353.9,1367.3 354.9,1215.7 355.9,1215.7 356.9,1215.7 357.8,1367.3 358.8,1271.7 359.8,1240.9 360.8,1240.9 361.8,1311.3 362.7,1367.3 363.7,1311.3 364.7,1462.9 365.7,1367.3 366.6,1240.9 367.6,1215.7 368.6,1176 369.6,1194.5 370.6,1159.8 371.5,1367.3 372.5,1462.9 373.5,1271.7 374.5,1215.7 375.4,1271.7 376.4,1240.9 377.4,1367.3 378.4,1159.8 379.3,1271.7 380.3,1215.7 381.3,1271.7 382.3,1367.3 383.3,1240.9 384.2,1194.5 385.2,1215.7 386.2,1367.3 387.2,1271.7 388.1,1271.7 389.1,1311.3 390.1,1215.7 391.1,1311.3 392.1,1367.3 393,1311.3 394,1271.7 395,1367.3 396,1271.7 396.9,1271.7 397.9,1194.5 398.9,1271.7 399.9,1240.9 400.9,1462.9 401.8,1311.3 402.8,1240.9 403.8,1271.7 404.8,1240.9 405.7,1240.9 406.7,1311.3 407.7,1271.7 408.7,1271.7 409.7,1215.7 410.6,1367.3 411.6,1271.7 412.6,1271.7 413.6,1462.9 414.5,1367.3 415.5,1367.3 416.5,1215.7 417.5,1271.7 418.4,1311.3 419.4,1271.7 420.4,1240.9 421.4,1462.9 422.4,1176 423.3,1271.7 424.3,1271.7 425.3,1215.7 426.3,1176 427.2,1311.3 428.2,1311.3 429.2,1311.3 430.2,1176 431.2,1176 432.1,1176 433.1,1176 434.1,1240.9 435.1,1240.9 436,1215.7 437,1176 438,1367.3 439,1176 440,1145.2 440.9,1145.2 441.9,1271.7 442.9,1120.1 443.9,1215.7 444.8,1080.4 445.8,1098.8 446.8,1132.1 447.8,1109.1 448.8,1072 449.7,1132.1 450.7,1056.7 451.7,1036.5 452.7,1145.2 453.6,1145.2 454.6,976.4 455.6,1030.3 456.6,1013.4 457.6,1030.3 458.5,968.5 459.5,964.8 460.5,1008.2 461.5,989.2 462.4,972.4 463.4,934.7 464.4,964.8 465.4,934.7 466.3,954 467.3,902.7 468.3,893.5 469.3,887 470.3,878.8 471.2,860.1 472.2,884.9 473.2,814.5 474.2,821.1 475.1,819.2 476.1,811.6 477.1,774.1 478.1,758.2 479.1,748.2 480,747.6 481,733.8 482,718.1 483,709.6 483.9,711.8 484.9,679.9 485.9,676.9 486.9,657.6 487.9,642.3 488.8,629.4 489.8,620.9 490.8,597.9 491.8,587.2 492.7,573.6 493.7,561 494.7,544.8 495.7,527.5 496.7,511.7 497.6,498.6 498.6,484.5 499.6,470.8 500.6,461.3 501.5,449.1 502.5,438.1 503.5,427.6 504.5,414.9 505.4,403 506.4,391.8 507.4,380.6 508.4,366.1 509.4,355.3 510.3,344.5 511.3,330.7 512.3,315.1 513.3,304.8 514.2,293.1 515.2,281.7 516.2,273.8 517.2,266 518.2,257.2 519.1,248.3 520.1,241.5 521.1,234.7 522.1,226.9 523,219.2 524,210.4 525,200.4 526,191.4 527,184.7 527.9,177.3 528.9,168.4 529.9,162.2 530.9,154 531.8,147.6 532.8,140.5 533.8,133.9 534.8,126.9 535.8,120 536.7,115.2 537.7,110 538.7,104.7 539.7,100.7 540.6,96.8 541.6,93.5 542.6,90.9 543.6,87.4 544.6,85.1 545.5,83.4 546.5,81.2 547.5,78.7 548.5,77 549.4,76 550.4,73.7 551.4,72.7 552.4,71.8 553.3,69.7 554.3,67.7 555.3,67.1 556.3,64.8 557.3,63.2 558.2,62.1 559.2,60.7 560.2,58.5 561.2,57.6 562.1,55.7 563.1,54.1 564.1,53.7 565.1,52.2 566.1,51.7 567,50.2 568,49.1 569,48.4 570,47.8 570.9,47.8 571.9,46.7 572.9,46.2 573.9,45 574.9,46 575.8,45 576.8,45 577.8,44.5 578.8,44.1 579.7,44 580.7,43.7 581.7,43.5 582.7,43.6 583.7,43.7 584.6,43.9 585.6,43.2 586.6,44.4 587.6,44.5 588.5,45 589.5,45 590.5,45.2 591.5,45.2 592.4,45.2 593.4,46.4 594.4,46.5 595.4,47 596.4,48 597.3,48.2 598.3,48.6 599.3,49.5 600.3,50.7 601.2,51.4 602.2,51.9 603.2,52.8 604.2,53.7 605.2,54 606.1,55 607.1,55.4 608.1,56.6 609.1,58.2 610,59.1 611,60.1 612,60.7 613,62.8 614,63.8 614.9,64.9 615.9,66.4 616.9,67.9 617.9,69.5 618.8,71 619.8,72.7 620.8,74.6 621.8,75.4 622.8,77.9 623.7,79.2 624.7,80.4 625.7,81.5 626.7,83.8 627.6,85.6 628.6,87 629.6,87.9 630.6,90.1 631.6,91.7 632.5,94.3 633.5,95.2 634.5,96.9 635.5,98.2 636.4,100.3 637.4,102.7 638.4,104.1 639.4,106 640.3,108.7 641.3,110.1 642.3,112.7 643.3,115.2 644.3,116.5 645.2,118.5 646.2,121.5 647.2,123.3 648.2,125.5 649.1,127.2 650.1,129.5 651.1,131.5 652.1,133.6 653.1,134.4 654,138.4 655,139.6 656,142.4 657,145.6 657.9,146.6 658.9,149.3 659.9,151.9 660.9,154.7 661.9,156 662.8,158.4 663.8,162 664.8,164.6 665.8,166.2 666.7,168.2 667.7,170.6 668.7,173.9 669.7,176.4 670.7,178.6 671.6,180.5 672.6,181.9 673.6,184.6 674.6,186.6 675.5,189.5 676.5,191.5 677.5,194.3 678.5,195.9 679.4,198.6 680.4,198.6 681.4,202.6 682.4,205.3 683.4,207.9 684.3,210.4 685.3,211.9 686.3,214.3 687.3,215.7 688.2,217.5 689.2,219.5 690.2,222.1 691.2,224.7 692.2,226.5 693.1,227 694.1,230.9 695.1,233.2 696.1,236.1 697,236.8 698,238.3 699,241.6 700,243.7 701,246.4 701.9,249.3 702.9,251.8 703.9,253.2 704.9,254.3 705.8,257.8 706.8,258.3 707.8,262.3 708.8,264.4 709.8,266.3 710.7,268.5 711.7,271.5 712.7,272.4 713.7,274.7 714.6,277 715.6,280 716.6,281.1 717.6,283.5 718.6,285.6 719.5,288.7 720.5,290.6 721.5,291 722.5,293.7 723.4,296.9 724.4,298 725.4,299.3 726.4,300.5 727.3,303.6 728.3,307.3 729.3,309.2 730.3,311.5 731.3,311.9 732.2,315.1 733.2,315.5 734.2,319.6 735.2,322.7 736.1,323.1 737.1,324.5 738.1,327.1 739.1,330.4 740.1,328.9 741,332.7 742,332.7 743,333.7 744,337.2 744.9,338.8 745.9,341.6 746.9,343.7 747.9,343.4 748.9,347.6 749.8,349.9 750.8,349.6 751.8,349.7 752.8,354.8 753.7,355 754.7,358.5 755.7,357.1 756.7,359.2 757.7,361.9 758.6,363.4 759.6,364.4 760.6,367.7 761.6,367.1 762.5,370 763.5,373.9 764.5,372.6 765.5,375 766.4,375.7 767.4,377.3 768.4,377.4 769.4,380.5 770.4,380.2 771.3,381.8 772.3,384.9 773.3,386.1 774.3,387.4 775.2,388.2 776.2,390.6 777.2,394.2 778.2,395.5 779.2,395.5 780.1,395.8 781.1,398.4 782.1,398.9 783.1,399.1 784,403.9 785,404.2 786,403.4 787,409.8 788,411 788.9,410.7 789.9,412.5 790.9,415.3 791.9,416.1 792.8,417.3 793.8,418.8 794.8,422.4 795.8,423.2 796.8,425.1 797.7,428.3 798.7,431.2 799.7,431.9 800.7,435.4 801.6,436.1 802.6,440.1 803.6,440.4 804.6,443.2 805.6,446.6 806.5,449.4 807.5,450.2 808.5,455 809.5,453.9 810.4,457.6 811.4,458.4 812.4,458.4 813.4,462.8 814.3,466.2 815.3,462.6 816.3,468.8 817.3,468.9 818.3,467.1 819.2,473.6 820.2,475.6 821.2,476.6 822.2,478.8 823.1,478.4 824.1,482.7 825.1,480 826.1,485.8 827.1,488.8 828,486.2 829,491.1 830,491.9 831,491.6 831.9,497.2 832.9,497.2 833.9,493.4 834.9,496.3 835.9,500.8 836.8,505.3 837.8,503.5 838.8,505.1 839.8,508.3 840.7,509.4 841.7,507.3 842.7,510.3 843.7,515.2 844.7,517.2 845.6,520.3 846.6,521 847.6,522.6 848.6,521.4 849.5,520 850.5,523.3 851.5,523.8 852.5,522.7 853.4,526.2 854.4,530.7 855.4,531.1 856.4,538.2 857.4,531 858.3,537.5 859.3,532.9 860.3,540.9 861.3,539 862.2,545.6 863.2,539.9 864.2,544.6 865.2,544.5 866.2,544.4 867.1,550.9 868.1,549.8 869.1,551.1 870.1,554.1 871,552 872,555.2 873,557.4 874,555.9 875,558.7 875.9,561.5 876.9,566.2 877.9,561.6 878.9,561.1 879.8,562.7 880.8,569 881.8,569.8 882.8,574.5 883.8,569.7 884.7,573.4 885.7,576.5 886.7,585.2 887.7,582 888.6,580.4 889.6,578.1 890.6,585.4 891.6,586 892.6,590.9 893.5,594 894.5,589 895.5,593.6 896.5,591.3 897.4,597.9 898.4,599.1 899.4,599.7 900.4,601.8 901.3,606.1 902.3,608.1 903.3,609 904.3,605.7 905.3,608.3 906.2,611.6 907.2,617.4 908.2,620 909.2,621.4 910.1,622.5 911.1,623.7 912.1,626.8 913.1,621.8 914.1,628 915,624.8 916,631.5 917,636.4 918,634.1 918.9,645.9 919.9,642.7 920.9,643.6 921.9,648.6 922.9,641.2 923.8,649.5 924.8,647.3 925.8,655.2 926.8,655.7 927.7,649.3 928.7,657.6 929.7,659.3 930.7,657.8 931.7,659.5 932.6,666.2 933.6,673 934.6,667.2 935.6,664.2 936.5,671.7 937.5,672.7 938.5,685.5 939.5,670.9 940.4,681.2 941.4,685.8 942.4,682.3 943.4,681.2 944.4,682.7 945.3,688.9 946.3,690.6 947.3,689.6 948.3,696.5 949.2,701.8 950.2,692.1 951.2,703.9 952.2,701.7 953.2,698.3 954.1,701.8 955.1,706.2 956.1,711.5 957.1,699.4 958,714 959,705.4 960,714.9 961,718.5 962,718.2 962.9,722.8 963.9,731.5 964.9,733.6 965.9,729.8 966.8,726.9 967.8,725.5 968.8,732.4 969.8,742.5 970.8,743.1 971.7,738.1 972.7,758.6 973.7,759.9 974.7,756 975.6,751.6 976.6,748.4 977.6,748.2 978.6,748 979.6,743.5 980.5,770 981.5,752.8 982.5,765.2 983.5,755.4 984.4,770.4 985.4,773 986.4,760.3 987.4,745.9 988.3,768.1 989.3,775.3 990.3,772.4 991.3,792.9 992.3,776.9 993.2,772.4 994.2,758.9 995.2,788.8 996.2,801.4 997.1,779.6 998.1,807.1 999.1,793.5 1000.1,790.9 1001.1,788.2 1002,817.2 1003,800.2 1004,799.3 1005,796.4 1005.9,811.3 1006.9,830.8 1007.9,813.9 1008.9,804.1 1009.9,816.6 1010.8,797.9 1011.8,828 1012.8,803.3 1013.8,817 1014.7,857.5 1015.7,832.5 1016.7,812.4 1017.7,813.7 1018.7,847.4 1019.6,828.9 1020.6,825 1021.6,851 1022.6,818.6 1023.5,852.9 1024.5,821.1 1025.5,833.3 1026.5,829.1 1027.4,833.3 1028.4,845.2 1029.4,830.4 1030.4,830.4 1031.4,850 1032.3,861.9 1033.3,848.4 1034.3,840.6 1035.3,874.8 1036.2,872.9 1037.2,860.1 1038.2,882.8 1039.2,874.8 1040.2,876.8 1041.1,878.8 1042.1,861.9 1043.1,874.8 1044.1,843.7 1045,905.1 1046,891.3 1047,856.7 1048,880.8 1049,874.8 1049.9,900.4 1050.9,907.6 1051.9,893.5 1052.9,865.5 1053.8,889.2 1054.8,889.2 1055.8,865.5 1056.8,902.7 1057.8,876.8 1058.7,905.1 1059.7,889.2 1060.7,905.1 1061.7,947.3 1062.6,872.9 1063.6,900.4 1064.6,887 1065.6,910.1 1066.6,876.8 1067.5,902.7 1068.5,937.8 1069.5,931.8 1070.5,891.3 1071.4,944 1072.4,923.2 1073.4,931.8 1074.4,923.2 1075.3,928.9 1076.3,891.3 1077.3,928.9 1078.3,957.5 1079.3,937.8 1080.2,954 1081.2,931.8 1082.2,940.9 1083.2,926 1084.1,944 1085.1,947.3 1086.1,944 1087.1,931.8 1088.1,944 1089,957.5 1090,950.6 1091,937.8 1092,940.9 1092.9,895.8 1093.9,940.9 1094.9,954 1095.9,984.8 1096.9,968.5 1097.8,976.4 1098.8,972.4 1099.8,937.8 1100.8,984.8 1101.7,957.5 1102.7,917.8 1103.7,940.9 1104.7,976.4 1105.7,989.2 1106.6,1008.2 1107.6,1003.2 1108.6,989.2 1109.6,998.4 1110.5,998.4 1111.5,1003.2 1112.5,957.5 1113.5,1018.8 1114.4,947.3 1115.4,976.4 1116.4,998.4 1117.4,980.5 1118.4,976.4 1119.3,961.1 1120.3,1042.9 1121.3,961.1 1122.3,1008.2 1123.2,961.1 1124.2,980.5 1125.2,1013.4 1126.2,1013.4 1127.2,1003.2 1128.1,961.1 1129.1,954 1130.1,976.4 1131.1,1013.4 1132,984.8 1133,1008.2 1134,976.4 1135,989.2 1136,968.5 1136.9,1049.6 1137.9,984.8 1138.9,984.8 1139.9,993.7 1140.8,968.5 1141.8,968.5 1142.8,980.5 1143.8,1064.2 1144.8,1003.2 1145.7,1049.6 1146.7,1056.7 1147.7,1013.4 1148.7,1003.2 1149.6,993.7 1150.6,1018.8 1151.6,1013.4 1152.6,1042.9 1153.6,1024.5 1154.5,1064.2 1155.5,1018.8 1156.5,976.4 1157.5,1024.5 1158.4,1036.5 1159.4,1042.9 1160.4,1089.3 1161.4,1064.2 1162.3,1132.1 1163.3,1049.6 1164.3,1013.4 1165.3,1036.5 1166.3,1042.9 1167.2,1042.9 1168.2,1109.1 1169.2,1003.2 1170.2,1013.4 1171.1,1042.9 1172.1,1024.5 1173.1,1030.3 1174.1,998.4 1175.1,1056.7 1176,1036.5 1177,1024.5 1178,1018.8 1179,1030.3 1179.9,1049.6 1180.9,998.4 1181.9,1013.4 1182.9,1064.2 1183.9,1064.2 1184.8,993.7 1185.8,1018.8 1186.8,1072 1187.8,1049.6 1188.7,1098.8 1189.7,1080.4 1190.7,1024.5 1191.7,1109.1 1192.7,1042.9 1193.6,1056.7 1194.6,1120.1 1195.6,1109.1 1196.6,1003.2 1197.5,1064.2 1198.5,1089.3 1199.5,1024.5 1200.5,1042.9 1201.4,1145.2 1202.4,1056.7 1203.4,1072 1204.4,1064.2 1205.4,1049.6 1206.3,1089.3 1207.3,1036.5 1208.3,1036.5 1209.3,1056.7 1210.2,1120.1 1211.2,1056.7 1212.2,1036.5 1213.2,1064.2 1214.2,1056.7 1215.1,1098.8 1216.1,1072 1217.1,1036.5 1218.1,1064.2 1219,1056.7 1220,1109.1 1221,1056.7 1222,1080.4 1223,1064.2 1223.9,1042.9 1224.9,1098.8 1225.9,1064.2 1226.9,1089.3 1227.8,1132.1 1228.8,1036.5 1229.8,1072 1230.8,1072 1231.8,1036.5 1232.7,1064.2 1233.7,1089.3 1234.7,1159.8 1235.7,1109.1 1236.6,1089.3 1237.6,1080.4 1238.6,1030.3 1239.6,1049.6 1240.6,1089.3 1241.5,1080.4 1242.5,1080.4 1243.5,1159.8 1244.5,1064.2 1245.4,1120.1 1246.4,1145.2 1247.4,1024.5 1248.4,1098.8 1249.3,1072 1250.3,1132.1 1251.3,1080.4 1252.3,1120.1 1253.3,1145.2 1254.2,1080.4 1255.2,1080.4 1256.2,1098.8 1257.2,1072 1258.1,1089.3 1259.1,1098.8 1260.1,1072 1261.1,1176 1262.1,1120.1 1263,1089.3 1264,1098.8 1265,1120.1 1266,1049.6 1266.9,1072 1267.9,1120.1 1268.9,1159.8 1269.9,1109.1 1270.9,1132.1 1271.8,1098.8 1272.8,1098.8 1273.8,1056.7 1274.8,1098.8 1275.7,1120.1 1276.7,1089.3 1277.7,1194.5 1278.7,1064.2 1279.7,1109.1 1280.6,1064.2 1281.6,1194.5 1282.6,1132.1 1283.6,1049.6 1284.5,1109.1 1285.5,1120.1 1286.5,1271.7 1287.5,1120.1 1288.4,1176 1289.4,1132.1 1290.4,1145.2 1291.4,1120.1 1292.4,1132.1 1293.3,1120.1 1294.3,1080.4 1295.3,1176 1296.3,1176 1297.2,1159.8 1298.2,1064.2 1299.2,1176 1300.2,1120.1 1301.2,1072 1302.1,1109.1 1303.1,1176 1304.1,1109.1 1305.1,1145.2 1306,1159.8 1307,1145.2 1308,1159.8 1309,1132.1 1310,1176 1310.9,1194.5 1311.9,1120.1 1312.9,1159.8 1313.9,1132.1 1314.8,1072 1315.8,1120.1 1316.8,1098.8 1317.8,1132.1 1318.8,1109.1 1319.7,1194.5 1320.7,1120.1 1321.7,1145.2 1322.7,1194.5 1323.6,1132.1 1324.6,1109.1 1325.6,1120.1 1326.6,1145.2 1327.6,1132.1 1328.5,1120.1 1329.5,1240.9 1330.5,1098.8 1331.5,1194.5 1332.4,1145.2 1333.4,1194.5 1334.4,1120.1 1335.4,1109.1 1336.3,1176 1337.3,1240.9 1338.3,1215.7 1339.3,1120.1 1340.3,1132.1 1341.2,1176 1342.2,1194.5 1343.2,1159.8 1344.2,1132.1 1345.1,1109.1 1346.1,1132.1 1347.1,1080.4 1348.1,1072 1349.1,1176 1350,1109.1 1351,1098.8 1352,1120.1 1353,1120.1 1353.9,1215.7 1354.9,1215.7 1355.9,1145.2 1356.9,1176 1357.9,1240.9 1358.8,1109.1 1359.8,1120.1 1360.8,1132.1 1361.8,1109.1 1362.7,1072 1363.7,1098.8 1364.7,1159.8 1365.7,1215.7 1366.7,1215.7 1367.6,1080.4 1368.6,1145.2 1369.6,1159.8 1370.6,1215.7 1371.5,1215.7 1372.5,1215.7 1373.5,1176 1374.5,1098.8 1375.4,1176 1376.4,1159.8 1377.4,1215.7 1378.4,1145.2 1379.4,1240.9 1380.3,1145.2 1381.3,1120.1 1382.3,1215.7 1383.3,1176 1384.2,1132.1 1385.2,1132.1 1386.2,1080.4 1387.2,1089.3 1388.2,1120.1 1389.1,1215.7 1390.1,1215.7 1391.1,1194.5 1392.1,1109.1 1393,1194.5 1394,1194.5 1395,1120.1 1396,1215.7 1397,1159.8 1397.9,1145.2 1398.9,1176 1399.9,1194.5 1400.9,1176 1401.8,1109.1 1402.8,1145.2 1403.8,1215.7 1404.8,1120.1 1405.8,1271.7 1406.7,1215.7 1407.7,1194.5 1408.7,1072 1409.7,1240.9 1410.6,1194.5 1411.6,1240.9 1412.6,1132.1 1413.6,1159.8 1414.6,1159.8 1415.5,1145.2 1416.5,1120.1 1417.5,1159.8 1418.5,1176 1419.4,1145.2 1420.4,1215.7 1421.4,1215.7 1422.4,1120.1 1423.3,1215.7 1424.3,1176 1425.3,1215.7 1426.3,1132.1 1427.3,1215.7 1428.2,1240.9 1429.2,1215.7 1430.2,1215.7 1431.2,1176 1432.1,1194.5 1433.1,1240.9 1434.1,1109.1 1435.1,1159.8 1436.1,1132.1 1437,1240.9 1438,1176 1439,1462.9 1440,1194.5 1440.9,1240.9 1441.9,1145.2 1442.9,1240.9 1443.9,1194.5 1444.9,1271.7 1445.8,1194.5 1446.8,1240.9 1447.8,1215.7 1448.8,1176 1449.7,1176 1450.7,1109.1 1451.7,1132.1 1452.7,1311.3 1453.7,1145.2 1454.6,1194.5 1455.6,1120.1 1456.6,1311.3 1457.6,1176 1458.5,1311.3 1459.5,1145.2 1460.5,1194.5 1461.5,1159.8 1462.4,1311.3 1463.4,1194.5 1464.4,1159.8 1465.4,1159.8 1466.4,1271.7 1467.3,1311.3 1468.3,1194.5 1469.3,1145.2 1470.3,1176 1471.2,1176 1472.2,1194.5 1473.2,1159.8 1474.2,1194.5 1475.2,1271.7 1476.1,1215.7 1477.1,1145.2 1478.1,1159.8 1479.1,1240.9 1480,1145.2 1481,1194.5 1482,1215.7 1483,1159.8 1484,1215.7 1484.9,1271.7 1485.9,1194.5 1486.9,1159.8 1487.9,1240.9 1488.8,1215.7 1489.8,1311.3 1490.8,1240.9 1491.8,1215.7 1492.8,1194.5 1493.7,1145.2 1494.7,1311.3 1495.7,1159.8 1496.7,1271.7 1497.6,1194.5 1498.6,1159.8 1499.6,1159.8 1500.6,1311.3 1501.6,1194.5 1502.5,1271.7 1503.5,1176 1504.5,1240.9 1505.5,1311.3 1506.4,1176 1507.4,1194.5 1508.4,1215.7 1509.4,1132.1 1510.3,1240.9 1511.3,1194.5 1512.3,1311.3 1513.3,1176 1514.3,1194.5 1515.2,1271.7 1516.2,1145.2 1517.2,1145.2 1518.2,1367.3 1519.1,1240.9 1520.1,1194.5 1521.1,1240.9 1522.1,1176 1523.1,1176 1524,1240.9 1525,1145.2 1526,1145.2 1527,1240.9 1527.9,1240.9 1528.9,1271.7 1529.9,1240.9 1530.9,1159.8 1531.9,1145.2 1532.8,1367.3 1533.8,1194.5 1534.8,1194.5 1535.8,1271.7 1536.7,1215.7 1537.7,1240.9 1538.7,1240.9 1539.7,1194.5 1540.7,1311.3 1541.6,1215.7 1542.6,1311.3 1543.6,1145.2 1544.6,1240.9 1545.5,1367.3 1546.5,1120.1 1547.5,1215.7 1548.5,1271.7 1549.4,1367.3 1550.4,1215.7 1551.4,1240.9 1552.4,1215.7 1553.4,1271.7 1554.3,1271.7 1555.3,1194.5 1556.3,1145.2 1557.3,1271.7 1558.2,1240.9 1559.2,1240.9 1560.2,1215.7 1561.2,1271.7 1562.2,1215.7 1563.1,1194.5 1564.1,1194.5 1565.1,1240.9 1566.1,1240.9 1567,1311.3 1568,1367.3 1569,1311.3 1570,1215.7 1571,1271.7 1571.9,1367.3 1572.9,1194.5 1573.9,1194.5 1574.9,1145.2 1575.8,1176 1576.8,1271.7 1577.8,1240.9 1578.8,1240.9 1579.8,1194.5 1580.7,1240.9 1581.7,1194.5 1582.7,1240.9 1583.7,1159.8 1584.6,1240.9 1585.6,1176 1586.6,1311.3 1587.6,1159.8 1588.6,1159.8 1589.5,1367.3 1590.5,1194.5 1591.5,1215.7 1592.5,1176 1593.4,1215.7 1594.4,1271.7 1595.4,1367.3 1596.4,1240.9 1597.3,1240.9 1598.3,1271.7 1599.3,1240.9 1600.3,1194.5 1601.3,1367.3 1602.2,1240.9 1603.2,1271.7 1604.2,1240.9 1605.2,1311.3 1606.1,1271.7 1607.1,1145.2 1608.1,1311.3 1609.1,1194.5 1610.1,1145.2 1611,1240.9 1612,1462.9 1613,1215.7 1614,1194.5 1614.9,1311.3 1615.9,1145.2 1616.9,1462.9 1617.9,1215.7 1618.9,1271.7 1619.8,1271.7 1620.8,1367.3 1621.8,1132.1 1622.8,1271.7 1623.7,1271.7 1624.7,1240.9 1625.7,1240.9 1626.7,1240.9 1627.7,1194.5 1628.6,1240.9 1629.6,1215.7 1630.6,1240.9 1631.6,1194.5 1632.5,1271.7 1633.5,1145.2 1634.5,1194.5 1635.5,1176 1636.4,1311.3 1637.4,1240.9 1638.4,1145.2 1639.4,1240.9 1640.4,1194.5 1641.3,1271.7 1642.3,1271.7 1643.3,1271.7 1644.3,1194.5 1645.2,1240.9 1646.2,1240.9 1647.2,1176 1648.2,1215.7 1649.2,1240.9 1650.1,1311.3 1651.1,1240.9 1652.1,1462.9 1653.1,1176 1654,1271.7 1655,1240.9 1656,1215.7 1657,1215.7 1658,1176 1658.9,1311.3 1659.9,1176 1660.9,1311.3 1661.9,1215.7 1662.8,1215.7 1663.8,1240.9 1664.8,1311.3 1665.8,1194.5 1666.8,1176 1667.7,1176 1668.7,1240.9 1669.7,1215.7 1670.7,1311.3 1671.6,1240.9 1672.6,1271.7 1673.6,1271.7 1674.6,1240.9 1675.6,1215.7 1676.5,1145.2 1677.5,1194.5 1678.5,1145.2 1679.5,1311.3 1680.4,1311.3 1681.4,1271.7 1682.4,1240.9 1683.4,1159.8 1684.3,1271.7 1685.3,1194.5 1686.3,1215.7 1687.3,1215.7 1688.3,1367.3 1689.2,1271.7 1690.2,1145.2 1691.2,1215.7 1692.2,1194.5 1693.1,1194.5 1694.1,1215.7 1695.1,1271.7 1696.1,1145.2 1697.1,1311.3 1698,1215.7 1699,1194.5 1700,1215.7 1701,1194.5 1701.9,1311.3 1702.9,1367.3 1703.9,1462.9 1704.9,1194.5 1705.9,1215.7 1706.8,1271.7 1707.8,1311.3 1708.8,1240.9 1709.8,1215.7 1710.7,1215.7 1711.7,1159.8 1712.7,1159.8 1713.7,1311.3 1714.7,1240.9 1715.6,1176 1716.6,1462.9 1717.6,1311.3 1718.6,1194.5 1719.5,1194.5 1720.5,1194.5 1721.5,1215.7 1722.5,1159.8 1723.4,1271.7 1724.4,1194.5 1725.4,1271.7 1726.4,1194.5 1727.4,1132.1 1728.3,1271.7 1729.3,1159.8 1730.3,1145.2 1731.3,1215.7 1732.2,1145.2 1734.2,1215.7 1735.2,1311.3 1736.2,1311.3 1737.1,1215.7 1738.1,1240.9 1739.1,1176 1740.1,1176 1741,1215.7 1742,1240.9 1743,1367.3 1744,1194.5 1745,1271.7 1745.9,1194.5 1746.9,1311.3 1747.9,1215.7 1748.9,1367.3 1749.8,1367.3 1750.8,1194.5 1751.8,1194.5 1752.8,1194.5 1753.8,1462.9 1754.7,1240.9 1755.7,1215.7 1756.7,1271.7 1757.7,1194.5 1758.6,1159.8 1759.6,1215.7 1760.6,1367.3 1761.6,1215.7 1762.6,1240.9 1763.5,1240.9 1764.5,1145.2 1765.5,1159.8 1766.5,1240.9 1767.4,1145.2 1768.4,1132.1 1769.4,1311.3 1770.4,1215.7 1771.3,1311.3 1772.3,1159.8 1773.3,1367.3 1774.3,1194.5 1775.3,1215.7 1776.2,1240.9 1777.2,1194.5 1778.2,1215.7 1779.2,1194.5 1780.1,1367.3 1781.1,1311.3 1782.1,1367.3 1783.1,1240.9 1784.1,1271.7 1785,1311.3 1786,1194.5 1787,1176 1788,1240.9 1788.9,1240.9 1789.9,1240.9 1790.9,1271.7 1791.9,1311.3 1792.9,1240.9 1793.8,1194.5 1794.8,1240.9 1795.8,1215.7 1796.8,1215.7 1797.7,1159.8 1798.7,1240.9 1799.7,1271.7 1800.7,1311.3 1801.7,1145.2 1802.6,1271.7 1803.6,1194.5 1804.6,1215.7 1805.6,1271.7 1806.5,1194.5 1807.5,1311.3 1808.5,1176 1809.5,1271.7 1810.4,1367.3 1811.4,1145.2 1812.4,1240.9 1813.4,1311.3 1814.4,1215.7 1815.3,1367.3 1816.3,1194.5 1817.3,1311.3 1818.3,1176 1819.2,1311.3 1820.2,1271.7 1821.2,1240.9 1822.2,1215.7 1823.2,1271.7 1824.1,1194.5 1825.1,1159.8 1826.1,1271.7 1827.1,1367.3 1828,1176 1829,1240.9 1830,1215.7 1831,1215.7 1832,1240.9 1832.9,1215.7 1833.9,1194.5 1834.9,1367.3 1835.9,1159.8 1836.8,1176 1837.8,1240.9 1838.8,1367.3 1839.8,1271.7 1840.8,1271.7 1841.7,1194.5 1842.7,1240.9 1843.7,1240.9 1844.7,1271.7 1845.6,1215.7 1846.6,1311.3 1847.6,1240.9 1848.6,1311.3 1849.6,1240.9 1850.5,1311.3 1851.5,1271.7 1852.5,1271.7 1853.5,1215.7 1854.4,1240.9 1855.4,1215.7 1856.4,1176 1857.4,1194.5 1858.3,1215.7 1860.3,1194.5 1861.3,1311.3 1862.3,1145.2 1863.2,1194.5 1864.2,1271.7 1865.2,1194.5 1866.2,1311.3 1867.1,1271.7 1868.1,1367.3 1869.1,1240.9 1870.1,1194.5 1871.1,1240.9 1872,1194.5 1873,1311.3 1874,1215.7 1875,1311.3 1875.9,1240.9 1876.9,1176 1877.9,1240.9 1878.9,1159.8 1879.9,1367.3 1880.8,1194.5 1881.8,1367.3 1882.8,1367.3 1883.8,1367.3 1884.7,1240.9 1885.7,1271.7 1886.7,1240.9 1887.7,1271.7 1888.7,1194.5 1889.6,1240.9 1890.6,1159.8 1892.6,1176 1893.5,1311.3 1894.5,1159.8 1895.5,1271.7 1896.5,1194.5 1897.4,1367.3 1898.4,1176 1899.4,1462.9 1900.4,1240.9 1901.4,1215.7 1902.3,1311.3 1903.3,1194.5 1904.3,1240.9 1905.3,1240.9 1906.2,1311.3 1907.2,1271.7 1908.2,1271.7 1909.2,1311.3 1910.2,1311.3 1911.1,1145.2 1912.1,1176 1913.1,1311.3 1914.1,1271.7 1915,1176 1916,1462.9 1917,1271.7 1918,1240.9 1919,1271.7 1919.9,1159.8 1920.9,1176 1921.9,1271.7 1922.9,1367.3 1923.8,1176 1924.8,1367.3 1925.8,1271.7 1926.8,1194.5 1927.8,1311.3 1928.7,1215.7 1929.7,1120.1 1930.7,1145.2 1931.7,1215.7 1932.6,1215.7 1933.6,1240.9 1934.6,1271.7 1935.6,1215.7 1936.6,1215.7 1937.5,1311.3 1938.5,1311.3 1939.5,1271.7 1940.5,1194.5 1941.4,1271.7 1942.4,1240.9 1943.4,1215.7 1944.4,1462.9 1945.3,1240.9 1946.3,1215.7 1947.3,1271.7 1948.3,1240.9 1949.3,1240.9 1950.2,1240.9 1951.2,1271.7 1952.2,1311.3 1953.2,1271.7 1954.1,1271.7 1955.1,1215.7 1956.1,1311.3 1957.1,1271.7 1958.1,1194.5 1959,1311.3 1960,1194.5 1961,1215.7 1962,1240.9 1962.9,1311.3 1963.9,1194.5 1964.9,1271.7 1965.9,1271.7 1966.9,1240.9 1967.8,1271.7 1968.8,1240.9 1969.8,1194.5 1970.8,1462.9 1971.7,1215.7 1972.7,1240.9 1973.7,1194.5 1974.7,1215.7 1975.7,1271.7 1976.6,1271.7 1977.6,1271.7 1978.6,1271.7 1979.6,1311.3 1980.5,1120.1 1981.5,1271.7 1982.5,1215.7 1983.5,1240.9 1984.4,1215.7 1985.4,1271.7 1986.4,1215.7 1987.4,1367.3 1988.4,1367.3 1989.3,1311.3 1990.3,1215.7 1991.3,1240.9 1992.3,1145.2 1993.2,1215.7 1994.2,1240.9 1995.2,1120.1 1996.2,1240.9 1997.2,1215.7 1998.1,1271.7 1999.1,1194.5 2000.1,1271.7 2001.1,1271.7 2002,1215.7 2003,1240.9 2004,1215.7 2005,1240.9 2006,1240.9 2006.9,1215.7 2007.9,1176 2008.9,1215.7 2009.9,1271.7 2010.8,1311.3 2011.8,1311.3 2012.8,1271.7 2013.8,1194.5 2014.8,1271.7 2015.7,1215.7 2016.7,1176 2017.7,1367.3 2018.7,1215.7 2019.6,1240.9 2020.6,1215.7 2021.6,1176 2022.6,1271.7 2023.6,1311.3 2024.5,1367.3 2025.5,1215.7 2026.5,1240.9 2027.5,1215.7 2028.4,1271.7 2029.4,1462.9 2030.4,1271.7 2031.4,1194.5 2032.3,1176 2033.3,1194.5 2034.3,1311.3 2035.3,1240.9 2036.3,1271.7 2037.2,1240.9 2038.2,1194.5 2039.2,1311.3 2040.2,1311.3 2041.1,1194.5 2042.1,1271.7 2043.1,1215.7 2044.1,1311.3 2045.1,1271.7 2046,1176 2047,1240.9 2048,1240.9 2049,1367.3 2049.9,1462.9 2050.9,1271.7 2051.9,1194.5 2052.9,1176 2053.9,1240.9 2055.8,1145.2 2056.8,1367.3 2057.8,1367.3 2059.7,1367.3 2060.7,1311.3 2061.7,1462.9 2062.7,1271.7 2063.6,1462.9 2064.6,1271.7 2065.6,1462.9 2066.6,1311.3 2067.5,1215.7 2068.5,1240.9 2069.5,1194.5 2070.5,1240.9 2071.4,1194.5 2072.4,1240.9 2073.4,1159.8 2074.4,1215.7 2075.4,1194.5 2076.3,1271.7 2077.3,1271.7 2078.3,1215.7 2079.3,1215.7 2080.2,1311.3 2081.2,1367.3 2082.2,1194.5 2083.2,1367.3 2084.2,1215.7 2085.1,1194.5 2086.1,1215.7 2087.1,1240.9 2088.1,1367.3 2089,1240.9 2090,1215.7 2091,1367.3 2092,1311.3 2093,1271.7 2093.9,1215.7 2094.9,1215.7 2095.9,1462.9 2096.9,1271.7 2097.8,1215.7 2098.8,1194.5 2099.8,1271.7 2100.8,1215.7 2101.8,1215.7 2102.7,1194.5 2103.7,1271.7 2104.7,1240.9 2105.7,1271.7 2106.6,1215.7 2107.6,1215.7 2108.6,1215.7 2109.6,1240.9 2110.6,1311.3 2111.5,1271.7 2112.5,1176 2113.5,1194.5 2114.5,1215.7 2115.4,1311.3 2116.4,1271.7 2117.4,1215.7 2118.4,1194.5 2119.3,1194.5 2120.3,1159.8 2121.3,1271.7 2122.3,1194.5 2123.3,1194.5 2124.2,1240.9 2125.2,1194.5 2126.2,1462.9 2127.2,1194.5 2128.1,1145.2 2129.1,1240.9 2130.1,1240.9 2131.1,1215.7 2132.1,1271.7 2133,1240.9 2134,1240.9 2135,1271.7 2136,1271.7 2136.9,1215.7 2137.9,1194.5 2138.9,1311.3 2139.9,1271.7 2140.9,1311.3 2141.8,1194.5 2142.8,1271.7 2143.8,1145.2 2144.8,1311.3 2145.7,1311.3 2146.7,1311.3 2147.7,1215.7 2148.7,1311.3 2149.7,1215.7 2150.6,1194.5 2151.6,1194.5 2152.6,1240.9 2153.6,1462.9 2154.5,1311.3 2155.5,1240.9 2156.5,1215.7 2157.5,1271.7 2158.4,1215.7 2159.4,1240.9 2160.4,1215.7 2161.4,1194.5 2162.4,1159.8 2163.3,1367.3 2164.3,1194.5 2165.3,1240.9 2166.3,1194.5 2167.2,1367.3 2168.2,1240.9 2169.2,1240.9 2170.2,1367.3 2171.2,1215.7 2172.1,1176 2173.1,1271.7 2174.1,1215.7 2175.1,1271.7 2176,1240.9 2177,1240.9 2178,1367.3 2179,1271.7 2180,1367.3 2180.9,1311.3 2181.9,1176 2182.9,1367.3 2183.9,1215.7 2184.8,1462.9 2185.8,1215.7 2186.8,1215.7 2187.8,1120.1 2188.8,1311.3 2189.7,1367.3 2190.7,1215.7 2191.7,1240.9 2192.7,1311.3 2193.6,1367.3 2194.6,1311.3 2195.6,1215.7 2196.6,1462.9 2197.6,1194.5 2198.5,1271.7 2199.5,1194.5 2200.5,1215.7 2201.5,1367.3 2202.4,1215.7 2203.4,1215.7 2204.4,1271.7 2205.4,1215.7 2206.3,1271.7 2207.3,1271.7 2208.3,1311.3 2209.3,1194.5 2210.3,1194.5 2211.2,1194.5 2212.2,1240.9 2213.2,1271.7 2214.2,1311.3 2215.1,1145.2 2216.1,1240.9 2217.1,1271.7 2218.1,1240.9 2219.1,1271.7 2220,1215.7 2221,1145.2 2222,1215.7 2223,1240.9 2223.9,1367.3 2224.9,1240.9 2225.9,1215.7 2226.9,1311.3 2227.9,1311.3 2228.8,1215.7 2229.8,1271.7 2230.8,1215.7 2231.8,1240.9 2232.7,1240.9 2233.7,1145.2 2234.7,1194.5 2235.7,1159.8 2236.7,1194.5 2237.6,1194.5 2238.6,1176 2239.6,1271.7 2240.6,1240.9 2241.5,1145.2 2242.5,1311.3 2243.5,1240.9 2244.5,1176 2245.4,1311.3 2246.4,1215.7 2247.4,1311.3 2248.4,1311.3 2249.4,1215.7 2250.3,1194.5 2251.3,1311.3 2252.3,1240.9 2253.3,1271.7 2254.2,1240.9 2255.2,1311.3 2256.2,1271.7 2257.2,1176 2258.2,1215.7 2259.1,1271.7 2260.1,1240.9 2261.1,1311.3 2262.1,1194.5 2263,1159.8 2264,1176 2265,1145.2 2266,1215.7 2267,1215.7 2267.9,1240.9 2268.9,1240.9 2269.9,1271.7 2270.9,1367.3 2271.8,1271.7 2272.8,1271.7 2273.8,1145.2 2274.8,1271.7 2275.8,1215.7 2276.7,1194.5 2278.7,1367.3 2279.7,1194.5 2280.6,1176 2281.6,1311.3 2282.6,1367.3 2283.6,1367.3 2284.6,1240.9 2285.5,1176 2286.5,1367.3 2287.5,1271.7 2288.5,1271.7 2289.4,1240.9 2290.4,1240.9 2291.4,1367.3 2292.4,1271.7 2293.3,1194.5 2294.3,1240.9 2295.3,1462.9 2296.3,1311.3 2297.3,1367.3 2298.2,1240.9 2299.2,1240.9 2300.2,1215.7 2301.2,1311.3 2302.1,1240.9 2303.1,1271.7 2304.1,1240.9 2305.1,1176 2306.1,1240.9 2307,1194.5 2308,1215.7 2309,1311.3 2310,1367.3 2310.9,1159.8 2311.9,1462.9 2312.9,1194.5 2313.9,1271.7 2314.9,1145.2 2315.8,1311.3 2316.8,1311.3 2317.8,1240.9 2318.8,1240.9 2319.7,1367.3 2320.7,1311.3 2321.7,1159.8 2322.7,1176 2323.7,1176 2324.6,1240.9 2325.6,1215.7 2326.6,1240.9 2327.6,1194.5 2328.5,1215.7 2329.5,1215.7 2330.5,1311.3 2331.5,1240.9 2332.4,1240.9 2333.4,1240.9 2334.4,1159.8 2335.4,1367.3 2336.4,1271.7 2337.3,1159.8 2338.3,1194.5 2339.3,1176 2340.3,1194.5 2341.2,1194.5 2342.2,1240.9 2343.2,1176 2344.2,1240.9 2345.2,1271.7 2346.1,1194.5 2347.1,1367.3 2348.1,1159.8 2349.1,1159.8 2350,1194.5 2351,1240.9 2352,1240.9" stroke="#E8101E"/>
<polyline points="351,1311.3 352,1367.3 353,1311.3 353.9,1311.3 354.9,1311.3 355.9,1311.3 356.9,1132.1 357.8,1240.9 358.8,1271.7 359.8,1271.7 360.8,1311.3 361.8,1240.9 362.7,1271.7 363.7,1215.7 364.7,1215.7 365.7,1311.3 366.6,1367.3 367.6,1215.7 368.6,1367.3 369.6,1311.3 370.6,1311.3 371.5,1367.3 372.5,1271.7 373.5,1271.7 374.5,1240.9 375.4,1271.7 376.4,1271.7 377.4,1240.9 378.4,1194.5 379.3,1132.1 380.3,1215.7 381.3,1240.9 382.3,1215.7 383.3,1367.3 384.2,1367.3 385.2,1271.7 386.2,1311.3 387.2,1367.3 388.1,1462.9 389.1,1271.7 390.1,1311.3 391.1,1240.9 392.1,1215.7 393,1194.5 394,1311.3 395,1311.3 396,1367.3 396.9,1240.9 397.9,1367.3 398.9,1271.7 399.9,1240.9 400.9,1311.3 401.8,1215.7 402.8,1240.9 403.8,1311.3 404.8,1159.8 405.7,1215.7 406.7,1311.3 407.7,1367.3 408.7,1176 409.7,1215.7 410.6,1367.3 411.6,1240.9 412.6,1194.5 413.6,1215.7 414.5,1215.7 415.5,1271.7 416.5,1240.9 417.5,1215.7 418.4,1271.7 419.4,1271.7 420.4,1215.7 421.4,1462.9 422.4,1271.7 423.3,1462.9 424.3,1215.7 425.3,1240.9 426.3,1311.3 427.2,1271.7 428.2,1215.7 429.2,1145.2 430.2,1215.7 431.2,1159.8 432.1,1159.8 433.1,1215.7 434.1,1176 435.1,1215.7 436,1240.9 437,1176 438,1194.5 439,1194.5 440,1145.2 440.9,1109.1 441.9,1080.4 442.9,1072 443.9,1056.7 444.8,1145.2 445.8,1072 446.8,1271.7 447.8,1120.1 448.8,1072 449.7,1089.3 450.7,1013.4 451.7,1080.4 452.7,1003.2 453.6,1098.8 454.6,1013.4 455.6,993.7 456.6,1072 457.6,1089.3 458.5,993.7 459.5,1049.6 460.5,947.3 461.5,1018.8 462.4,964.8 463.4,964.8 464.4,947.3 465.4,944 466.3,934.7 467.3,902.7 468.3,895.8 469.3,898.1 470.3,884.9 471.2,871 472.2,830.4 473.2,867.3 474.2,818.6 475.1,827.9 476.1,806.2 477.1,796.7 478.1,781.2 479.1,753.1 480,735.8 481,739 482,723 483,708.4 483.9,687.2 484.9,677 485.9,670.5 486.9,662.7 487.9,650.7 488.8,628.6 489.8,617.1 490.8,603.9 491.8,585.3 492.7,572.1 493.7,560.8 494.7,545.8 495.7,525.9 496.7,512 497.6,496.3 498.6,481.7 499.6,473 500.6,461.5 501.5,449.8 502.5,437.3 503.5,425.4 504.5,416.1 505.4,405.3 506.4,389.3 507.4,380.7 508.4,368.2 509.4,355.7 510.3,343.9 511.3,329.7 512.3,316.6 513.3,304.8 514.2,292.8 515.2,283.8 516.2,272.2 517.2,264.5 518.2,257.5 519.1,248.7 520.1,241.6 521.1,234.1 522.1,227.8 523,216.7 524,210.3 525,200.8 526,191.5 527,184.6 527.9,177 528.9,169 529.9,162 530.9,155 531.8,147 532.8,141.2 533.8,133.8 534.8,127.2 535.8,121.3 536.7,115.6 537.7,109.9 538.7,104.3 539.7,100.5 540.6,96.5 541.6,94 542.6,90.6 543.6,87.6 544.6,85.3 545.5,83.2 546.5,80.5 547.5,79.6 548.5,77 549.4,75.8 550.4,74.6 551.4,73.4 552.4,71.5 553.3,69.9 554.3,67.7 555.3,66.8 556.3,64.8 557.3,62.8 558.2,61.7 559.2,60.1 560.2,58.4 561.2,56.8 562.1,55.2 563.1,53.9 564.1,53.7 565.1,52.3 566.1,50.7 567,50.1 568,49 569,49.3 570,47.5 570.9,47.2 571.9,45.8 572.9,45.8 573.9,45.8 574.9,45.8 575.8,44.6 576.8,45.2 577.8,44.3 578.8,43.9 579.7,43.7 580.7,44.1 581.7,43.7 582.7,43.5 583.7,43.8 584.6,42.9 585.6,43.4 586.6,44.3 587.6,43.5 588.5,44.3 589.5,45.1 590.5,45.4 591.5,45 592.4,44.9 593.4,46 594.4,46.9 595.4,46.9 596.4,48 597.3,48.3 598.3,49.2 599.3,50.6 600.3,50.4 601.2,51.7 602.2,51.3 603.2,52.1 604.2,53.9 605.2,54.3 606.1,54 607.1,56.3 608.1,57.3 609.1,57 610,58.6 611,60.5 612,60.9 613,62.1 614,63.4 614.9,65.4 615.9,66.3 616.9,68.5 617.9,69.7 618.8,71.1 619.8,73.1 620.8,74.5 621.8,76 622.8,77.2 623.7,79 624.7,80.1 625.7,81.8 626.7,83.8 627.6,85.6 628.6,87.9 629.6,88.8 630.6,90.9 631.6,92 632.5,93.8 633.5,95.4 634.5,98.1 635.5,98.6 636.4,100.8 637.4,102.1 638.4,104.5 639.4,107.5 640.3,108.7 641.3,110.7 642.3,112.6 643.3,114.6 644.3,117.4 645.2,119.8 646.2,120.3 647.2,122.9 648.2,125.2 649.1,127.2 650.1,128.7 651.1,131 652.1,133.7 653.1,136.1 654,138.7 655,139.4 656,142.1 657,145 657.9,147.5 658.9,149.1 659.9,152.5 660.9,154.1 661.9,157 662.8,159.6 663.8,160.7 664.8,163.2 665.8,166.9 666.7,168.4 667.7,171.1 668.7,173 669.7,176.4 670.7,178.5 671.6,179.4 672.6,182.6 673.6,185.6 674.6,186.8 675.5,189.8 676.5,192.4 677.5,193.4 678.5,197.2 679.4,197.4 680.4,200.7 681.4,201.7 682.4,205.7 683.4,207 684.3,209.3 685.3,211.5 686.3,214.3 687.3,215.7 688.2,217.7 689.2,219.7 690.2,222.5 691.2,222.5 692.2,226.3 693.1,228.5 694.1,231.4 695.1,233.9 696.1,234.6 697,236.5 698,240 699,240.2 700,243.5 701,244.9 701.9,247.6 702.9,249.8 703.9,251 704.9,254.9 705.8,256.6 706.8,259.2 707.8,260.9 708.8,264 709.8,266.4 710.7,268.2 711.7,272.1 712.7,270.4 713.7,274 714.6,276.2 715.6,280.7 716.6,281.9 717.6,282.6 718.6,285.1 719.5,287.7 720.5,289.9 721.5,293.1 722.5,294.9 723.4,296.2 724.4,299.7 725.4,299.4 726.4,302.6 727.3,304.9 728.3,306.7 729.3,308.6 730.3,309 731.3,313.1 732.2,318.2 733.2,317.5 734.2,317.5 735.2,321.9 736.1,322.5 737.1,323.3 738.1,325.1 739.1,328.6 740.1,330.7 741,331.1 742,335.1 743,336 744,336.8 744.9,338.5 745.9,339.7 746.9,341.1 747.9,345 748.9,342.5 749.8,347 750.8,349.7 751.8,351.1 752.8,354.6 753.7,354.2 754.7,357.7 755.7,356.7 756.7,360.9 757.7,360.5 758.6,364 759.6,365 760.6,367.5 761.6,368.1 762.5,368 763.5,369.3 764.5,371.8 765.5,373.2 766.4,377 767.4,378.3 768.4,379.5 769.4,379.9 770.4,379.5 771.3,383.2 772.3,385 773.3,386.4 774.3,388.4 775.2,389.5 776.2,391.1 777.2,390.6 778.2,394.5 779.2,396.3 780.1,393.7 781.1,397.2 782.1,400.6 783.1,402.2 784,401.7 785,403.7 786,404.2 787,410 788,407.1 788.9,410.7 789.9,412.4 790.9,414.9 791.9,416.9 792.8,416.1 793.8,422 794.8,421 795.8,426.5 796.8,425.1 797.7,426.4 798.7,429.4 799.7,432.7 800.7,435.9 801.6,436.5 802.6,440.4 803.6,441.4 804.6,443.9 805.6,445 806.5,445.3 807.5,448.3 808.5,451.6 809.5,456.6 810.4,454 811.4,453.5 812.4,456.1 813.4,459.8 814.3,460.1 815.3,463.7 816.3,466.8 817.3,467.6 818.3,470.7 819.2,472.6 820.2,471.6 821.2,475.7 822.2,472.8 823.1,477.9 824.1,481.1 825.1,480.8 826.1,483.3 827.1,485.5 828,484.8 829,487.9 830,492.9 831,490.1 831.9,494.4 832.9,497.3 833.9,498.9 834.9,499.4 835.9,499 836.8,502.2 837.8,500.1 838.8,504.1 839.8,507.2 840.7,506.2 841.7,510.1 842.7,512.9 843.7,511.7 844.7,514.4 845.6,518.3 846.6,519.6 847.6,520.3 848.6,521.7 849.5,520.9 850.5,521.6 851.5,523.8 852.5,525.6 853.4,527.1 854.4,527.7 855.4,529.4 856.4,536 857.4,534 858.3,535.5 859.3,534.3 860.3,533.8 861.3,536.3 862.2,538.9 863.2,544.1 864.2,540.2 865.2,542.9 866.2,543.9 867.1,548.2 868.1,548.5 869.1,547 870.1,549.3 871,550.8 872,552 873,556 874,552.6 875,557.4 875.9,556.9 876.9,565.4 877.9,556.8 878.9,564.3 879.8,560.5 880.8,563.3 881.8,568.6 882.8,570.1 883.8,568.6 884.7,578.3 885.7,570.5 886.7,580.3 887.7,579.4 888.6,575 889.6,582.8 890.6,580.8 891.6,585.3 892.6,589.5 893.5,591.2 894.5,593.9 895.5,592 896.5,595.3 897.4,597 898.4,596.6 899.4,600.7 900.4,596.5 901.3,607.2 902.3,605.2 903.3,608 904.3,606.1 905.3,610.5 906.2,615.1 907.2,615.1 908.2,610.1 909.2,614 910.1,623.3 911.1,618.2 912.1,622.5 913.1,622.5 914.1,631 915,632.8 916,627 917,637.6 918,640.2 918.9,639.4 919.9,638.2 920.9,636.5 921.9,643.3 922.9,642.9 923.8,649.6 924.8,651 925.8,645.4 926.8,647 927.7,656.8 928.7,659.9 929.7,659.2 930.7,659.6 931.7,654.3 932.6,659.5 933.6,661.4 934.6,670 935.6,667.5 936.5,667.2 937.5,679.8 938.5,676.7 939.5,677.5 940.4,679.3 941.4,675.6 942.4,672.9 943.4,688 944.4,685.7 945.3,683.9 946.3,687.3 947.3,690.5 948.3,685.5 949.2,690.5 950.2,694.5 951.2,701 952.2,692 953.2,698.4 954.1,696.2 955.1,703.6 956.1,699.4 957.1,710.7 958,699.8 959,713.6 960,714.7 961,715.3 962,715.9 962.9,716 963.9,720.1 964.9,738 965.9,727.7 966.8,725.9 967.8,729.3 968.8,726.9 969.8,732.4 970.8,723 971.7,728.3 972.7,735.4 973.7,739.7 974.7,751.7 975.6,741.1 976.6,732.7 977.6,758.3 978.6,764.2 979.6,769.6 980.5,753.9 981.5,754.9 982.5,759.3 983.5,768 984.4,759.3 985.4,765.2 986.4,767.8 987.4,773.4 988.3,767.7 989.3,768.8 990.3,760.3 991.3,802.6 992.3,762.1 993.2,769 994.2,800.2 995.2,775.7 996.2,782.6 997.1,817 998.1,792 999.1,791.3 1000.1,785.2 1001.1,787.1 1002,795.8 1003,808.2 1004,807.4 1005,815.3 1005.9,784.9 1006.9,790.6 1007.9,812.6 1008.9,799.7 1009.9,799.8 1010.8,821.3 1011.8,800 1012.8,802.1 1013.8,832 1014.7,808.8 1015.7,823.2 1016.7,799 1017.7,827.3 1018.7,823.5 1019.6,856.7 1020.6,828.9 1021.6,833 1022.6,838.8 1023.5,808.9 1024.5,823.7 1025.5,813.6 1026.5,878.1 1027.4,831.9 1028.4,837.6 1029.4,853.3 1030.4,837.6 1031.4,823.5 1032.3,855 1033.3,829 1034.3,834.7 1035.3,865.5 1036.2,882.8 1037.2,829 1038.2,871 1039.2,871 1040.2,853.3 1041.1,846.8 1042.1,882.8 1043.1,882.8 1044.1,858.4 1045,872.9 1046,878.8 1047,869.1 1048,863.7 1049,871 1049.9,867.3 1050.9,915.2 1051.9,887 1052.9,874.8 1053.8,874.8 1054.8,902.7 1055.8,902.7 1056.8,905.1 1057.8,893.5 1058.7,926 1059.7,891.3 1060.7,876.8 1061.7,889.2 1062.6,871 1063.6,898.1 1064.6,915.2 1065.6,923.2 1066.6,874.8 1067.5,884.9 1068.5,950.6 1069.5,891.3 1070.5,907.6 1071.4,902.7 1072.4,923.2 1073.4,947.3 1074.4,912.6 1075.3,907.6 1076.3,926 1077.3,928.9 1078.3,947.3 1079.3,898.1 1080.2,954 1081.2,950.6 1082.2,926 1083.2,964.8 1084.1,937.8 1085.1,950.6 1086.1,937.8 1087.1,964.8 1088.1,931.8 1089,964.8 1090,905.1 1091,944 1092,957.5 1092.9,954 1093.9,934.7 1094.9,923.2 1095.9,950.6 1096.9,980.5 1097.8,964.8 1098.8,989.2 1099.8,961.1 1100.8,947.3 1101.7,957.5 1102.7,980.5 1103.7,928.9 1104.7,950.6 1105.7,1008.2 1106.6,961.1 1107.6,984.8 1108.6,1013.4 1109.6,968.5 1110.5,989.2 1111.5,964.8 1112.5,984.8 1113.5,944 1114.4,954 1115.4,998.4 1116.4,984.8 1117.4,968.5 1118.4,961.1 1119.3,1018.8 1120.3,968.5 1121.3,954 1122.3,976.4 1123.2,993.7 1124.2,1089.3 1125.2,944 1126.2,1018.8 1127.2,989.2 1128.1,1018.8 1129.1,993.7 1130.1,984.8 1131.1,1013.4 1132,980.5 1133,1036.5 1134,972.4 1135,980.5 1136,993.7 1136.9,976.4 1137.9,954 1138.9,989.2 1139.9,1042.9 1140.8,968.5 1141.8,993.7 1142.8,1036.5 1143.8,1018.8 1144.8,1008.2 1145.7,1024.5 1146.7,1013.4 1147.7,1008.2 1148.7,1030.3 1149.6,993.7 1150.6,984.8 1151.6,1024.5 1152.6,1003.2 1153.6,1003.2 1154.5,1030.3 1155.5,1024.5 1156.5,1018.8 1157.5,972.4 1158.4,1036.5 1159.4,1056.7 1160.4,1064.2 1161.4,1003.2 1162.3,1036.5 1163.3,1013.4 1164.3,1042.9 1165.3,1013.4 1166.3,993.7 1167.2,1042.9 1168.2,1030.3 1169.2,1080.4 1170.2,1049.6 1171.1,1030.3 1172.1,1056.7 1173.1,998.4 1174.1,1132.1 1175.1,1036.5 1176,1089.3 1177,1080.4 1178,1064.2 1179,1049.6 1179.9,1042.9 1180.9,1056.7 1181.9,1098.8 1182.9,1008.2 1183.9,1030.3 1184.8,1089.3 1185.8,1098.8 1186.8,1056.7 1187.8,1109.1 1188.7,1036.5 1189.7,1089.3 1190.7,1049.6 1191.7,1072 1192.7,1056.7 1193.6,998.4 1194.6,1056.7 1195.6,1030.3 1196.6,1080.4 1197.5,1024.5 1198.5,1008.2 1199.5,1056.7 1200.5,1098.8 1201.4,1089.3 1202.4,1024.5 1203.4,1042.9 1204.4,1049.6 1205.4,1049.6 1206.3,1089.3 1207.3,1064.2 1208.3,1056.7 1209.3,1064.2 1210.2,1072 1211.2,1064.2 1212.2,1036.5 1213.2,1132.1 1214.2,1072 1215.1,1159.8 1216.1,1064.2 1217.1,1159.8 1218.1,1064.2 1219,1098.8 1220,1024.5 1221,1072 1222,1120.1 1223,1024.5 1223.9,1080.4 1224.9,1159.8 1225.9,1072 1226.9,1042.9 1227.8,1049.6 1228.8,1064.2 1229.8,1080.4 1230.8,1098.8 1231.8,1072 1232.7,1159.8 1233.7,1132.1 1234.7,1080.4 1235.7,1072 1236.6,1120.1 1237.6,1120.1 1238.6,1145.2 1239.6,1064.2 1240.6,1089.3 1241.5,1064.2 1242.5,1064.2 1243.5,1109.1 1244.5,1089.3 1245.4,1120.1 1246.4,1056.7 1247.4,1008.2 1248.4,1080.4 1249.3,1072 1250.3,1098.8 1251.3,1120.1 1252.3,1064.2 1253.3,1072 1254.2,1008.2 1255.2,1159.8 1256.2,1132.1 1257.2,1072 1258.1,1098.8 1259.1,1132.1 1260.1,1120.1 1261.1,1176 1262.1,1159.8 1263,1042.9 1264,1120.1 1265,1064.2 1266,1072 1266.9,1145.2 1267.9,1109.1 1268.9,1145.2 1269.9,1089.3 1270.9,1042.9 1271.8,1098.8 1272.8,1120.1 1273.8,1109.1 1274.8,1109.1 1275.7,1132.1 1276.7,1109.1 1277.7,1098.8 1278.7,1159.8 1279.7,1089.3 1280.6,1056.7 1281.6,1098.8 1282.6,1098.8 1283.6,1145.2 1284.5,1089.3 1285.5,1072 1286.5,1176 1287.5,1120.1 1288.4,1132.1 1289.4,1109.1 1290.4,1120.1 1291.4,1145.2 1292.4,1109.1 1293.3,1109.1 1294.3,1098.8 1295.3,1145.2 1296.3,1159.8 1297.2,1194.5 1298.2,1176 1299.2,1030.3 1300.2,1109.1 1301.2,1176 1302.1,1109.1 1303.1,1120.1 1304.1,1176 1305.1,1109.1 1306,1109.1 1307,1240.9 1308,1120.1 1309,1145.2 1310,1056.7 1310.9,1109.1 1311.9,1132.1 1312.9,1109.1 1313.9,1132.1 1314.8,1240.9 1315.8,1145.2 1316.8,1271.7 1317.8,1064.2 1318.8,1132.1 1319.7,1176 1320.7,1159.8 1321.7,1215.7 1322.7,1311.3 1323.6,1145.2 1324.6,1145.2 1325.6,1176 1326.6,1271.7 1327.6,1080.4 1328.5,1145.2 1329.5,1159.8 1330.5,1132.1 1331.5,1120.1 1332.4,1145.2 1333.4,1145.2 1334.4,1089.3 1335.4,1098.8 1336.3,1145.2 1337.3,1159.8 1338.3,1072 1339.3,1109.1 1340.3,1120.1 1341.2,1176 1342.2,1132.1 1343.2,1176 1344.2,1109.1 1345.1,1145.2 1346.1,1215.7 1347.1,1132.1 1348.1,1089.3 1349.1,1120.1 1350,1145.2 1351,1098.8 1352,1089.3 1353,1089.3 1353.9,1120.1 1354.9,1132.1 1355.9,1194.5 1356.9,1080.4 1357.9,1132.1 1358.8,1089.3 1359.8,1176 1360.8,1132.1 1361.8,1098.8 1362.7,1132.1 1363.7,1145.2 1364.7,1215.7 1365.7,1145.2 1366.7,1194.5 1367.6,1240.9 1368.6,1159.8 1369.6,1194.5 1370.6,1120.1 1371.5,1311.3 1372.5,1215.7 1373.5,1240.9 1374.5,1159.8 1375.4,1159.8 1376.4,1145.2 1377.4,1215.7 1378.4,1194.5 1379.4,1194.5 1380.3,1120.1 1381.3,1120.1 1382.3,1159.8 1383.3,1271.7 1384.2,1311.3 1385.2,1159.8 1386.2,1132.1 1387.2,1120.1 1388.2,1176 1389.1,1120.1 1390.1,1132.1 1391.1,1240.9 1392.1,1176 1393,1271.7 1394,1215.7 1395,1120.1 1396,1176 1397,1215.7 1397.9,1120.1 1398.9,1120.1 1399.9,1072 1400.9,1120.1 1401.8,1215.7 1402.8,1109.1 1403.8,1215.7 1404.8,1271.7 1405.8,1120.1 1406.7,1132.1 1407.7,1109.1 1408.7,1215.7 1409.7,1176 1410.6,1145.2 1411.6,1462.9 1412.6,1120.1 1413.6,1215.7 1414.6,1109.1 1415.5,1367.3 1416.5,1176 1417.5,1215.7 1418.5,1132.1 1419.4,1194.5 1420.4,1194.5 1421.4,1120.1 1422.4,1176 1423.3,1120.1 1424.3,1176 1425.3,1240.9 1426.3,1271.7 1427.3,1145.2 1428.2,1215.7 1429.2,1159.8 1430.2,1159.8 1431.2,1176 1432.1,1176 1433.1,1132.1 1434.1,1240.9 1435.1,1145.2 1436.1,1271.7 1437,1194.5 1438,1159.8 1439,1194.5 1440,1215.7 1440.9,1271.7 1441.9,1132.1 1442.9,1109.1 1443.9,1271.7 1444.9,1240.9 1445.8,1215.7 1446.8,1194.5 1447.8,1215.7 1448.8,1194.5 1449.7,1215.7 1450.7,1215.7 1451.7,1215.7 1452.7,1132.1 1453.7,1215.7 1454.6,1194.5 1455.6,1194.5 1456.6,1109.1 1457.6,1176 1458.5,1215.7 1459.5,1176 1460.5,1311.3 1461.5,1240.9 1462.4,1159.8 1463.4,1194.5 1464.4,1176 1465.4,1109.1 1466.4,1271.7 1467.3,1194.5 1468.3,1098.8 1469.3,1159.8 1470.3,1215.7 1471.2,1240.9 1472.2,1215.7 1473.2,1194.5 1474.2,1215.7 1475.2,1159.8 1476.1,1215.7 1477.1,1367.3 1478.1,1159.8 1479.1,1240.9 1480,1215.7 1481,1194.5 1482,1176 1483,1159.8 1484,1271.7 1484.9,1240.9 1485.9,1271.7 1486.9,1194.5 1487.9,1194.5 1488.8,1145.2 1489.8,1176 1490.8,1176 1491.8,1120.1 1492.8,1145.2 1493.7,1132.1 1494.7,1271.7 1495.7,1240.9 1496.7,1271.7 1497.6,1271.7 1498.6,1215.7 1499.6,1176 1500.6,1311.3 1501.6,1176 1502.5,1194.5 1503.5,1240.9 1504.5,1215.7 1505.5,1215.7 1506.4,1240.9 1507.4,1240.9 1508.4,1215.7 1509.4,1271.7 1510.3,1240.9 1511.3,1176 1512.3,1109.1 1513.3,1271.7 1514.3,1367.3 1515.2,1176 1516.2,1240.9 1517.2,1215.7 1518.2,1159.8 1519.1,1271.7 1520.1,1145.2 1521.1,1176 1522.1,1176 1523.1,1240.9 1524,1194.5 1525,1311.3 1526,1176 1527,1240.9 1527.9,1194.5 1528.9,1271.7 1529.9,1240.9 1530.9,1132.1 1531.9,1194.5 1532.8,1176 1533.8,1240.9 1534.8,1240.9 1535.8,1240.9 1536.7,1159.8 1537.7,1176 1538.7,1145.2 1539.7,1194.5 1540.7,1132.1 1541.6,1240.9 1542.6,1194.5 1543.6,1215.7 1544.6,1240.9 1545.5,1271.7 1546.5,1240.9 1547.5,1159.8 1548.5,1194.5 1549.4,1132.1 1550.4,1159.8 1551.4,1240.9 1552.4,1271.7 1553.4,1271.7 1554.3,1311.3 1555.3,1215.7 1556.3,1240.9 1557.3,1240.9 1558.2,1215.7 1559.2,1271.7 1560.2,1240.9 1561.2,1159.8 1562.2,1159.8 1563.1,1271.7 1564.1,1159.8 1565.1,1215.7 1566.1,1271.7 1567,1132.1 1568,1145.2 1569,1311.3 1570,1176 1571,1271.7 1571.9,1176 1572.9,1240.9 1573.9,1271.7 1574.9,1132.1 1575.8,1240.9 1576.8,1132.1 1577.8,1176 1578.8,1215.7 1579.8,1215.7 1580.7,1159.8 1581.7,1159.8 1582.7,1240.9 1583.7,1194.5 1584.6,1215.7 1585.6,1215.7 1586.6,1215.7 1587.6,1215.7 1588.6,1215.7 1589.5,1311.3 1590.5,1240.9 1591.5,1215.7 1592.5,1132.1 1593.4,1215.7 1594.4,1194.5 1595.4,1311.3 1596.4,1271.7 1597.3,1240.9 1598.3,1240.9 1599.3,1311.3 1600.3,1194.5 1601.3,1367.3 1602.2,1176 1603.2,1176 1604.2,1159.8 1605.2,1176 1606.1,1176 1607.1,1271.7 1608.1,1194.5 1609.1,1240.9 1610.1,1271.7 1611,1120.1 1612,1145.2 1613,1215.7 1614,1271.7 1614.9,1311.3 1615.9,1176 1616.9,1215.7 1617.9,1194.5 1618.9,1159.8 1619.8,1176 1620.8,1145.2 1621.8,1194.5 1622.8,1194.5 1623.7,1271.7 1624.7,1311.3 1625.7,1194.5 1626.7,1271.7 1627.7,1271.7 1628.6,1240.9 1629.6,1271.7 1630.6,1271.7 1631.6,1311.3 1632.5,1240.9 1633.5,1194.5 1634.5,1240.9 1635.5,1176 1636.4,1194.5 1637.4,1240.9 1638.4,1271.7 1639.4,1176 1640.4,1176 1641.3,1194.5 1642.3,1367.3 1643.3,1215.7 1644.3,1176 1645.2,1271.7 1646.2,1271.7 1647.2,1194.5 1648.2,1367.3 1649.2,1132.1 1650.1,1311.3 1651.1,1194.5 1652.1,1176 1653.1,1240.9 1654,1215.7 1655,1367.3 1656,1271.7 1657,1215.7 1658,1240.9 1658.9,1145.2 1659.9,1240.9 1660.9,1311.3 1662.8,1311.3 1663.8,1367.3 1664.8,1215.7 1665.8,1311.3 1666.8,1271.7 1667.7,1215.7 1668.7,1311.3 1669.7,1240.9 1670.7,1271.7 1671.6,1132.1 1672.6,1462.9 1673.6,1271.7 1674.6,1215.7 1675.6,1194.5 1676.5,1159.8 1677.5,1240.9 1678.5,1194.5 1679.5,1159.8 1680.4,1271.7 1681.4,1311.3 1682.4,1215.7 1683.4,1311.3 1684.3,1311.3 1685.3,1311.3 1686.3,1240.9 1687.3,1311.3 1688.3,1311.3 1689.2,1240.9 1690.2,1367.3 1691.2,1240.9 1692.2,1240.9 1693.1,1240.9 1694.1,1462.9 1695.1,1462.9 1696.1,1194.5 1697.1,1367.3 1698,1367.3 1699,1367.3 1700,1271.7 1701,1271.7 1701.9,1240.9 1702.9,1215.7 1703.9,1240.9 1704.9,1240.9 1705.9,1240.9 1706.8,1159.8 1707.8,1176 1708.8,1240.9 1709.8,1240.9 1710.7,1240.9 1711.7,1271.7 1712.7,1159.8 1713.7,1271.7 1714.7,1367.3 1715.6,1215.7 1716.6,1176 1717.6,1240.9 1718.6,1215.7 1719.5,1215.7 1720.5,1271.7 1721.5,1240.9 1723.4,1240.9 1724.4,1194.5 1725.4,1194.5 1726.4,1176 1727.4,1240.9 1728.3,1311.3 1729.3,1159.8 1730.3,1176 1731.3,1176 1732.2,1194.5 1733.2,1367.3 1734.2,1194.5 1735.2,1240.9 1736.2,1240.9 1737.1,1240.9 1738.1,1145.2 1739.1,1311.3 1740.1,1311.3 1741,1240.9 1742,1240.9 1743,1194.5 1744,1240.9 1745,1194.5 1745.9,1367.3 1746.9,1132.1 1747.9,1367.3 1748.9,1271.7 1749.8,1240.9 1750.8,1271.7 1751.8,1176 1752.8,1367.3 1753.8,1215.7 1754.7,1240.9 1755.7,1462.9 1756.7,1271.7 1757.7,1215.7 1758.6,1194.5 1760.6,1159.8 1761.6,1145.2 1762.6,1271.7 1763.5,1176 1764.5,1271.7 1765.5,1311.3 1766.5,1215.7 1767.4,1240.9 1768.4,1311.3 1769.4,1462.9 1770.4,1311.3 1771.3,1215.7 1772.3,1132.1 1773.3,1215.7 1774.3,1271.7 1775.3,1176 1776.2,1271.7 1777.2,1311.3 1778.2,1240.9 1779.2,1240.9 1780.1,1311.3 1781.1,1240.9 1782.1,1367.3 1783.1,1215.7 1784.1,1311.3 1785,1194.5 1786,1176 1787,1240.9 1788,1271.7 1788.9,1311.3 1789.9,1462.9 1790.9,1367.3 1792.9,1215.7 1793.8,1145.2 1794.8,1240.9 1795.8,1311.3 1796.8,1240.9 1797.7,1159.8 1798.7,1271.7 1799.7,1311.3 1800.7,1215.7 1801.7,1098.8 1802.6,1215.7 1803.6,1271.7 1804.6,1215.7 1805.6,1194.5 1806.5,1194.5 1807.5,1215.7 1808.5,1132.1 1809.5,1215.7 1810.4,1176 1811.4,1159.8 1812.4,1120.1 1813.4,1240.9 1814.4,1271.7 1815.3,1194.5 1816.3,1271.7 1817.3,1240.9 1818.3,1462.9 1819.2,1271.7 1820.2,1215.7 1821.2,1176 1822.2,1311.3 1823.2,1145.2 1824.1,1367.3 1825.1,1311.3 1826.1,1194.5 1827.1,1271.7 1828,1367.3 1829,1145.2 1830,1176 1831,1240.9 1832,1240.9 1832.9,1311.3 1833.9,1176 1834.9,1215.7 1835.9,1271.7 1836.8,1462.9 1837.8,1271.7 1838.8,1240.9 1839.8,1311.3 1840.8,1271.7 1841.7,1145.2 1842.7,1159.8 1843.7,1215.7 1844.7,1194.5 1845.6,1311.3 1846.6,1271.7 1847.6,1215.7 1848.6,1462.9 1849.6,1240.9 1850.5,1271.7 1851.5,1176 1852.5,1194.5 1853.5,1311.3 1854.4,1271.7 1855.4,1194.5 1856.4,1215.7 1857.4,1367.3 1858.3,1367.3 1859.3,1194.5 1860.3,1271.7 1861.3,1194.5 1862.3,1145.2 1863.2,1240.9 1864.2,1215.7 1865.2,1145.2 1866.2,1240.9 1867.1,1271.7 1868.1,1120.1 1869.1,1271.7 1870.1,1311.3 1871.1,1176 1872,1194.5 1873,1240.9 1874,1311.3 1875,1215.7 1875.9,1215.7 1876.9,1240.9 1877.9,1215.7 1878.9,1215.7 1879.9,1240.9 1880.8,1311.3 1881.8,1240.9 1882.8,1367.3 1883.8,1176 1884.7,1215.7 1885.7,1271.7 1886.7,1215.7 1887.7,1367.3 1888.7,1240.9 1889.6,1194.5 1890.6,1240.9 1891.6,1176 1892.6,1240.9 1893.5,1194.5 1894.5,1194.5 1895.5,1194.5 1896.5,1240.9 1897.4,1132.1 1899.4,1240.9 1900.4,1215.7 1901.4,1240.9 1902.3,1194.5 1903.3,1271.7 1904.3,1159.8 1905.3,1367.3 1906.2,1240.9 1907.2,1215.7 1908.2,1159.8 1909.2,1194.5 1910.2,1367.3 1912.1,1311.3 1913.1,1215.7 1914.1,1271.7 1915,1240.9 1916,1311.3 1917,1215.7 1918,1311.3 1919,1240.9 1919.9,1194.5 1920.9,1271.7 1921.9,1176 1922.9,1271.7 1923.8,1194.5 1924.8,1240.9 1925.8,1271.7 1926.8,1159.8 1927.8,1145.2 1928.7,1176 1929.7,1215.7 1930.7,1240.9 1931.7,1311.3 1932.6,1159.8 1933.6,1367.3 1934.6,1311.3 1935.6,1132.1 1936.6,1194.5 1937.5,1311.3 1938.5,1240.9 1939.5,1271.7 1940.5,1271.7 1941.4,1109.1 1942.4,1311.3 1943.4,1367.3 1944.4,1271.7 1945.3,1240.9 1946.3,1311.3 1947.3,1176 1948.3,1159.8 1949.3,1194.5 1950.2,1176 1951.2,1271.7 1952.2,1240.9 1953.2,1215.7 1954.1,1215.7 1955.1,1240.9 1956.1,1194.5 1957.1,1271.7 1958.1,1215.7 1959,1367.3 1960,1240.9 1961,1240.9 1962,1271.7 1962.9,1271.7 1963.9,1159.8 1964.9,1194.5 1965.9,1367.3 1966.9,1240.9 1967.8,1240.9 1968.8,1240.9 1969.8,1271.7 1970.8,1159.8 1971.7,1240.9 1972.7,1176 1973.7,1176 1974.7,1367.3 1975.7,1240.9 1976.6,1215.7 1977.6,1215.7 1978.6,1215.7 1979.6,1240.9 1980.5,1367.3 1981.5,1271.7 1982.5,1240.9 1983.5,1271.7 1984.4,1240.9 1985.4,1271.7 1987.4,1271.7 1988.4,1194.5 1989.3,1462.9 1990.3,1215.7 1991.3,1271.7 1992.3,1176 1993.2,1271.7 1994.2,1240.9 1995.2,1194.5 1996.2,1194.5 1997.2,1194.5 1998.1,1240.9 1999.1,1311.3 2000.1,1240.9 2001.1,1176 2002,1271.7 2003,1311.3 2004,1271.7 2005,1215.7 2006,1240.9 2006.9,1271.7 2007.9,1120.1 2008.9,1215.7 2009.9,1240.9 2010.8,1215.7 2011.8,1462.9 2012.8,1367.3 2013.8,1194.5 2014.8,1194.5 2015.7,1176 2016.7,1271.7 2017.7,1311.3 2018.7,1176 2019.6,1215.7 2020.6,1367.3 2021.6,1215.7 2022.6,1132.1 2023.6,1215.7 2024.5,1215.7 2025.5,1311.3 2026.5,1311.3 2027.5,1311.3 2028.4,1271.7 2029.4,1194.5 2030.4,1215.7 2031.4,1240.9 2032.3,1311.3 2033.3,1145.2 2034.3,1089.3 2035.3,1194.5 2036.3,1194.5 2037.2,1176 2038.2,1240.9 2039.2,1159.8 2040.2,1367.3 2041.1,1132.1 2042.1,1215.7 2043.1,1194.5 2044.1,1240.9 2045.1,1240.9 2046,1311.3 2047,1194.5 2048,1194.5 2049,1271.7 2049.9,1271.7 2050.9,1367.3 2051.9,1311.3 2052.9,1215.7 2053.9,1176 2054.8,1271.7 2055.8,1215.7 2056.8,1194.5 2057.8,1215.7 2058.7,1215.7 2059.7,1215.7 2060.7,1240.9 2061.7,1194.5 2062.7,1159.8 2063.6,1311.3 2064.6,1271.7 2065.6,1215.7 2066.6,1271.7 2067.5,1240.9 2068.5,1311.3 2069.5,1240.9 2070.5,1194.5 2071.4,1271.7 2072.4,1240.9 2073.4,1215.7 2074.4,1194.5 2075.4,1367.3 2076.3,1271.7 2077.3,1240.9 2078.3,1311.3 2079.3,1311.3 2080.2,1176 2081.2,1215.7 2082.2,1240.9 2083.2,1271.7 2084.2,1271.7 2085.1,1271.7 2086.1,1311.3 2087.1,1240.9 2088.1,1367.3 2089,1215.7 2090,1271.7 2091,1367.3 2092,1367.3 2093,1215.7 2093.9,1240.9 2094.9,1271.7 2095.9,1215.7 2096.9,1240.9 2097.8,1240.9 2098.8,1271.7 2099.8,1367.3 2100.8,1462.9 2101.8,1215.7 2102.7,1271.7 2103.7,1159.8 2104.7,1194.5 2105.7,1271.7 2106.6,1240.9 2107.6,1240.9 2108.6,1109.1 2109.6,1271.7 2110.6,1215.7 2111.5,1132.1 2112.5,1145.2 2113.5,1271.7 2114.5,1367.3 2115.4,1240.9 2116.4,1240.9 2117.4,1311.3 2118.4,1194.5 2119.3,1176 2120.3,1367.3 2121.3,1271.7 2122.3,1271.7 2123.3,1215.7 2124.2,1240.9 2125.2,1194.5 2126.2,1215.7 2127.2,1367.3 2128.1,1194.5 2129.1,1240.9 2130.1,1240.9 2131.1,1271.7 2132.1,1367.3 2133,1240.9 2134,1159.8 2135,1215.7 2136,1271.7 2136.9,1240.9 2137.9,1240.9 2138.9,1271.7 2139.9,1240.9 2140.9,1194.5 2141.8,1240.9 2142.8,1271.7 2143.8,1240.9 2144.8,1194.5 2145.7,1271.7 2146.7,1311.3 2147.7,1215.7 2148.7,1462.9 2149.7,1176 2150.6,1311.3 2151.6,1367.3 2152.6,1367.3 2153.6,1271.7 2154.5,1462.9 2155.5,1462.9 2156.5,1176 2157.5,1240.9 2158.4,1311.3 2159.4,1176 2160.4,1215.7 2161.4,1240.9 2162.4,1240.9 2163.3,1240.9 2164.3,1176 2165.3,1271.7 2166.3,1271.7 2167.2,1271.7 2168.2,1159.8 2169.2,1194.5 2170.2,1271.7 2171.2,1240.9 2172.1,1240.9 2173.1,1311.3 2174.1,1271.7 2175.1,1271.7 2176,1240.9 2177,1145.2 2178,1271.7 2179,1240.9 2180,1240.9 2180.9,1215.7 2181.9,1215.7 2182.9,1194.5 2183.9,1311.3 2184.8,1271.7 2185.8,1271.7 2186.8,1271.7 2187.8,1194.5 2188.8,1271.7 2189.7,1240.9 2190.7,1194.5 2191.7,1240.9 2192.7,1176 2193.6,1367.3 2194.6,1176 2195.6,1367.3 2196.6,1271.7 2197.6,1215.7 2198.5,1176 2199.5,1240.9 2200.5,1194.5 2201.5,1367.3 2202.4,1240.9 2203.4,1194.5 2204.4,1311.3 2205.4,1215.7 2206.3,1367.3 2207.3,1176 2208.3,1176 2209.3,1240.9 2210.3,1215.7 2211.2,1176 2212.2,1311.3 2213.2,1311.3 2214.2,1194.5 2215.1,1240.9 2216.1,1215.7 2217.1,1311.3 2218.1,1176 2219.1,1215.7 2220,1215.7 2221,1271.7 2222,1367.3 2223,1176 2223.9,1159.8 2224.9,1367.3 2225.9,1194.5 2226.9,1194.5 2227.9,1240.9 2228.8,1271.7 2229.8,1367.3 2230.8,1215.7 2231.8,1215.7 2232.7,1240.9 2233.7,1240.9 2234.7,1194.5 2235.7,1367.3 2236.7,1311.3 2237.6,1240.9 2238.6,1462.9 2239.6,1311.3 2240.6,1311.3 2241.5,1240.9 2242.5,1240.9 2243.5,1215.7 2244.5,1194.5 2245.4,1271.7 2246.4,1271.7 2247.4,1194.5 2248.4,1271.7 2249.4,1240.9 2250.3,1194.5 2251.3,1215.7 2252.3,1215.7 2253.3,1145.2 2254.2,1367.3 2255.2,1311.3 2256.2,1367.3 2257.2,1145.2 2258.2,1367.3 2259.1,1311.3 2260.1,1215.7 2261.1,1271.7 2262.1,1367.3 2263,1271.7 2264,1240.9 2265,1194.5 2266,1194.5 2267,1271.7 2267.9,1159.8 2268.9,1367.3 2269.9,1367.3 2270.9,1240.9 2271.8,1109.1 2272.8,1367.3 2273.8,1194.5 2274.8,1176 2275.8,1240.9 2276.7,1462.9 2277.7,1240.9 2278.7,1215.7 2279.7,1215.7 2280.6,1215.7 2281.6,1194.5 2282.6,1120.1 2283.6,1194.5 2284.6,1367.3 2285.5,1311.3 2286.5,1176 2287.5,1240.9 2288.5,1271.7 2289.4,1271.7 2290.4,1311.3 2291.4,1176 2292.4,1462.9 2293.3,1215.7 2294.3,1194.5 2295.3,1145.2 2296.3,1176 2297.3,1271.7 2298.2,1132.1 2299.2,1367.3 2300.2,1215.7 2301.2,1271.7 2302.1,1215.7 2303.1,1367.3 2304.1,1240.9 2305.1,1240.9 2306.1,1311.3 2307,1159.8 2308,1215.7 2309,1271.7 2310,1176 2310.9,1271.7 2311.9,1240.9 2312.9,1271.7 2313.9,1311.3 2314.9,1215.7 2315.8,1367.3 2316.8,1194.5 2317.8,1271.7 2318.8,1240.9 2319.7,1176 2320.7,1311.3 2321.7,1215.7 2322.7,1215.7 2323.7,1367.3 2324.6,1367.3 2325.6,1271.7 2326.6,1271.7 2327.6,1145.2 2328.5,1271.7 2329.5,1271.7 2330.5,1311.3 2331.5,1367.3 2332.4,1271.7 2333.4,1271.7 2334.4,1194.5 2335.4,1240.9 2336.4,1311.3 2337.3,1271.7 2338.3,1194.5 2339.3,1215.7 2340.3,1271.7 2341.2,1159.8 2342.2,1240.9 2343.2,1240.9 2344.2,1462.9 2345.2,1311.3 2346.1,1194.5 2347.1,1271.7 2348.1,1176 2349.1,1271.7 2350,1194.5 2351,1271.7 2352,1240.9" stroke="#FA8040"/>
</g>
<rect x="322.7" y="24.0" width="2048.3" height="1459.1" fill="none" stroke="#000" stroke-width="3"/>
<path d="M351.7 1483.1L351.7 1467.6M351.7 24L351.7 36.7M636 1483.1L636 1467.6M636 24L636 36.7M920.3 1483.1L920.3 1467.6M920.3 24L920.3 36.7M1204.6 1483.1L1204.6 1467.6M1204.6 24L1204.6 36.7M1488.9 1483.1L1488.9 1467.6M1488.9 24L1488.9 36.7M1773.2 1483.1L1773.2 1467.6M1773.2 24L1773.2 36.7M2057.5 1483.1L2057.5 1467.6M2057.5 24L2057.5 36.7M2341.8 1483.1L2341.8 1467.6M2341.8 24L2341.8 36.7M322.7 1462.9L338.2 1462.9M2371 1462.9L2358.3 1462.9M322.7 1367.3L338.2 1367.3M2371 1367.3L2358.3 1367.3M322.7 1311.3L338.2 1311.3M2371 1311.3L2358.3 1311.3M322.7 1271.7L338.2 1271.7M2371 1271.7L2358.3 1271.7M322.7 1240.9L338.2 1240.9M2371 1240.9L2358.3 1240.9M322.7 1215.7L338.2 1215.7M2371 1215.7L2358.3 1215.7M322.7 1194.5L338.2 1194.5M2371 1194.5L2358.3 1194.5M322.7 1176L338.2 1176M2371 1176L2358.3 1176M322.7 1159.8L338.2 1159.8M2371 1159.8L2358.3 1159.8M322.7 1145.2L338.2 1145.2M2371 1145.2L2358.3 1145.2M322.7 1049.6L338.2 1049.6M2371 1049.6L2358.3 1049.6M322.7 993.7L338.2 993.7M2371 993.7L2358.3 993.7M322.7 954L338.2 954M2371 954L2358.3 954M322.7 923.2L338.2 923.2M2371 923.2L2358.3 923.2M322.7 898.1L338.2 898.1M2371 898.1L2358.3 898.1M322.7 876.8L338.2 876.8M2371 876.8L2358.3 876.8M322.7 858.4L338.2 858.4M2371 858.4L2358.3 858.4M322.7 842.1L338.2 842.1M2371 842.1L2358.3 842.1M322.7 827.6L338.2 827.6M2371 827.6L2358.3 827.6M322.7 732L338.2 732M2371 732L2358.3 732M322.7 676L338.2 676M2371 676L2358.3 676M322.7 636.4L338.2 636.4M2371 636.4L2358.3 636.4M322.7 605.6L338.2 605.6M2371 605.6L2358.3 605.6M322.7 580.4L338.2 580.4M2371 580.4L2358.3 580.4M322.7 559.2L338.2 559.2M2371 559.2L2358.3 559.2M322.7 540.7L338.2 540.7M2371 540.7L2358.3 540.7M322.7 524.5L338.2 524.5M2371 524.5L2358.3 524.5M322.7 510L338.2 510M2371 510L2358.3 510M322.7 414.3L338.2 414.3M2371 414.3L2358.3 414.3M322.7 358.4L338.2 358.4M2371 358.4L2358.3 358.4M322.7 318.7L338.2 318.7M2371 318.7L2358.3 318.7M322.7 287.9L338.2 287.9M2371 287.9L2358.3 287.9M322.7 262.8L338.2 262.8M2371 262.8L2358.3 262.8M322.7 241.5L338.2 241.5M2371 241.5L2358.3 241.5M322.7 223.1L338.2 223.1M2371 223.1L2358.3 223.1M322.7 206.8L338.2 206.8M2371 206.8L2358.3 206.8M322.7 192.3L338.2 192.3M2371 192.3L2358.3 192.3M322.7 96.7L338.2 96.7M2371 96.7L2358.3 96.7" stroke="#000" stroke-width="2.6" fill="none"/>
<text x="181" y="1491.7" class="tl">10</text><text x="273.5" y="1452.7" class="ts">0</text><text x="181" y="1174" class="tl">10</text><text x="273.5" y="1135" class="ts">1</text><text x="181" y="856.4" class="tl">10</text><text x="273.5" y="817.4" class="ts">2</text><text x="181" y="538.8" class="tl">10</text><text x="273.5" y="499.8" class="ts">3</text><text x="181" y="221.1" class="tl">10</text><text x="273.5" y="182.1" class="ts">4</text>
<text x="351.7" y="1567.8" class="tl" text-anchor="middle">0</text><text x="636" y="1567.8" class="tl" text-anchor="middle">5</text><text x="920.3" y="1567.8" class="tl" text-anchor="middle">10</text><text x="1204.6" y="1567.8" class="tl" text-anchor="middle">15</text><text x="1488.9" y="1567.8" class="tl" text-anchor="middle">20</text><text x="1773.2" y="1567.8" class="tl" text-anchor="middle">25</text><text x="2057.5" y="1567.8" class="tl" text-anchor="middle">30</text><text x="2341.8" y="1567.8" class="tl" text-anchor="middle">35</text>
<text x="1201" y="1652.9" class="at" textLength="292" lengthAdjust="spacingAndGlyphs">Time/ns</text>
<text transform="translate(80.4,754.3) rotate(-90)" class="at" text-anchor="middle">Counts</text>
<text x="1580" y="199.4" class="lg" fill="#0C0A82">IRF</text><text x="1580" y="283.6" class="lg" fill="#7412E4">P5 (2x10<tspan class="lgs" dy="-17">-7</tspan><tspan dy="17"> M)</tspan></text><text x="1580" y="367.5" class="lg" fill="#E0127A">P5 + 1x10<tspan class="lgs" dy="-17">-4</tspan><tspan dy="17"> M 2,4-DNT</tspan></text><text x="1580" y="451.6" class="lg" fill="#1E7D28">P5 + 2x10<tspan class="lgs" dy="-17">-4</tspan><tspan dy="17"> M 2,4-DNT</tspan></text><text x="1580" y="535.8" class="lg" fill="#E3101E">P5 + 3x10<tspan class="lgs" dy="-17">-4</tspan><tspan dy="17"> M 2,4-DNT</tspan></text><text x="1580" y="619.3" class="lg" fill="#F68048">P5 + 4x10<tspan class="lgs" dy="-17">-4</tspan><tspan dy="17"> M 2,4-DNT</tspan></text>
</svg>
</body></html>
